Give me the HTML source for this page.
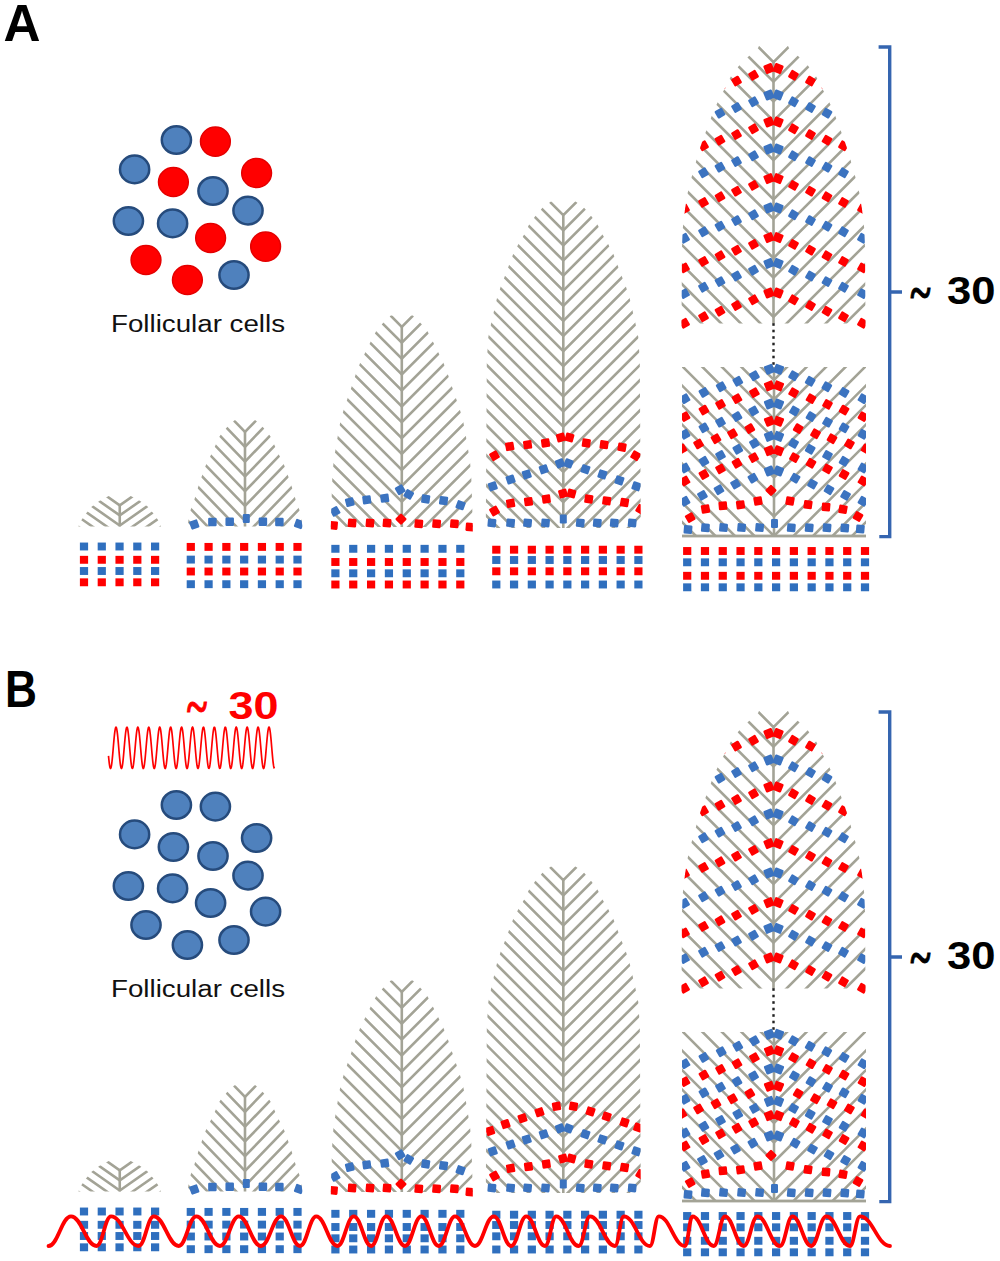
<!DOCTYPE html><html><head><meta charset="utf-8"><style>html,body{margin:0;padding:0;background:#fff;}svg{display:block;}</style></head><body><svg width="1000" height="1261" viewBox="0 0 1000 1261"><defs><clipPath id="c1"><path d="M78.42,526.5 L78.58,526 L78.92,525 L79.25,524 L79.58,523 L80.09,522 L80.78,521 L81.47,520 L82.16,519 L82.84,518 L83.53,517 L84.22,516 L84.91,515 L85.65,514 L86.45,513 L87.25,512 L88.05,511 L88.85,510 L89.65,509 L90.45,508 L91.25,507 L92.58,506 L93.92,505 L95.25,504 L96.58,503 L97.92,502 L99.25,501 L101.15,500 L103.05,499 L104.95,498 L106.85,497 L108.75,496 L130.75,496 L132.65,497 L134.55,498 L136.45,499 L138.35,500 L140.25,501 L141.58,502 L142.92,503 L144.25,504 L145.58,505 L146.92,506 L148.25,507 L149.05,508 L149.85,509 L150.65,510 L151.45,511 L152.25,512 L153.05,513 L153.85,514 L154.59,515 L155.28,516 L155.97,517 L156.66,518 L157.34,519 L158.03,520 L158.72,521 L159.41,522 L159.92,523 L160.25,524 L160.58,525 L160.92,526 L161.08,526.5 Z"/></clipPath><clipPath id="c2"><path d="M187.54,526.5 L187.57,526.3 L187.72,525.3 L187.86,524.3 L188,523.3 L188.15,522.3 L188.29,521.3 L188.44,520.3 L188.58,519.3 L188.72,518.3 L188.87,517.3 L189.01,516.3 L189.15,515.3 L189.3,514.3 L189.44,513.3 L189.72,512.3 L190.1,511.3 L190.47,510.3 L190.85,509.3 L191.22,508.3 L191.6,507.3 L191.97,506.3 L192.35,505.3 L192.72,504.3 L193.1,503.3 L193.47,502.3 L193.85,501.3 L194.18,500.3 L194.47,499.3 L194.77,498.3 L195.07,497.3 L195.37,496.3 L195.66,495.3 L195.96,494.3 L196.26,493.3 L196.55,492.3 L196.85,491.3 L197.15,490.3 L197.44,489.3 L197.74,488.3 L198.07,487.3 L198.41,486.3 L198.74,485.3 L199.08,484.3 L199.41,483.3 L199.75,482.3 L200.09,481.3 L200.42,480.3 L200.76,479.3 L201.1,478.3 L201.43,477.3 L201.78,476.3 L202.14,475.3 L202.5,474.3 L202.85,473.3 L203.21,472.3 L203.57,471.3 L203.93,470.3 L204.29,469.3 L204.65,468.3 L205.01,467.3 L205.36,466.3 L205.85,465.3 L206.34,464.3 L206.84,463.3 L207.33,462.3 L207.83,461.3 L208.32,460.3 L208.82,459.3 L209.31,458.3 L209.81,457.3 L210.3,456.3 L210.79,455.3 L211.26,454.3 L211.73,453.3 L212.2,452.3 L212.67,451.3 L213.13,450.3 L213.6,449.3 L214.07,448.3 L214.54,447.3 L215.01,446.3 L215.48,445.3 L215.93,444.3 L216.39,443.3 L216.85,442.3 L217.31,441.3 L217.77,440.3 L218.23,439.3 L218.69,438.3 L219.15,437.3 L219.61,436.3 L220.36,435.3 L221.17,434.3 L221.99,433.3 L222.81,432.3 L223.63,431.3 L224.45,430.3 L225.27,429.3 L226.09,428.3 L227.03,427.3 L228.1,426.3 L229.17,425.3 L230.23,424.3 L231.3,423.3 L232.37,422.3 L233.43,421.3 L234.5,420.3 L255.5,420.3 L256.57,421.3 L257.63,422.3 L258.7,423.3 L259.77,424.3 L260.83,425.3 L261.9,426.3 L262.97,427.3 L263.91,428.3 L264.73,429.3 L265.55,430.3 L266.37,431.3 L267.19,432.3 L268.01,433.3 L268.83,434.3 L269.64,435.3 L270.39,436.3 L270.85,437.3 L271.31,438.3 L271.77,439.3 L272.23,440.3 L272.69,441.3 L273.15,442.3 L273.61,443.3 L274.07,444.3 L274.52,445.3 L274.99,446.3 L275.46,447.3 L275.93,448.3 L276.4,449.3 L276.87,450.3 L277.33,451.3 L277.8,452.3 L278.27,453.3 L278.74,454.3 L279.21,455.3 L279.7,456.3 L280.19,457.3 L280.69,458.3 L281.18,459.3 L281.68,460.3 L282.17,461.3 L282.67,462.3 L283.16,463.3 L283.66,464.3 L284.15,465.3 L284.64,466.3 L284.99,467.3 L285.35,468.3 L285.71,469.3 L286.07,470.3 L286.43,471.3 L286.79,472.3 L287.15,473.3 L287.5,474.3 L287.86,475.3 L288.22,476.3 L288.57,477.3 L288.9,478.3 L289.24,479.3 L289.58,480.3 L289.91,481.3 L290.25,482.3 L290.59,483.3 L290.92,484.3 L291.26,485.3 L291.59,486.3 L291.93,487.3 L292.26,488.3 L292.56,489.3 L292.85,490.3 L293.15,491.3 L293.45,492.3 L293.74,493.3 L294.04,494.3 L294.34,495.3 L294.63,496.3 L294.93,497.3 L295.23,498.3 L295.52,499.3 L295.82,500.3 L296.15,501.3 L296.52,502.3 L296.9,503.3 L297.27,504.3 L297.65,505.3 L298.02,506.3 L298.4,507.3 L298.77,508.3 L299.15,509.3 L299.52,510.3 L299.9,511.3 L300.27,512.3 L300.56,513.3 L300.7,514.3 L300.85,515.3 L300.99,516.3 L301.13,517.3 L301.28,518.3 L301.42,519.3 L301.56,520.3 L301.71,521.3 L301.85,522.3 L302,523.3 L302.14,524.3 L302.28,525.3 L302.43,526.3 L302.46,526.5 Z"/></clipPath><clipPath id="c3"><path d="M187.54,534.5 L187.54,526.5 L187.57,526.3 L187.72,525.3 L187.86,524.3 L188,523.3 L188.15,522.3 L188.29,521.3 L188.44,520.3 L188.58,519.3 L188.72,518.3 L188.87,517.3 L189.01,516.3 L189.15,515.3 L189.3,514.3 L189.44,513.3 L189.72,512.3 L190.1,511.3 L190.47,510.3 L190.85,509.3 L191.22,508.3 L191.6,507.3 L191.97,506.3 L192.35,505.3 L192.72,504.3 L193.1,503.3 L193.47,502.3 L193.85,501.3 L194.18,500.3 L194.47,499.3 L194.77,498.3 L195.07,497.3 L195.37,496.3 L195.66,495.3 L195.96,494.3 L196.26,493.3 L196.55,492.3 L196.85,491.3 L197.15,490.3 L197.44,489.3 L197.74,488.3 L198.07,487.3 L198.41,486.3 L198.74,485.3 L199.08,484.3 L199.41,483.3 L199.75,482.3 L200.09,481.3 L200.42,480.3 L200.76,479.3 L201.1,478.3 L201.43,477.3 L201.78,476.3 L202.14,475.3 L202.5,474.3 L202.85,473.3 L203.21,472.3 L203.57,471.3 L203.93,470.3 L204.29,469.3 L204.65,468.3 L205.01,467.3 L205.36,466.3 L205.85,465.3 L206.34,464.3 L206.84,463.3 L207.33,462.3 L207.83,461.3 L208.32,460.3 L208.82,459.3 L209.31,458.3 L209.81,457.3 L210.3,456.3 L210.79,455.3 L211.26,454.3 L211.73,453.3 L212.2,452.3 L212.67,451.3 L213.13,450.3 L213.6,449.3 L214.07,448.3 L214.54,447.3 L215.01,446.3 L215.48,445.3 L215.93,444.3 L216.39,443.3 L216.85,442.3 L217.31,441.3 L217.77,440.3 L218.23,439.3 L218.69,438.3 L219.15,437.3 L219.61,436.3 L220.36,435.3 L221.17,434.3 L221.99,433.3 L222.81,432.3 L223.63,431.3 L224.45,430.3 L225.27,429.3 L226.09,428.3 L227.03,427.3 L228.1,426.3 L229.17,425.3 L230.23,424.3 L231.3,423.3 L232.37,422.3 L233.43,421.3 L234.5,420.3 L255.5,420.3 L256.57,421.3 L257.63,422.3 L258.7,423.3 L259.77,424.3 L260.83,425.3 L261.9,426.3 L262.97,427.3 L263.91,428.3 L264.73,429.3 L265.55,430.3 L266.37,431.3 L267.19,432.3 L268.01,433.3 L268.83,434.3 L269.64,435.3 L270.39,436.3 L270.85,437.3 L271.31,438.3 L271.77,439.3 L272.23,440.3 L272.69,441.3 L273.15,442.3 L273.61,443.3 L274.07,444.3 L274.52,445.3 L274.99,446.3 L275.46,447.3 L275.93,448.3 L276.4,449.3 L276.87,450.3 L277.33,451.3 L277.8,452.3 L278.27,453.3 L278.74,454.3 L279.21,455.3 L279.7,456.3 L280.19,457.3 L280.69,458.3 L281.18,459.3 L281.68,460.3 L282.17,461.3 L282.67,462.3 L283.16,463.3 L283.66,464.3 L284.15,465.3 L284.64,466.3 L284.99,467.3 L285.35,468.3 L285.71,469.3 L286.07,470.3 L286.43,471.3 L286.79,472.3 L287.15,473.3 L287.5,474.3 L287.86,475.3 L288.22,476.3 L288.57,477.3 L288.9,478.3 L289.24,479.3 L289.58,480.3 L289.91,481.3 L290.25,482.3 L290.59,483.3 L290.92,484.3 L291.26,485.3 L291.59,486.3 L291.93,487.3 L292.26,488.3 L292.56,489.3 L292.85,490.3 L293.15,491.3 L293.45,492.3 L293.74,493.3 L294.04,494.3 L294.34,495.3 L294.63,496.3 L294.93,497.3 L295.23,498.3 L295.52,499.3 L295.82,500.3 L296.15,501.3 L296.52,502.3 L296.9,503.3 L297.27,504.3 L297.65,505.3 L298.02,506.3 L298.4,507.3 L298.77,508.3 L299.15,509.3 L299.52,510.3 L299.9,511.3 L300.27,512.3 L300.56,513.3 L300.7,514.3 L300.85,515.3 L300.99,516.3 L301.13,517.3 L301.28,518.3 L301.42,519.3 L301.56,520.3 L301.71,521.3 L301.85,522.3 L302,523.3 L302.14,524.3 L302.28,525.3 L302.43,526.3 L302.46,526.5 L302.46,534.5 Z"/></clipPath><clipPath id="c4"><path d="M330.81,527 L330.83,526.5 L330.86,525.5 L330.89,524.5 L330.92,523.5 L330.94,522.5 L330.97,521.5 L331,520.5 L331.03,519.5 L331.06,518.5 L331.09,517.5 L331.12,516.5 L331.15,515.5 L331.18,514.5 L331.2,513.5 L331.23,512.5 L331.26,511.5 L331.29,510.5 L331.32,509.5 L331.35,508.5 L331.38,507.5 L331.41,506.5 L331.44,505.5 L331.46,504.5 L331.49,503.5 L331.52,502.5 L331.55,501.5 L331.58,500.5 L331.61,499.5 L331.64,498.5 L331.67,497.5 L331.7,496.5 L331.72,495.5 L331.75,494.5 L331.78,493.5 L331.81,492.5 L331.85,491.5 L331.88,490.5 L331.92,489.5 L331.95,488.5 L331.99,487.5 L332.02,486.5 L332.06,485.5 L332.09,484.5 L332.12,483.5 L332.16,482.5 L332.19,481.5 L332.23,480.5 L332.26,479.5 L332.3,478.5 L332.33,477.5 L332.37,476.5 L332.4,475.5 L332.49,474.5 L332.57,473.5 L332.66,472.5 L332.74,471.5 L332.83,470.5 L332.91,469.5 L333,468.5 L333.08,467.5 L333.17,466.5 L333.25,465.5 L333.34,464.5 L333.42,463.5 L333.51,462.5 L333.59,461.5 L333.74,460.5 L333.91,459.5 L334.07,458.5 L334.23,457.5 L334.39,456.5 L334.55,455.5 L334.71,454.5 L334.87,453.5 L335.03,452.5 L335.19,451.5 L335.35,450.5 L335.51,449.5 L335.67,448.5 L335.84,447.5 L336,446.5 L336.17,445.5 L336.34,444.5 L336.5,443.5 L336.67,442.5 L336.84,441.5 L337.01,440.5 L337.18,439.5 L337.34,438.5 L337.51,437.5 L337.68,436.5 L337.85,435.5 L338.01,434.5 L338.18,433.5 L338.35,432.5 L338.54,431.5 L338.72,430.5 L338.9,429.5 L339.09,428.5 L339.27,427.5 L339.45,426.5 L339.64,425.5 L339.82,424.5 L340,423.5 L340.19,422.5 L340.37,421.5 L340.55,420.5 L340.76,419.5 L341.06,418.5 L341.37,417.5 L341.67,416.5 L341.97,415.5 L342.27,414.5 L342.58,413.5 L342.88,412.5 L343.18,411.5 L343.48,410.5 L343.79,409.5 L344.09,408.5 L344.4,407.5 L344.75,406.5 L345.1,405.5 L345.45,404.5 L345.79,403.5 L346.14,402.5 L346.49,401.5 L346.84,400.5 L347.18,399.5 L347.53,398.5 L347.88,397.5 L348.23,396.5 L348.57,395.5 L348.92,394.5 L349.26,393.5 L349.61,392.5 L349.95,391.5 L350.29,390.5 L350.64,389.5 L350.98,388.5 L351.33,387.5 L351.67,386.5 L352.02,385.5 L352.36,384.5 L352.7,383.5 L353.02,382.5 L353.35,381.5 L353.68,380.5 L354.01,379.5 L354.33,378.5 L354.66,377.5 L354.99,376.5 L355.32,375.5 L355.64,374.5 L355.97,373.5 L356.3,372.5 L356.7,371.5 L357.1,370.5 L357.5,369.5 L357.9,368.5 L358.3,367.5 L358.7,366.5 L359.1,365.5 L359.5,364.5 L359.9,363.5 L360.3,362.5 L360.75,361.5 L361.25,360.5 L361.75,359.5 L362.25,358.5 L362.75,357.5 L363.25,356.5 L363.75,355.5 L364.25,354.5 L364.75,353.5 L365.25,352.5 L365.75,351.5 L366.25,350.5 L366.75,349.5 L367.25,348.5 L367.75,347.5 L368.25,346.5 L368.75,345.5 L369.25,344.5 L369.75,343.5 L370.25,342.5 L370.75,341.5 L371.26,340.5 L371.79,339.5 L372.32,338.5 L372.84,337.5 L373.37,336.5 L373.89,335.5 L374.42,334.5 L374.95,333.5 L375.47,332.5 L376,331.5 L376.82,330.5 L377.65,329.5 L378.47,328.5 L379.29,327.5 L380.12,326.5 L380.94,325.5 L381.76,324.5 L382.59,323.5 L383.52,322.5 L384.56,321.5 L385.6,320.5 L386.64,319.5 L387.68,318.5 L388.72,317.5 L389.76,316.5 L390.8,315.5 L412.8,315.5 L413.84,316.5 L414.88,317.5 L415.92,318.5 L416.96,319.5 L418,320.5 L419.04,321.5 L420.08,322.5 L421.01,323.5 L421.84,324.5 L422.66,325.5 L423.48,326.5 L424.31,327.5 L425.13,328.5 L425.95,329.5 L426.78,330.5 L427.6,331.5 L428.13,332.5 L428.65,333.5 L429.18,334.5 L429.71,335.5 L430.23,336.5 L430.76,337.5 L431.28,338.5 L431.81,339.5 L432.34,340.5 L432.85,341.5 L433.35,342.5 L433.85,343.5 L434.35,344.5 L434.85,345.5 L435.35,346.5 L435.85,347.5 L436.35,348.5 L436.85,349.5 L437.35,350.5 L437.85,351.5 L438.35,352.5 L438.85,353.5 L439.35,354.5 L439.85,355.5 L440.35,356.5 L440.85,357.5 L441.35,358.5 L441.85,359.5 L442.35,360.5 L442.85,361.5 L443.3,362.5 L443.7,363.5 L444.1,364.5 L444.5,365.5 L444.9,366.5 L445.3,367.5 L445.7,368.5 L446.1,369.5 L446.5,370.5 L446.9,371.5 L447.3,372.5 L447.63,373.5 L447.96,374.5 L448.28,375.5 L448.61,376.5 L448.94,377.5 L449.27,378.5 L449.59,379.5 L449.92,380.5 L450.25,381.5 L450.58,382.5 L450.9,383.5 L451.24,384.5 L451.58,385.5 L451.93,386.5 L452.27,387.5 L452.62,388.5 L452.96,389.5 L453.31,390.5 L453.65,391.5 L453.99,392.5 L454.34,393.5 L454.68,394.5 L455.03,395.5 L455.37,396.5 L455.72,397.5 L456.07,398.5 L456.42,399.5 L456.76,400.5 L457.11,401.5 L457.46,402.5 L457.81,403.5 L458.15,404.5 L458.5,405.5 L458.85,406.5 L459.2,407.5 L459.51,408.5 L459.81,409.5 L460.12,410.5 L460.42,411.5 L460.72,412.5 L461.02,413.5 L461.33,414.5 L461.63,415.5 L461.93,416.5 L462.23,417.5 L462.54,418.5 L462.84,419.5 L463.05,420.5 L463.23,421.5 L463.41,422.5 L463.6,423.5 L463.78,424.5 L463.96,425.5 L464.15,426.5 L464.33,427.5 L464.51,428.5 L464.7,429.5 L464.88,430.5 L465.06,431.5 L465.25,432.5 L465.42,433.5 L465.59,434.5 L465.75,435.5 L465.92,436.5 L466.09,437.5 L466.26,438.5 L466.42,439.5 L466.59,440.5 L466.76,441.5 L466.93,442.5 L467.1,443.5 L467.26,444.5 L467.43,445.5 L467.6,446.5 L467.76,447.5 L467.93,448.5 L468.09,449.5 L468.25,450.5 L468.41,451.5 L468.57,452.5 L468.73,453.5 L468.89,454.5 L469.05,455.5 L469.21,456.5 L469.37,457.5 L469.53,458.5 L469.69,459.5 L469.86,460.5 L470.01,461.5 L470.09,462.5 L470.18,463.5 L470.26,464.5 L470.35,465.5 L470.43,466.5 L470.52,467.5 L470.6,468.5 L470.69,469.5 L470.77,470.5 L470.86,471.5 L470.94,472.5 L471.03,473.5 L471.11,474.5 L471.2,475.5 L471.23,476.5 L471.27,477.5 L471.3,478.5 L471.34,479.5 L471.37,480.5 L471.41,481.5 L471.44,482.5 L471.48,483.5 L471.51,484.5 L471.54,485.5 L471.58,486.5 L471.61,487.5 L471.65,488.5 L471.68,489.5 L471.72,490.5 L471.75,491.5 L471.79,492.5 L471.82,493.5 L471.85,494.5 L471.88,495.5 L471.9,496.5 L471.93,497.5 L471.96,498.5 L471.99,499.5 L472.02,500.5 L472.05,501.5 L472.08,502.5 L472.11,503.5 L472.14,504.5 L472.16,505.5 L472.19,506.5 L472.22,507.5 L472.25,508.5 L472.28,509.5 L472.31,510.5 L472.34,511.5 L472.37,512.5 L472.4,513.5 L472.42,514.5 L472.45,515.5 L472.48,516.5 L472.51,517.5 L472.54,518.5 L472.57,519.5 L472.6,520.5 L472.63,521.5 L472.66,522.5 L472.68,523.5 L472.71,524.5 L472.74,525.5 L472.77,526.5 L472.79,527 Z"/></clipPath><clipPath id="c5"><path d="M330.81,535 L330.81,527 L330.83,526.5 L330.86,525.5 L330.89,524.5 L330.92,523.5 L330.94,522.5 L330.97,521.5 L331,520.5 L331.03,519.5 L331.06,518.5 L331.09,517.5 L331.12,516.5 L331.15,515.5 L331.18,514.5 L331.2,513.5 L331.23,512.5 L331.26,511.5 L331.29,510.5 L331.32,509.5 L331.35,508.5 L331.38,507.5 L331.41,506.5 L331.44,505.5 L331.46,504.5 L331.49,503.5 L331.52,502.5 L331.55,501.5 L331.58,500.5 L331.61,499.5 L331.64,498.5 L331.67,497.5 L331.7,496.5 L331.72,495.5 L331.75,494.5 L331.78,493.5 L331.81,492.5 L331.85,491.5 L331.88,490.5 L331.92,489.5 L331.95,488.5 L331.99,487.5 L332.02,486.5 L332.06,485.5 L332.09,484.5 L332.12,483.5 L332.16,482.5 L332.19,481.5 L332.23,480.5 L332.26,479.5 L332.3,478.5 L332.33,477.5 L332.37,476.5 L332.4,475.5 L332.49,474.5 L332.57,473.5 L332.66,472.5 L332.74,471.5 L332.83,470.5 L332.91,469.5 L333,468.5 L333.08,467.5 L333.17,466.5 L333.25,465.5 L333.34,464.5 L333.42,463.5 L333.51,462.5 L333.59,461.5 L333.74,460.5 L333.91,459.5 L334.07,458.5 L334.23,457.5 L334.39,456.5 L334.55,455.5 L334.71,454.5 L334.87,453.5 L335.03,452.5 L335.19,451.5 L335.35,450.5 L335.51,449.5 L335.67,448.5 L335.84,447.5 L336,446.5 L336.17,445.5 L336.34,444.5 L336.5,443.5 L336.67,442.5 L336.84,441.5 L337.01,440.5 L337.18,439.5 L337.34,438.5 L337.51,437.5 L337.68,436.5 L337.85,435.5 L338.01,434.5 L338.18,433.5 L338.35,432.5 L338.54,431.5 L338.72,430.5 L338.9,429.5 L339.09,428.5 L339.27,427.5 L339.45,426.5 L339.64,425.5 L339.82,424.5 L340,423.5 L340.19,422.5 L340.37,421.5 L340.55,420.5 L340.76,419.5 L341.06,418.5 L341.37,417.5 L341.67,416.5 L341.97,415.5 L342.27,414.5 L342.58,413.5 L342.88,412.5 L343.18,411.5 L343.48,410.5 L343.79,409.5 L344.09,408.5 L344.4,407.5 L344.75,406.5 L345.1,405.5 L345.45,404.5 L345.79,403.5 L346.14,402.5 L346.49,401.5 L346.84,400.5 L347.18,399.5 L347.53,398.5 L347.88,397.5 L348.23,396.5 L348.57,395.5 L348.92,394.5 L349.26,393.5 L349.61,392.5 L349.95,391.5 L350.29,390.5 L350.64,389.5 L350.98,388.5 L351.33,387.5 L351.67,386.5 L352.02,385.5 L352.36,384.5 L352.7,383.5 L353.02,382.5 L353.35,381.5 L353.68,380.5 L354.01,379.5 L354.33,378.5 L354.66,377.5 L354.99,376.5 L355.32,375.5 L355.64,374.5 L355.97,373.5 L356.3,372.5 L356.7,371.5 L357.1,370.5 L357.5,369.5 L357.9,368.5 L358.3,367.5 L358.7,366.5 L359.1,365.5 L359.5,364.5 L359.9,363.5 L360.3,362.5 L360.75,361.5 L361.25,360.5 L361.75,359.5 L362.25,358.5 L362.75,357.5 L363.25,356.5 L363.75,355.5 L364.25,354.5 L364.75,353.5 L365.25,352.5 L365.75,351.5 L366.25,350.5 L366.75,349.5 L367.25,348.5 L367.75,347.5 L368.25,346.5 L368.75,345.5 L369.25,344.5 L369.75,343.5 L370.25,342.5 L370.75,341.5 L371.26,340.5 L371.79,339.5 L372.32,338.5 L372.84,337.5 L373.37,336.5 L373.89,335.5 L374.42,334.5 L374.95,333.5 L375.47,332.5 L376,331.5 L376.82,330.5 L377.65,329.5 L378.47,328.5 L379.29,327.5 L380.12,326.5 L380.94,325.5 L381.76,324.5 L382.59,323.5 L383.52,322.5 L384.56,321.5 L385.6,320.5 L386.64,319.5 L387.68,318.5 L388.72,317.5 L389.76,316.5 L390.8,315.5 L412.8,315.5 L413.84,316.5 L414.88,317.5 L415.92,318.5 L416.96,319.5 L418,320.5 L419.04,321.5 L420.08,322.5 L421.01,323.5 L421.84,324.5 L422.66,325.5 L423.48,326.5 L424.31,327.5 L425.13,328.5 L425.95,329.5 L426.78,330.5 L427.6,331.5 L428.13,332.5 L428.65,333.5 L429.18,334.5 L429.71,335.5 L430.23,336.5 L430.76,337.5 L431.28,338.5 L431.81,339.5 L432.34,340.5 L432.85,341.5 L433.35,342.5 L433.85,343.5 L434.35,344.5 L434.85,345.5 L435.35,346.5 L435.85,347.5 L436.35,348.5 L436.85,349.5 L437.35,350.5 L437.85,351.5 L438.35,352.5 L438.85,353.5 L439.35,354.5 L439.85,355.5 L440.35,356.5 L440.85,357.5 L441.35,358.5 L441.85,359.5 L442.35,360.5 L442.85,361.5 L443.3,362.5 L443.7,363.5 L444.1,364.5 L444.5,365.5 L444.9,366.5 L445.3,367.5 L445.7,368.5 L446.1,369.5 L446.5,370.5 L446.9,371.5 L447.3,372.5 L447.63,373.5 L447.96,374.5 L448.28,375.5 L448.61,376.5 L448.94,377.5 L449.27,378.5 L449.59,379.5 L449.92,380.5 L450.25,381.5 L450.58,382.5 L450.9,383.5 L451.24,384.5 L451.58,385.5 L451.93,386.5 L452.27,387.5 L452.62,388.5 L452.96,389.5 L453.31,390.5 L453.65,391.5 L453.99,392.5 L454.34,393.5 L454.68,394.5 L455.03,395.5 L455.37,396.5 L455.72,397.5 L456.07,398.5 L456.42,399.5 L456.76,400.5 L457.11,401.5 L457.46,402.5 L457.81,403.5 L458.15,404.5 L458.5,405.5 L458.85,406.5 L459.2,407.5 L459.51,408.5 L459.81,409.5 L460.12,410.5 L460.42,411.5 L460.72,412.5 L461.02,413.5 L461.33,414.5 L461.63,415.5 L461.93,416.5 L462.23,417.5 L462.54,418.5 L462.84,419.5 L463.05,420.5 L463.23,421.5 L463.41,422.5 L463.6,423.5 L463.78,424.5 L463.96,425.5 L464.15,426.5 L464.33,427.5 L464.51,428.5 L464.7,429.5 L464.88,430.5 L465.06,431.5 L465.25,432.5 L465.42,433.5 L465.59,434.5 L465.75,435.5 L465.92,436.5 L466.09,437.5 L466.26,438.5 L466.42,439.5 L466.59,440.5 L466.76,441.5 L466.93,442.5 L467.1,443.5 L467.26,444.5 L467.43,445.5 L467.6,446.5 L467.76,447.5 L467.93,448.5 L468.09,449.5 L468.25,450.5 L468.41,451.5 L468.57,452.5 L468.73,453.5 L468.89,454.5 L469.05,455.5 L469.21,456.5 L469.37,457.5 L469.53,458.5 L469.69,459.5 L469.86,460.5 L470.01,461.5 L470.09,462.5 L470.18,463.5 L470.26,464.5 L470.35,465.5 L470.43,466.5 L470.52,467.5 L470.6,468.5 L470.69,469.5 L470.77,470.5 L470.86,471.5 L470.94,472.5 L471.03,473.5 L471.11,474.5 L471.2,475.5 L471.23,476.5 L471.27,477.5 L471.3,478.5 L471.34,479.5 L471.37,480.5 L471.41,481.5 L471.44,482.5 L471.48,483.5 L471.51,484.5 L471.54,485.5 L471.58,486.5 L471.61,487.5 L471.65,488.5 L471.68,489.5 L471.72,490.5 L471.75,491.5 L471.79,492.5 L471.82,493.5 L471.85,494.5 L471.88,495.5 L471.9,496.5 L471.93,497.5 L471.96,498.5 L471.99,499.5 L472.02,500.5 L472.05,501.5 L472.08,502.5 L472.11,503.5 L472.14,504.5 L472.16,505.5 L472.19,506.5 L472.22,507.5 L472.25,508.5 L472.28,509.5 L472.31,510.5 L472.34,511.5 L472.37,512.5 L472.4,513.5 L472.42,514.5 L472.45,515.5 L472.48,516.5 L472.51,517.5 L472.54,518.5 L472.57,519.5 L472.6,520.5 L472.63,521.5 L472.66,522.5 L472.68,523.5 L472.71,524.5 L472.74,525.5 L472.77,526.5 L472.79,527 L472.79,535 Z"/></clipPath><clipPath id="c6"><path d="M485.8,528 L485.81,527.5 L485.81,526.5 L485.82,525.5 L485.82,524.5 L485.83,523.5 L485.84,522.5 L485.84,521.5 L485.85,520.5 L485.85,519.5 L485.86,518.5 L485.87,517.5 L485.87,516.5 L485.88,515.5 L485.88,514.5 L485.89,513.5 L485.9,512.5 L485.9,511.5 L485.91,510.5 L485.91,509.5 L485.92,508.5 L485.93,507.5 L485.93,506.5 L485.94,505.5 L485.94,504.5 L485.95,503.5 L485.96,502.5 L485.96,501.5 L485.97,500.5 L485.97,499.5 L485.98,498.5 L485.99,497.5 L485.99,496.5 L486,495.5 L486,494.5 L486.01,493.5 L486.02,492.5 L486.02,491.5 L486.03,490.5 L486.03,489.5 L486.04,488.5 L486.05,487.5 L486.05,486.5 L486.06,485.5 L486.06,484.5 L486.07,483.5 L486.08,482.5 L486.08,481.5 L486.09,480.5 L486.09,479.5 L486.1,478.5 L486.11,477.5 L486.11,476.5 L486.12,475.5 L486.12,474.5 L486.13,473.5 L486.14,472.5 L486.14,471.5 L486.15,470.5 L486.15,469.5 L486.16,468.5 L486.17,467.5 L486.17,466.5 L486.18,465.5 L486.18,464.5 L486.19,463.5 L486.2,462.5 L486.2,461.5 L486.21,460.5 L486.21,459.5 L486.22,458.5 L486.23,457.5 L486.23,456.5 L486.24,455.5 L486.24,454.5 L486.25,453.5 L486.26,452.5 L486.26,451.5 L486.27,450.5 L486.27,449.5 L486.28,448.5 L486.29,447.5 L486.29,446.5 L486.3,445.5 L486.3,444.5 L486.31,443.5 L486.31,442.5 L486.32,441.5 L486.33,440.5 L486.33,439.5 L486.34,438.5 L486.34,437.5 L486.35,436.5 L486.36,435.5 L486.36,434.5 L486.37,433.5 L486.37,432.5 L486.38,431.5 L486.39,430.5 L486.39,429.5 L486.4,428.5 L486.4,427.5 L486.41,426.5 L486.42,425.5 L486.42,424.5 L486.43,423.5 L486.43,422.5 L486.44,421.5 L486.45,420.5 L486.45,419.5 L486.46,418.5 L486.46,417.5 L486.47,416.5 L486.48,415.5 L486.48,414.5 L486.49,413.5 L486.49,412.5 L486.5,411.5 L486.51,410.5 L486.51,409.5 L486.52,408.5 L486.52,407.5 L486.53,406.5 L486.54,405.5 L486.54,404.5 L486.55,403.5 L486.55,402.5 L486.56,401.5 L486.57,400.5 L486.57,399.5 L486.58,398.5 L486.58,397.5 L486.59,396.5 L486.6,395.5 L486.6,394.5 L486.61,393.5 L486.61,392.5 L486.62,391.5 L486.63,390.5 L486.63,389.5 L486.64,388.5 L486.64,387.5 L486.65,386.5 L486.66,385.5 L486.66,384.5 L486.67,383.5 L486.67,382.5 L486.68,381.5 L486.69,380.5 L486.69,379.5 L486.7,378.5 L486.7,377.5 L486.71,376.5 L486.72,375.5 L486.72,374.5 L486.73,373.5 L486.73,372.5 L486.74,371.5 L486.75,370.5 L486.75,369.5 L486.76,368.5 L486.76,367.5 L486.77,366.5 L486.78,365.5 L486.78,364.5 L486.79,363.5 L486.79,362.5 L486.8,361.5 L486.86,360.5 L486.92,359.5 L486.98,358.5 L487.05,357.5 L487.11,356.5 L487.17,355.5 L487.23,354.5 L487.29,353.5 L487.35,352.5 L487.41,351.5 L487.48,350.5 L487.54,349.5 L487.6,348.5 L487.66,347.5 L487.72,346.5 L487.78,345.5 L487.85,344.5 L487.91,343.5 L487.97,342.5 L488.03,341.5 L488.09,340.5 L488.15,339.5 L488.21,338.5 L488.28,337.5 L488.42,336.5 L488.63,335.5 L488.84,334.5 L489.04,333.5 L489.25,332.5 L489.45,331.5 L489.66,330.5 L489.87,329.5 L490.07,328.5 L490.28,327.5 L490.48,326.5 L490.69,325.5 L490.9,324.5 L491.11,323.5 L491.34,322.5 L491.57,321.5 L491.8,320.5 L492.03,319.5 L492.26,318.5 L492.49,317.5 L492.72,316.5 L492.95,315.5 L493.18,314.5 L493.4,313.5 L493.63,312.5 L493.86,311.5 L494.09,310.5 L494.33,309.5 L494.56,308.5 L494.8,307.5 L495.03,306.5 L495.26,305.5 L495.5,304.5 L495.73,303.5 L495.96,302.5 L496.2,301.5 L496.43,300.5 L496.67,299.5 L496.9,298.5 L497.22,297.5 L497.54,296.5 L497.86,295.5 L498.17,294.5 L498.49,293.5 L498.81,292.5 L499.13,291.5 L499.45,290.5 L499.77,289.5 L500.09,288.5 L500.4,287.5 L500.77,286.5 L501.17,285.5 L501.56,284.5 L501.95,283.5 L502.34,282.5 L502.74,281.5 L503.13,280.5 L503.52,279.5 L503.91,278.5 L504.31,277.5 L504.7,276.5 L505.08,275.5 L505.46,274.5 L505.84,273.5 L506.22,272.5 L506.6,271.5 L506.98,270.5 L507.36,269.5 L507.74,268.5 L508.12,267.5 L508.5,266.5 L508.87,265.5 L509.25,264.5 L509.62,263.5 L510,262.5 L510.37,261.5 L510.75,260.5 L511.12,259.5 L511.5,258.5 L511.88,257.5 L512.25,256.5 L512.62,255.5 L513,254.5 L513.52,253.5 L514.04,252.5 L514.56,251.5 L515.08,250.5 L515.6,249.5 L516.12,248.5 L516.64,247.5 L517.16,246.5 L517.68,245.5 L518.2,244.5 L518.78,243.5 L519.37,242.5 L519.96,241.5 L520.56,240.5 L521.15,239.5 L521.75,238.5 L522.34,237.5 L522.93,236.5 L523.53,235.5 L524.12,234.5 L524.65,233.5 L525.14,232.5 L525.64,231.5 L526.13,230.5 L526.63,229.5 L527.12,228.5 L527.61,227.5 L528.11,226.5 L528.6,225.5 L529.15,224.5 L529.88,223.5 L530.61,222.5 L531.34,221.5 L532.07,220.5 L532.8,219.5 L533.54,218.5 L534.27,217.5 L535,216.5 L535.86,215.5 L536.71,214.5 L537.57,213.5 L538.42,212.5 L539.28,211.5 L540.13,210.5 L540.99,209.5 L541.84,208.5 L542.7,207.5 L544.08,206.5 L545.47,205.5 L546.85,204.5 L548.23,203.5 L549.62,202.5 L551,201.5 L575.6,201.5 L576.98,202.5 L578.37,203.5 L579.75,204.5 L581.13,205.5 L582.52,206.5 L583.9,207.5 L584.76,208.5 L585.61,209.5 L586.47,210.5 L587.32,211.5 L588.18,212.5 L589.03,213.5 L589.89,214.5 L590.74,215.5 L591.6,216.5 L592.33,217.5 L593.06,218.5 L593.8,219.5 L594.53,220.5 L595.26,221.5 L595.99,222.5 L596.72,223.5 L597.45,224.5 L598,225.5 L598.49,226.5 L598.99,227.5 L599.48,228.5 L599.97,229.5 L600.47,230.5 L600.96,231.5 L601.46,232.5 L601.95,233.5 L602.48,234.5 L603.07,235.5 L603.67,236.5 L604.26,237.5 L604.85,238.5 L605.45,239.5 L606.04,240.5 L606.64,241.5 L607.23,242.5 L607.82,243.5 L608.4,244.5 L608.92,245.5 L609.44,246.5 L609.96,247.5 L610.48,248.5 L611,249.5 L611.52,250.5 L612.04,251.5 L612.56,252.5 L613.08,253.5 L613.6,254.5 L613.97,255.5 L614.35,256.5 L614.72,257.5 L615.1,258.5 L615.47,259.5 L615.85,260.5 L616.22,261.5 L616.6,262.5 L616.97,263.5 L617.35,264.5 L617.72,265.5 L618.1,266.5 L618.48,267.5 L618.86,268.5 L619.24,269.5 L619.62,270.5 L620,271.5 L620.38,272.5 L620.76,273.5 L621.14,274.5 L621.52,275.5 L621.9,276.5 L622.29,277.5 L622.69,278.5 L623.08,279.5 L623.47,280.5 L623.86,281.5 L624.26,282.5 L624.65,283.5 L625.04,284.5 L625.43,285.5 L625.83,286.5 L626.2,287.5 L626.51,288.5 L626.83,289.5 L627.15,290.5 L627.47,291.5 L627.79,292.5 L628.11,293.5 L628.43,294.5 L628.74,295.5 L629.06,296.5 L629.38,297.5 L629.7,298.5 L629.93,299.5 L630.17,300.5 L630.4,301.5 L630.64,302.5 L630.87,303.5 L631.1,304.5 L631.34,305.5 L631.57,306.5 L631.8,307.5 L632.04,308.5 L632.27,309.5 L632.51,310.5 L632.74,311.5 L632.97,312.5 L633.2,313.5 L633.42,314.5 L633.65,315.5 L633.88,316.5 L634.11,317.5 L634.34,318.5 L634.57,319.5 L634.8,320.5 L635.03,321.5 L635.26,322.5 L635.49,323.5 L635.7,324.5 L635.91,325.5 L636.12,326.5 L636.32,327.5 L636.53,328.5 L636.73,329.5 L636.94,330.5 L637.15,331.5 L637.35,332.5 L637.56,333.5 L637.76,334.5 L637.97,335.5 L638.18,336.5 L638.32,337.5 L638.39,338.5 L638.45,339.5 L638.51,340.5 L638.57,341.5 L638.63,342.5 L638.69,343.5 L638.75,344.5 L638.82,345.5 L638.88,346.5 L638.94,347.5 L639,348.5 L639.06,349.5 L639.12,350.5 L639.19,351.5 L639.25,352.5 L639.31,353.5 L639.37,354.5 L639.43,355.5 L639.49,356.5 L639.55,357.5 L639.62,358.5 L639.68,359.5 L639.74,360.5 L639.8,361.5 L639.81,362.5 L639.81,363.5 L639.82,364.5 L639.82,365.5 L639.83,366.5 L639.84,367.5 L639.84,368.5 L639.85,369.5 L639.85,370.5 L639.86,371.5 L639.87,372.5 L639.87,373.5 L639.88,374.5 L639.88,375.5 L639.89,376.5 L639.9,377.5 L639.9,378.5 L639.91,379.5 L639.91,380.5 L639.92,381.5 L639.93,382.5 L639.93,383.5 L639.94,384.5 L639.94,385.5 L639.95,386.5 L639.96,387.5 L639.96,388.5 L639.97,389.5 L639.97,390.5 L639.98,391.5 L639.99,392.5 L639.99,393.5 L640,394.5 L640,395.5 L640.01,396.5 L640.02,397.5 L640.02,398.5 L640.03,399.5 L640.03,400.5 L640.04,401.5 L640.05,402.5 L640.05,403.5 L640.06,404.5 L640.06,405.5 L640.07,406.5 L640.08,407.5 L640.08,408.5 L640.09,409.5 L640.09,410.5 L640.1,411.5 L640.11,412.5 L640.11,413.5 L640.12,414.5 L640.12,415.5 L640.13,416.5 L640.14,417.5 L640.14,418.5 L640.15,419.5 L640.15,420.5 L640.16,421.5 L640.17,422.5 L640.17,423.5 L640.18,424.5 L640.18,425.5 L640.19,426.5 L640.2,427.5 L640.2,428.5 L640.21,429.5 L640.21,430.5 L640.22,431.5 L640.23,432.5 L640.23,433.5 L640.24,434.5 L640.24,435.5 L640.25,436.5 L640.26,437.5 L640.26,438.5 L640.27,439.5 L640.27,440.5 L640.28,441.5 L640.29,442.5 L640.29,443.5 L640.3,444.5 L640.3,445.5 L640.31,446.5 L640.31,447.5 L640.32,448.5 L640.33,449.5 L640.33,450.5 L640.34,451.5 L640.34,452.5 L640.35,453.5 L640.36,454.5 L640.36,455.5 L640.37,456.5 L640.37,457.5 L640.38,458.5 L640.39,459.5 L640.39,460.5 L640.4,461.5 L640.4,462.5 L640.41,463.5 L640.42,464.5 L640.42,465.5 L640.43,466.5 L640.43,467.5 L640.44,468.5 L640.45,469.5 L640.45,470.5 L640.46,471.5 L640.46,472.5 L640.47,473.5 L640.48,474.5 L640.48,475.5 L640.49,476.5 L640.49,477.5 L640.5,478.5 L640.51,479.5 L640.51,480.5 L640.52,481.5 L640.52,482.5 L640.53,483.5 L640.54,484.5 L640.54,485.5 L640.55,486.5 L640.55,487.5 L640.56,488.5 L640.57,489.5 L640.57,490.5 L640.58,491.5 L640.58,492.5 L640.59,493.5 L640.6,494.5 L640.6,495.5 L640.61,496.5 L640.61,497.5 L640.62,498.5 L640.63,499.5 L640.63,500.5 L640.64,501.5 L640.64,502.5 L640.65,503.5 L640.66,504.5 L640.66,505.5 L640.67,506.5 L640.67,507.5 L640.68,508.5 L640.69,509.5 L640.69,510.5 L640.7,511.5 L640.7,512.5 L640.71,513.5 L640.72,514.5 L640.72,515.5 L640.73,516.5 L640.73,517.5 L640.74,518.5 L640.75,519.5 L640.75,520.5 L640.76,521.5 L640.76,522.5 L640.77,523.5 L640.78,524.5 L640.78,525.5 L640.79,526.5 L640.79,527.5 L640.8,528 Z"/></clipPath><clipPath id="c7"><path d="M485.8,536 L485.8,528 L485.81,527.5 L485.81,526.5 L485.82,525.5 L485.82,524.5 L485.83,523.5 L485.84,522.5 L485.84,521.5 L485.85,520.5 L485.85,519.5 L485.86,518.5 L485.87,517.5 L485.87,516.5 L485.88,515.5 L485.88,514.5 L485.89,513.5 L485.9,512.5 L485.9,511.5 L485.91,510.5 L485.91,509.5 L485.92,508.5 L485.93,507.5 L485.93,506.5 L485.94,505.5 L485.94,504.5 L485.95,503.5 L485.96,502.5 L485.96,501.5 L485.97,500.5 L485.97,499.5 L485.98,498.5 L485.99,497.5 L485.99,496.5 L486,495.5 L486,494.5 L486.01,493.5 L486.02,492.5 L486.02,491.5 L486.03,490.5 L486.03,489.5 L486.04,488.5 L486.05,487.5 L486.05,486.5 L486.06,485.5 L486.06,484.5 L486.07,483.5 L486.08,482.5 L486.08,481.5 L486.09,480.5 L486.09,479.5 L486.1,478.5 L486.11,477.5 L486.11,476.5 L486.12,475.5 L486.12,474.5 L486.13,473.5 L486.14,472.5 L486.14,471.5 L486.15,470.5 L486.15,469.5 L486.16,468.5 L486.17,467.5 L486.17,466.5 L486.18,465.5 L486.18,464.5 L486.19,463.5 L486.2,462.5 L486.2,461.5 L486.21,460.5 L486.21,459.5 L486.22,458.5 L486.23,457.5 L486.23,456.5 L486.24,455.5 L486.24,454.5 L486.25,453.5 L486.26,452.5 L486.26,451.5 L486.27,450.5 L486.27,449.5 L486.28,448.5 L486.29,447.5 L486.29,446.5 L486.3,445.5 L486.3,444.5 L486.31,443.5 L486.31,442.5 L486.32,441.5 L486.33,440.5 L486.33,439.5 L486.34,438.5 L486.34,437.5 L486.35,436.5 L486.36,435.5 L486.36,434.5 L486.37,433.5 L486.37,432.5 L486.38,431.5 L486.39,430.5 L486.39,429.5 L486.4,428.5 L486.4,427.5 L486.41,426.5 L486.42,425.5 L486.42,424.5 L486.43,423.5 L486.43,422.5 L486.44,421.5 L486.45,420.5 L486.45,419.5 L486.46,418.5 L486.46,417.5 L486.47,416.5 L486.48,415.5 L486.48,414.5 L486.49,413.5 L486.49,412.5 L486.5,411.5 L486.51,410.5 L486.51,409.5 L486.52,408.5 L486.52,407.5 L486.53,406.5 L486.54,405.5 L486.54,404.5 L486.55,403.5 L486.55,402.5 L486.56,401.5 L486.57,400.5 L486.57,399.5 L486.58,398.5 L486.58,397.5 L486.59,396.5 L486.6,395.5 L486.6,394.5 L486.61,393.5 L486.61,392.5 L486.62,391.5 L486.63,390.5 L486.63,389.5 L486.64,388.5 L486.64,387.5 L486.65,386.5 L486.66,385.5 L486.66,384.5 L486.67,383.5 L486.67,382.5 L486.68,381.5 L486.69,380.5 L486.69,379.5 L486.7,378.5 L486.7,377.5 L486.71,376.5 L486.72,375.5 L486.72,374.5 L486.73,373.5 L486.73,372.5 L486.74,371.5 L486.75,370.5 L486.75,369.5 L486.76,368.5 L486.76,367.5 L486.77,366.5 L486.78,365.5 L486.78,364.5 L486.79,363.5 L486.79,362.5 L486.8,361.5 L486.86,360.5 L486.92,359.5 L486.98,358.5 L487.05,357.5 L487.11,356.5 L487.17,355.5 L487.23,354.5 L487.29,353.5 L487.35,352.5 L487.41,351.5 L487.48,350.5 L487.54,349.5 L487.6,348.5 L487.66,347.5 L487.72,346.5 L487.78,345.5 L487.85,344.5 L487.91,343.5 L487.97,342.5 L488.03,341.5 L488.09,340.5 L488.15,339.5 L488.21,338.5 L488.28,337.5 L488.42,336.5 L488.63,335.5 L488.84,334.5 L489.04,333.5 L489.25,332.5 L489.45,331.5 L489.66,330.5 L489.87,329.5 L490.07,328.5 L490.28,327.5 L490.48,326.5 L490.69,325.5 L490.9,324.5 L491.11,323.5 L491.34,322.5 L491.57,321.5 L491.8,320.5 L492.03,319.5 L492.26,318.5 L492.49,317.5 L492.72,316.5 L492.95,315.5 L493.18,314.5 L493.4,313.5 L493.63,312.5 L493.86,311.5 L494.09,310.5 L494.33,309.5 L494.56,308.5 L494.8,307.5 L495.03,306.5 L495.26,305.5 L495.5,304.5 L495.73,303.5 L495.96,302.5 L496.2,301.5 L496.43,300.5 L496.67,299.5 L496.9,298.5 L497.22,297.5 L497.54,296.5 L497.86,295.5 L498.17,294.5 L498.49,293.5 L498.81,292.5 L499.13,291.5 L499.45,290.5 L499.77,289.5 L500.09,288.5 L500.4,287.5 L500.77,286.5 L501.17,285.5 L501.56,284.5 L501.95,283.5 L502.34,282.5 L502.74,281.5 L503.13,280.5 L503.52,279.5 L503.91,278.5 L504.31,277.5 L504.7,276.5 L505.08,275.5 L505.46,274.5 L505.84,273.5 L506.22,272.5 L506.6,271.5 L506.98,270.5 L507.36,269.5 L507.74,268.5 L508.12,267.5 L508.5,266.5 L508.87,265.5 L509.25,264.5 L509.62,263.5 L510,262.5 L510.37,261.5 L510.75,260.5 L511.12,259.5 L511.5,258.5 L511.88,257.5 L512.25,256.5 L512.62,255.5 L513,254.5 L513.52,253.5 L514.04,252.5 L514.56,251.5 L515.08,250.5 L515.6,249.5 L516.12,248.5 L516.64,247.5 L517.16,246.5 L517.68,245.5 L518.2,244.5 L518.78,243.5 L519.37,242.5 L519.96,241.5 L520.56,240.5 L521.15,239.5 L521.75,238.5 L522.34,237.5 L522.93,236.5 L523.53,235.5 L524.12,234.5 L524.65,233.5 L525.14,232.5 L525.64,231.5 L526.13,230.5 L526.63,229.5 L527.12,228.5 L527.61,227.5 L528.11,226.5 L528.6,225.5 L529.15,224.5 L529.88,223.5 L530.61,222.5 L531.34,221.5 L532.07,220.5 L532.8,219.5 L533.54,218.5 L534.27,217.5 L535,216.5 L535.86,215.5 L536.71,214.5 L537.57,213.5 L538.42,212.5 L539.28,211.5 L540.13,210.5 L540.99,209.5 L541.84,208.5 L542.7,207.5 L544.08,206.5 L545.47,205.5 L546.85,204.5 L548.23,203.5 L549.62,202.5 L551,201.5 L575.6,201.5 L576.98,202.5 L578.37,203.5 L579.75,204.5 L581.13,205.5 L582.52,206.5 L583.9,207.5 L584.76,208.5 L585.61,209.5 L586.47,210.5 L587.32,211.5 L588.18,212.5 L589.03,213.5 L589.89,214.5 L590.74,215.5 L591.6,216.5 L592.33,217.5 L593.06,218.5 L593.8,219.5 L594.53,220.5 L595.26,221.5 L595.99,222.5 L596.72,223.5 L597.45,224.5 L598,225.5 L598.49,226.5 L598.99,227.5 L599.48,228.5 L599.97,229.5 L600.47,230.5 L600.96,231.5 L601.46,232.5 L601.95,233.5 L602.48,234.5 L603.07,235.5 L603.67,236.5 L604.26,237.5 L604.85,238.5 L605.45,239.5 L606.04,240.5 L606.64,241.5 L607.23,242.5 L607.82,243.5 L608.4,244.5 L608.92,245.5 L609.44,246.5 L609.96,247.5 L610.48,248.5 L611,249.5 L611.52,250.5 L612.04,251.5 L612.56,252.5 L613.08,253.5 L613.6,254.5 L613.97,255.5 L614.35,256.5 L614.72,257.5 L615.1,258.5 L615.47,259.5 L615.85,260.5 L616.22,261.5 L616.6,262.5 L616.97,263.5 L617.35,264.5 L617.72,265.5 L618.1,266.5 L618.48,267.5 L618.86,268.5 L619.24,269.5 L619.62,270.5 L620,271.5 L620.38,272.5 L620.76,273.5 L621.14,274.5 L621.52,275.5 L621.9,276.5 L622.29,277.5 L622.69,278.5 L623.08,279.5 L623.47,280.5 L623.86,281.5 L624.26,282.5 L624.65,283.5 L625.04,284.5 L625.43,285.5 L625.83,286.5 L626.2,287.5 L626.51,288.5 L626.83,289.5 L627.15,290.5 L627.47,291.5 L627.79,292.5 L628.11,293.5 L628.43,294.5 L628.74,295.5 L629.06,296.5 L629.38,297.5 L629.7,298.5 L629.93,299.5 L630.17,300.5 L630.4,301.5 L630.64,302.5 L630.87,303.5 L631.1,304.5 L631.34,305.5 L631.57,306.5 L631.8,307.5 L632.04,308.5 L632.27,309.5 L632.51,310.5 L632.74,311.5 L632.97,312.5 L633.2,313.5 L633.42,314.5 L633.65,315.5 L633.88,316.5 L634.11,317.5 L634.34,318.5 L634.57,319.5 L634.8,320.5 L635.03,321.5 L635.26,322.5 L635.49,323.5 L635.7,324.5 L635.91,325.5 L636.12,326.5 L636.32,327.5 L636.53,328.5 L636.73,329.5 L636.94,330.5 L637.15,331.5 L637.35,332.5 L637.56,333.5 L637.76,334.5 L637.97,335.5 L638.18,336.5 L638.32,337.5 L638.39,338.5 L638.45,339.5 L638.51,340.5 L638.57,341.5 L638.63,342.5 L638.69,343.5 L638.75,344.5 L638.82,345.5 L638.88,346.5 L638.94,347.5 L639,348.5 L639.06,349.5 L639.12,350.5 L639.19,351.5 L639.25,352.5 L639.31,353.5 L639.37,354.5 L639.43,355.5 L639.49,356.5 L639.55,357.5 L639.62,358.5 L639.68,359.5 L639.74,360.5 L639.8,361.5 L639.81,362.5 L639.81,363.5 L639.82,364.5 L639.82,365.5 L639.83,366.5 L639.84,367.5 L639.84,368.5 L639.85,369.5 L639.85,370.5 L639.86,371.5 L639.87,372.5 L639.87,373.5 L639.88,374.5 L639.88,375.5 L639.89,376.5 L639.9,377.5 L639.9,378.5 L639.91,379.5 L639.91,380.5 L639.92,381.5 L639.93,382.5 L639.93,383.5 L639.94,384.5 L639.94,385.5 L639.95,386.5 L639.96,387.5 L639.96,388.5 L639.97,389.5 L639.97,390.5 L639.98,391.5 L639.99,392.5 L639.99,393.5 L640,394.5 L640,395.5 L640.01,396.5 L640.02,397.5 L640.02,398.5 L640.03,399.5 L640.03,400.5 L640.04,401.5 L640.05,402.5 L640.05,403.5 L640.06,404.5 L640.06,405.5 L640.07,406.5 L640.08,407.5 L640.08,408.5 L640.09,409.5 L640.09,410.5 L640.1,411.5 L640.11,412.5 L640.11,413.5 L640.12,414.5 L640.12,415.5 L640.13,416.5 L640.14,417.5 L640.14,418.5 L640.15,419.5 L640.15,420.5 L640.16,421.5 L640.17,422.5 L640.17,423.5 L640.18,424.5 L640.18,425.5 L640.19,426.5 L640.2,427.5 L640.2,428.5 L640.21,429.5 L640.21,430.5 L640.22,431.5 L640.23,432.5 L640.23,433.5 L640.24,434.5 L640.24,435.5 L640.25,436.5 L640.26,437.5 L640.26,438.5 L640.27,439.5 L640.27,440.5 L640.28,441.5 L640.29,442.5 L640.29,443.5 L640.3,444.5 L640.3,445.5 L640.31,446.5 L640.31,447.5 L640.32,448.5 L640.33,449.5 L640.33,450.5 L640.34,451.5 L640.34,452.5 L640.35,453.5 L640.36,454.5 L640.36,455.5 L640.37,456.5 L640.37,457.5 L640.38,458.5 L640.39,459.5 L640.39,460.5 L640.4,461.5 L640.4,462.5 L640.41,463.5 L640.42,464.5 L640.42,465.5 L640.43,466.5 L640.43,467.5 L640.44,468.5 L640.45,469.5 L640.45,470.5 L640.46,471.5 L640.46,472.5 L640.47,473.5 L640.48,474.5 L640.48,475.5 L640.49,476.5 L640.49,477.5 L640.5,478.5 L640.51,479.5 L640.51,480.5 L640.52,481.5 L640.52,482.5 L640.53,483.5 L640.54,484.5 L640.54,485.5 L640.55,486.5 L640.55,487.5 L640.56,488.5 L640.57,489.5 L640.57,490.5 L640.58,491.5 L640.58,492.5 L640.59,493.5 L640.6,494.5 L640.6,495.5 L640.61,496.5 L640.61,497.5 L640.62,498.5 L640.63,499.5 L640.63,500.5 L640.64,501.5 L640.64,502.5 L640.65,503.5 L640.66,504.5 L640.66,505.5 L640.67,506.5 L640.67,507.5 L640.68,508.5 L640.69,509.5 L640.69,510.5 L640.7,511.5 L640.7,512.5 L640.71,513.5 L640.72,514.5 L640.72,515.5 L640.73,516.5 L640.73,517.5 L640.74,518.5 L640.75,519.5 L640.75,520.5 L640.76,521.5 L640.76,522.5 L640.77,523.5 L640.78,524.5 L640.78,525.5 L640.79,526.5 L640.79,527.5 L640.8,528 L640.8,536 Z"/></clipPath><clipPath id="c8"><path d="M681.52,323.5 L681.52,323 L681.53,322 L681.53,321 L681.54,320 L681.54,319 L681.55,318 L681.56,317 L681.56,316 L681.57,315 L681.58,314 L681.58,313 L681.59,312 L681.59,311 L681.6,310 L681.61,309 L681.61,308 L681.62,307 L681.63,306 L681.63,305 L681.64,304 L681.65,303 L681.65,302 L681.66,301 L681.66,300 L681.67,299 L681.68,298 L681.68,297 L681.69,296 L681.7,295 L681.7,294 L681.71,293 L681.72,292 L681.72,291 L681.73,290 L681.73,289 L681.74,288 L681.75,287 L681.75,286 L681.76,285 L681.77,284 L681.77,283 L681.78,282 L681.78,281 L681.79,280 L681.8,279 L681.8,278 L681.81,277 L681.82,276 L681.82,275 L681.83,274 L681.84,273 L681.84,272 L681.85,271 L681.85,270 L681.86,269 L681.87,268 L681.87,267 L681.88,266 L681.89,265 L681.89,264 L681.9,263 L681.91,262 L681.91,261 L681.92,260 L681.92,259 L681.93,258 L681.94,257 L681.94,256 L681.95,255 L681.96,254 L681.96,253 L681.97,252 L681.97,251 L681.98,250 L681.99,249 L681.99,248 L682,247 L682.04,246 L682.08,245 L682.12,244 L682.16,243 L682.19,242 L682.23,241 L682.27,240 L682.31,239 L682.35,238 L682.39,237 L682.43,236 L682.47,235 L682.51,234 L682.54,233 L682.58,232 L682.62,231 L682.66,230 L682.7,229 L682.82,228 L682.93,227 L683.05,226 L683.16,225 L683.28,224 L683.39,223 L683.51,222 L683.63,221 L683.74,220 L683.86,219 L683.97,218 L684.09,217 L684.21,216 L684.32,215 L684.44,214 L684.55,213 L684.67,212 L684.78,211 L684.9,210 L685.06,209 L685.21,208 L685.37,207 L685.52,206 L685.68,205 L685.84,204 L685.99,203 L686.15,202 L686.31,201 L686.46,200 L686.62,199 L686.77,198 L686.93,197 L687.09,196 L687.24,195 L687.4,194 L687.64,193 L687.89,192 L688.13,191 L688.37,190 L688.61,189 L688.86,188 L689.1,187 L689.34,186 L689.59,185 L689.83,184 L690.07,183 L690.31,182 L690.56,181 L690.8,180 L691.08,179 L691.36,178 L691.64,177 L691.92,176 L692.2,175 L692.48,174 L692.76,173 L693.04,172 L693.32,171 L693.6,170 L693.88,169 L694.16,168 L694.44,167 L694.72,166 L695,165 L695.29,164 L695.58,163 L695.88,162 L696.17,161 L696.46,160 L696.75,159 L697.04,158 L697.33,157 L697.62,156 L697.92,155 L698.21,154 L698.5,153 L698.82,152 L699.14,151 L699.46,150 L699.79,149 L700.11,148 L700.43,147 L700.75,146 L701.07,145 L701.39,144 L701.71,143 L702.04,142 L702.36,141 L702.68,140 L703,139 L703.39,138 L703.79,137 L704.18,136 L704.57,135 L704.96,134 L705.36,133 L705.75,132 L706.14,131 L706.54,130 L706.93,129 L707.32,128 L707.71,127 L708.11,126 L708.5,125 L708.85,124 L709.21,123 L709.56,122 L709.91,121 L710.27,120 L710.62,119 L710.97,118 L711.33,117 L711.68,116 L712.03,115 L712.39,114 L712.74,113 L713.09,112 L713.45,111 L713.8,110 L714.3,109 L714.81,108 L715.31,107 L715.82,106 L716.32,105 L716.83,104 L717.33,103 L717.84,102 L718.34,101 L718.84,100 L719.35,99 L719.86,98 L720.37,97 L720.88,96 L721.4,95 L721.91,94 L722.42,93 L722.94,92 L723.45,91 L723.96,90 L724.47,89 L724.99,88 L725.5,87 L726.01,86 L726.52,85 L727.03,84 L727.54,83 L728.05,82 L728.55,81 L729.06,80 L729.57,79 L730.08,78 L730.59,77 L731.1,76 L731.87,75 L732.63,74 L733.4,73 L734.17,72 L734.93,71 L735.7,70 L736.47,69 L737.23,68 L738,67 L738.77,66 L739.53,65 L740.3,64 L741.39,63 L742.48,62 L743.56,61 L744.65,60 L745.74,59 L746.83,58 L747.91,57 L749,56 L750.12,55 L751.25,54 L752.38,53 L753.5,52 L754.62,51 L755.75,50 L756.88,49 L758,48 L758.5,47 L759,46 L788,46 L788.5,47 L789,48 L790.12,49 L791.25,50 L792.38,51 L793.5,52 L794.62,53 L795.75,54 L796.88,55 L798,56 L799.09,57 L800.17,58 L801.26,59 L802.35,60 L803.44,61 L804.52,62 L805.61,63 L806.7,64 L807.47,65 L808.23,66 L809,67 L809.77,68 L810.53,69 L811.3,70 L812.07,71 L812.83,72 L813.6,73 L814.37,74 L815.13,75 L815.9,76 L816.41,77 L816.92,78 L817.43,79 L817.94,80 L818.45,81 L818.95,82 L819.46,83 L819.97,84 L820.48,85 L820.99,86 L821.5,87 L822.01,88 L822.53,89 L823.04,90 L823.55,91 L824.06,92 L824.58,93 L825.09,94 L825.6,95 L826.12,96 L826.63,97 L827.14,98 L827.65,99 L828.16,100 L828.66,101 L829.16,102 L829.67,103 L830.17,104 L830.68,105 L831.18,106 L831.69,107 L832.19,108 L832.7,109 L833.2,110 L833.55,111 L833.91,112 L834.26,113 L834.61,114 L834.97,115 L835.32,116 L835.67,117 L836.03,118 L836.38,119 L836.73,120 L837.09,121 L837.44,122 L837.79,123 L838.15,124 L838.5,125 L838.89,126 L839.29,127 L839.68,128 L840.07,129 L840.46,130 L840.86,131 L841.25,132 L841.64,133 L842.04,134 L842.43,135 L842.82,136 L843.21,137 L843.61,138 L844,139 L844.32,140 L844.64,141 L844.96,142 L845.29,143 L845.61,144 L845.93,145 L846.25,146 L846.57,147 L846.89,148 L847.21,149 L847.54,150 L847.86,151 L848.18,152 L848.5,153 L848.79,154 L849.08,155 L849.38,156 L849.67,157 L849.96,158 L850.25,159 L850.54,160 L850.83,161 L851.12,162 L851.42,163 L851.71,164 L852,165 L852.28,166 L852.56,167 L852.84,168 L853.12,169 L853.4,170 L853.68,171 L853.96,172 L854.24,173 L854.52,174 L854.8,175 L855.08,176 L855.36,177 L855.64,178 L855.92,179 L856.2,180 L856.44,181 L856.69,182 L856.93,183 L857.17,184 L857.41,185 L857.66,186 L857.9,187 L858.14,188 L858.39,189 L858.63,190 L858.87,191 L859.11,192 L859.36,193 L859.6,194 L859.76,195 L859.91,196 L860.07,197 L860.23,198 L860.38,199 L860.54,200 L860.69,201 L860.85,202 L861.01,203 L861.16,204 L861.32,205 L861.48,206 L861.63,207 L861.79,208 L861.94,209 L862.1,210 L862.22,211 L862.33,212 L862.45,213 L862.56,214 L862.68,215 L862.79,216 L862.91,217 L863.03,218 L863.14,219 L863.26,220 L863.37,221 L863.49,222 L863.61,223 L863.72,224 L863.84,225 L863.95,226 L864.07,227 L864.18,228 L864.3,229 L864.34,230 L864.38,231 L864.42,232 L864.46,233 L864.49,234 L864.53,235 L864.57,236 L864.61,237 L864.65,238 L864.69,239 L864.73,240 L864.77,241 L864.81,242 L864.84,243 L864.88,244 L864.92,245 L864.96,246 L865,247 L865.01,248 L865.01,249 L865.02,250 L865.03,251 L865.03,252 L865.04,253 L865.04,254 L865.05,255 L865.06,256 L865.06,257 L865.07,258 L865.08,259 L865.08,260 L865.09,261 L865.09,262 L865.1,263 L865.11,264 L865.11,265 L865.12,266 L865.13,267 L865.13,268 L865.14,269 L865.15,270 L865.15,271 L865.16,272 L865.16,273 L865.17,274 L865.18,275 L865.18,276 L865.19,277 L865.2,278 L865.2,279 L865.21,280 L865.22,281 L865.22,282 L865.23,283 L865.23,284 L865.24,285 L865.25,286 L865.25,287 L865.26,288 L865.27,289 L865.27,290 L865.28,291 L865.28,292 L865.29,293 L865.3,294 L865.3,295 L865.31,296 L865.32,297 L865.32,298 L865.33,299 L865.34,300 L865.34,301 L865.35,302 L865.35,303 L865.36,304 L865.37,305 L865.37,306 L865.38,307 L865.39,308 L865.39,309 L865.4,310 L865.41,311 L865.41,312 L865.42,313 L865.42,314 L865.43,315 L865.44,316 L865.44,317 L865.45,318 L865.46,319 L865.46,320 L865.47,321 L865.47,322 L865.48,323 L865.48,323.5 Z"/></clipPath><clipPath id="c9"><path d="M681.52,331.5 L681.52,323.5 L681.52,323 L681.53,322 L681.53,321 L681.54,320 L681.54,319 L681.55,318 L681.56,317 L681.56,316 L681.57,315 L681.58,314 L681.58,313 L681.59,312 L681.59,311 L681.6,310 L681.61,309 L681.61,308 L681.62,307 L681.63,306 L681.63,305 L681.64,304 L681.65,303 L681.65,302 L681.66,301 L681.66,300 L681.67,299 L681.68,298 L681.68,297 L681.69,296 L681.7,295 L681.7,294 L681.71,293 L681.72,292 L681.72,291 L681.73,290 L681.73,289 L681.74,288 L681.75,287 L681.75,286 L681.76,285 L681.77,284 L681.77,283 L681.78,282 L681.78,281 L681.79,280 L681.8,279 L681.8,278 L681.81,277 L681.82,276 L681.82,275 L681.83,274 L681.84,273 L681.84,272 L681.85,271 L681.85,270 L681.86,269 L681.87,268 L681.87,267 L681.88,266 L681.89,265 L681.89,264 L681.9,263 L681.91,262 L681.91,261 L681.92,260 L681.92,259 L681.93,258 L681.94,257 L681.94,256 L681.95,255 L681.96,254 L681.96,253 L681.97,252 L681.97,251 L681.98,250 L681.99,249 L681.99,248 L682,247 L682.04,246 L682.08,245 L682.12,244 L682.16,243 L682.19,242 L682.23,241 L682.27,240 L682.31,239 L682.35,238 L682.39,237 L682.43,236 L682.47,235 L682.51,234 L682.54,233 L682.58,232 L682.62,231 L682.66,230 L682.7,229 L682.82,228 L682.93,227 L683.05,226 L683.16,225 L683.28,224 L683.39,223 L683.51,222 L683.63,221 L683.74,220 L683.86,219 L683.97,218 L684.09,217 L684.21,216 L684.32,215 L684.44,214 L684.55,213 L684.67,212 L684.78,211 L684.9,210 L685.06,209 L685.21,208 L685.37,207 L685.52,206 L685.68,205 L685.84,204 L685.99,203 L686.15,202 L686.31,201 L686.46,200 L686.62,199 L686.77,198 L686.93,197 L687.09,196 L687.24,195 L687.4,194 L687.64,193 L687.89,192 L688.13,191 L688.37,190 L688.61,189 L688.86,188 L689.1,187 L689.34,186 L689.59,185 L689.83,184 L690.07,183 L690.31,182 L690.56,181 L690.8,180 L691.08,179 L691.36,178 L691.64,177 L691.92,176 L692.2,175 L692.48,174 L692.76,173 L693.04,172 L693.32,171 L693.6,170 L693.88,169 L694.16,168 L694.44,167 L694.72,166 L695,165 L695.29,164 L695.58,163 L695.88,162 L696.17,161 L696.46,160 L696.75,159 L697.04,158 L697.33,157 L697.62,156 L697.92,155 L698.21,154 L698.5,153 L698.82,152 L699.14,151 L699.46,150 L699.79,149 L700.11,148 L700.43,147 L700.75,146 L701.07,145 L701.39,144 L701.71,143 L702.04,142 L702.36,141 L702.68,140 L703,139 L703.39,138 L703.79,137 L704.18,136 L704.57,135 L704.96,134 L705.36,133 L705.75,132 L706.14,131 L706.54,130 L706.93,129 L707.32,128 L707.71,127 L708.11,126 L708.5,125 L708.85,124 L709.21,123 L709.56,122 L709.91,121 L710.27,120 L710.62,119 L710.97,118 L711.33,117 L711.68,116 L712.03,115 L712.39,114 L712.74,113 L713.09,112 L713.45,111 L713.8,110 L714.3,109 L714.81,108 L715.31,107 L715.82,106 L716.32,105 L716.83,104 L717.33,103 L717.84,102 L718.34,101 L718.84,100 L719.35,99 L719.86,98 L720.37,97 L720.88,96 L721.4,95 L721.91,94 L722.42,93 L722.94,92 L723.45,91 L723.96,90 L724.47,89 L724.99,88 L725.5,87 L726.01,86 L726.52,85 L727.03,84 L727.54,83 L728.05,82 L728.55,81 L729.06,80 L729.57,79 L730.08,78 L730.59,77 L731.1,76 L731.87,75 L732.63,74 L733.4,73 L734.17,72 L734.93,71 L735.7,70 L736.47,69 L737.23,68 L738,67 L738.77,66 L739.53,65 L740.3,64 L741.39,63 L742.48,62 L743.56,61 L744.65,60 L745.74,59 L746.83,58 L747.91,57 L749,56 L750.12,55 L751.25,54 L752.38,53 L753.5,52 L754.62,51 L755.75,50 L756.88,49 L758,48 L758.5,47 L759,46 L788,46 L788.5,47 L789,48 L790.12,49 L791.25,50 L792.38,51 L793.5,52 L794.62,53 L795.75,54 L796.88,55 L798,56 L799.09,57 L800.17,58 L801.26,59 L802.35,60 L803.44,61 L804.52,62 L805.61,63 L806.7,64 L807.47,65 L808.23,66 L809,67 L809.77,68 L810.53,69 L811.3,70 L812.07,71 L812.83,72 L813.6,73 L814.37,74 L815.13,75 L815.9,76 L816.41,77 L816.92,78 L817.43,79 L817.94,80 L818.45,81 L818.95,82 L819.46,83 L819.97,84 L820.48,85 L820.99,86 L821.5,87 L822.01,88 L822.53,89 L823.04,90 L823.55,91 L824.06,92 L824.58,93 L825.09,94 L825.6,95 L826.12,96 L826.63,97 L827.14,98 L827.65,99 L828.16,100 L828.66,101 L829.16,102 L829.67,103 L830.17,104 L830.68,105 L831.18,106 L831.69,107 L832.19,108 L832.7,109 L833.2,110 L833.55,111 L833.91,112 L834.26,113 L834.61,114 L834.97,115 L835.32,116 L835.67,117 L836.03,118 L836.38,119 L836.73,120 L837.09,121 L837.44,122 L837.79,123 L838.15,124 L838.5,125 L838.89,126 L839.29,127 L839.68,128 L840.07,129 L840.46,130 L840.86,131 L841.25,132 L841.64,133 L842.04,134 L842.43,135 L842.82,136 L843.21,137 L843.61,138 L844,139 L844.32,140 L844.64,141 L844.96,142 L845.29,143 L845.61,144 L845.93,145 L846.25,146 L846.57,147 L846.89,148 L847.21,149 L847.54,150 L847.86,151 L848.18,152 L848.5,153 L848.79,154 L849.08,155 L849.38,156 L849.67,157 L849.96,158 L850.25,159 L850.54,160 L850.83,161 L851.12,162 L851.42,163 L851.71,164 L852,165 L852.28,166 L852.56,167 L852.84,168 L853.12,169 L853.4,170 L853.68,171 L853.96,172 L854.24,173 L854.52,174 L854.8,175 L855.08,176 L855.36,177 L855.64,178 L855.92,179 L856.2,180 L856.44,181 L856.69,182 L856.93,183 L857.17,184 L857.41,185 L857.66,186 L857.9,187 L858.14,188 L858.39,189 L858.63,190 L858.87,191 L859.11,192 L859.36,193 L859.6,194 L859.76,195 L859.91,196 L860.07,197 L860.23,198 L860.38,199 L860.54,200 L860.69,201 L860.85,202 L861.01,203 L861.16,204 L861.32,205 L861.48,206 L861.63,207 L861.79,208 L861.94,209 L862.1,210 L862.22,211 L862.33,212 L862.45,213 L862.56,214 L862.68,215 L862.79,216 L862.91,217 L863.03,218 L863.14,219 L863.26,220 L863.37,221 L863.49,222 L863.61,223 L863.72,224 L863.84,225 L863.95,226 L864.07,227 L864.18,228 L864.3,229 L864.34,230 L864.38,231 L864.42,232 L864.46,233 L864.49,234 L864.53,235 L864.57,236 L864.61,237 L864.65,238 L864.69,239 L864.73,240 L864.77,241 L864.81,242 L864.84,243 L864.88,244 L864.92,245 L864.96,246 L865,247 L865.01,248 L865.01,249 L865.02,250 L865.03,251 L865.03,252 L865.04,253 L865.04,254 L865.05,255 L865.06,256 L865.06,257 L865.07,258 L865.08,259 L865.08,260 L865.09,261 L865.09,262 L865.1,263 L865.11,264 L865.11,265 L865.12,266 L865.13,267 L865.13,268 L865.14,269 L865.15,270 L865.15,271 L865.16,272 L865.16,273 L865.17,274 L865.18,275 L865.18,276 L865.19,277 L865.2,278 L865.2,279 L865.21,280 L865.22,281 L865.22,282 L865.23,283 L865.23,284 L865.24,285 L865.25,286 L865.25,287 L865.26,288 L865.27,289 L865.27,290 L865.28,291 L865.28,292 L865.29,293 L865.3,294 L865.3,295 L865.31,296 L865.32,297 L865.32,298 L865.33,299 L865.34,300 L865.34,301 L865.35,302 L865.35,303 L865.36,304 L865.37,305 L865.37,306 L865.38,307 L865.39,308 L865.39,309 L865.4,310 L865.41,311 L865.41,312 L865.42,313 L865.42,314 L865.43,315 L865.44,316 L865.44,317 L865.45,318 L865.46,319 L865.46,320 L865.47,321 L865.47,322 L865.48,323 L865.48,323.5 L865.48,331.5 Z"/></clipPath><clipPath id="c10"><path d="M682,367 L866,367 L866,536 L682,536 Z"/></clipPath><clipPath id="c11"><path d="M682,359 L866,359 L866,540 L682,540 Z"/></clipPath><clipPath id="c12"><path d="M78.42,1191.5 L78.58,1191 L78.92,1190 L79.25,1189 L79.58,1188 L80.09,1187 L80.78,1186 L81.47,1185 L82.16,1184 L82.84,1183 L83.53,1182 L84.22,1181 L84.91,1180 L85.65,1179 L86.45,1178 L87.25,1177 L88.05,1176 L88.85,1175 L89.65,1174 L90.45,1173 L91.25,1172 L92.58,1171 L93.92,1170 L95.25,1169 L96.58,1168 L97.92,1167 L99.25,1166 L101.15,1165 L103.05,1164 L104.95,1163 L106.85,1162 L108.75,1161 L130.75,1161 L132.65,1162 L134.55,1163 L136.45,1164 L138.35,1165 L140.25,1166 L141.58,1167 L142.92,1168 L144.25,1169 L145.58,1170 L146.92,1171 L148.25,1172 L149.05,1173 L149.85,1174 L150.65,1175 L151.45,1176 L152.25,1177 L153.05,1178 L153.85,1179 L154.59,1180 L155.28,1181 L155.97,1182 L156.66,1183 L157.34,1184 L158.03,1185 L158.72,1186 L159.41,1187 L159.92,1188 L160.25,1189 L160.58,1190 L160.92,1191 L161.08,1191.5 Z"/></clipPath><clipPath id="c13"><path d="M187.54,1191.5 L187.57,1191.3 L187.72,1190.3 L187.86,1189.3 L188,1188.3 L188.15,1187.3 L188.29,1186.3 L188.44,1185.3 L188.58,1184.3 L188.72,1183.3 L188.87,1182.3 L189.01,1181.3 L189.15,1180.3 L189.3,1179.3 L189.44,1178.3 L189.72,1177.3 L190.1,1176.3 L190.47,1175.3 L190.85,1174.3 L191.22,1173.3 L191.6,1172.3 L191.97,1171.3 L192.35,1170.3 L192.72,1169.3 L193.1,1168.3 L193.47,1167.3 L193.85,1166.3 L194.18,1165.3 L194.47,1164.3 L194.77,1163.3 L195.07,1162.3 L195.37,1161.3 L195.66,1160.3 L195.96,1159.3 L196.26,1158.3 L196.55,1157.3 L196.85,1156.3 L197.15,1155.3 L197.44,1154.3 L197.74,1153.3 L198.07,1152.3 L198.41,1151.3 L198.74,1150.3 L199.08,1149.3 L199.41,1148.3 L199.75,1147.3 L200.09,1146.3 L200.42,1145.3 L200.76,1144.3 L201.1,1143.3 L201.43,1142.3 L201.78,1141.3 L202.14,1140.3 L202.5,1139.3 L202.85,1138.3 L203.21,1137.3 L203.57,1136.3 L203.93,1135.3 L204.29,1134.3 L204.65,1133.3 L205.01,1132.3 L205.36,1131.3 L205.85,1130.3 L206.34,1129.3 L206.84,1128.3 L207.33,1127.3 L207.83,1126.3 L208.32,1125.3 L208.82,1124.3 L209.31,1123.3 L209.81,1122.3 L210.3,1121.3 L210.79,1120.3 L211.26,1119.3 L211.73,1118.3 L212.2,1117.3 L212.67,1116.3 L213.13,1115.3 L213.6,1114.3 L214.07,1113.3 L214.54,1112.3 L215.01,1111.3 L215.48,1110.3 L215.93,1109.3 L216.39,1108.3 L216.85,1107.3 L217.31,1106.3 L217.77,1105.3 L218.23,1104.3 L218.69,1103.3 L219.15,1102.3 L219.61,1101.3 L220.36,1100.3 L221.17,1099.3 L221.99,1098.3 L222.81,1097.3 L223.63,1096.3 L224.45,1095.3 L225.27,1094.3 L226.09,1093.3 L227.03,1092.3 L228.1,1091.3 L229.17,1090.3 L230.23,1089.3 L231.3,1088.3 L232.37,1087.3 L233.43,1086.3 L234.5,1085.3 L255.5,1085.3 L256.57,1086.3 L257.63,1087.3 L258.7,1088.3 L259.77,1089.3 L260.83,1090.3 L261.9,1091.3 L262.97,1092.3 L263.91,1093.3 L264.73,1094.3 L265.55,1095.3 L266.37,1096.3 L267.19,1097.3 L268.01,1098.3 L268.83,1099.3 L269.64,1100.3 L270.39,1101.3 L270.85,1102.3 L271.31,1103.3 L271.77,1104.3 L272.23,1105.3 L272.69,1106.3 L273.15,1107.3 L273.61,1108.3 L274.07,1109.3 L274.52,1110.3 L274.99,1111.3 L275.46,1112.3 L275.93,1113.3 L276.4,1114.3 L276.87,1115.3 L277.33,1116.3 L277.8,1117.3 L278.27,1118.3 L278.74,1119.3 L279.21,1120.3 L279.7,1121.3 L280.19,1122.3 L280.69,1123.3 L281.18,1124.3 L281.68,1125.3 L282.17,1126.3 L282.67,1127.3 L283.16,1128.3 L283.66,1129.3 L284.15,1130.3 L284.64,1131.3 L284.99,1132.3 L285.35,1133.3 L285.71,1134.3 L286.07,1135.3 L286.43,1136.3 L286.79,1137.3 L287.15,1138.3 L287.5,1139.3 L287.86,1140.3 L288.22,1141.3 L288.57,1142.3 L288.9,1143.3 L289.24,1144.3 L289.58,1145.3 L289.91,1146.3 L290.25,1147.3 L290.59,1148.3 L290.92,1149.3 L291.26,1150.3 L291.59,1151.3 L291.93,1152.3 L292.26,1153.3 L292.56,1154.3 L292.85,1155.3 L293.15,1156.3 L293.45,1157.3 L293.74,1158.3 L294.04,1159.3 L294.34,1160.3 L294.63,1161.3 L294.93,1162.3 L295.23,1163.3 L295.52,1164.3 L295.82,1165.3 L296.15,1166.3 L296.52,1167.3 L296.9,1168.3 L297.27,1169.3 L297.65,1170.3 L298.02,1171.3 L298.4,1172.3 L298.77,1173.3 L299.15,1174.3 L299.52,1175.3 L299.9,1176.3 L300.27,1177.3 L300.56,1178.3 L300.7,1179.3 L300.85,1180.3 L300.99,1181.3 L301.13,1182.3 L301.28,1183.3 L301.42,1184.3 L301.56,1185.3 L301.71,1186.3 L301.85,1187.3 L302,1188.3 L302.14,1189.3 L302.28,1190.3 L302.43,1191.3 L302.46,1191.5 Z"/></clipPath><clipPath id="c14"><path d="M187.54,1199.5 L187.54,1191.5 L187.57,1191.3 L187.72,1190.3 L187.86,1189.3 L188,1188.3 L188.15,1187.3 L188.29,1186.3 L188.44,1185.3 L188.58,1184.3 L188.72,1183.3 L188.87,1182.3 L189.01,1181.3 L189.15,1180.3 L189.3,1179.3 L189.44,1178.3 L189.72,1177.3 L190.1,1176.3 L190.47,1175.3 L190.85,1174.3 L191.22,1173.3 L191.6,1172.3 L191.97,1171.3 L192.35,1170.3 L192.72,1169.3 L193.1,1168.3 L193.47,1167.3 L193.85,1166.3 L194.18,1165.3 L194.47,1164.3 L194.77,1163.3 L195.07,1162.3 L195.37,1161.3 L195.66,1160.3 L195.96,1159.3 L196.26,1158.3 L196.55,1157.3 L196.85,1156.3 L197.15,1155.3 L197.44,1154.3 L197.74,1153.3 L198.07,1152.3 L198.41,1151.3 L198.74,1150.3 L199.08,1149.3 L199.41,1148.3 L199.75,1147.3 L200.09,1146.3 L200.42,1145.3 L200.76,1144.3 L201.1,1143.3 L201.43,1142.3 L201.78,1141.3 L202.14,1140.3 L202.5,1139.3 L202.85,1138.3 L203.21,1137.3 L203.57,1136.3 L203.93,1135.3 L204.29,1134.3 L204.65,1133.3 L205.01,1132.3 L205.36,1131.3 L205.85,1130.3 L206.34,1129.3 L206.84,1128.3 L207.33,1127.3 L207.83,1126.3 L208.32,1125.3 L208.82,1124.3 L209.31,1123.3 L209.81,1122.3 L210.3,1121.3 L210.79,1120.3 L211.26,1119.3 L211.73,1118.3 L212.2,1117.3 L212.67,1116.3 L213.13,1115.3 L213.6,1114.3 L214.07,1113.3 L214.54,1112.3 L215.01,1111.3 L215.48,1110.3 L215.93,1109.3 L216.39,1108.3 L216.85,1107.3 L217.31,1106.3 L217.77,1105.3 L218.23,1104.3 L218.69,1103.3 L219.15,1102.3 L219.61,1101.3 L220.36,1100.3 L221.17,1099.3 L221.99,1098.3 L222.81,1097.3 L223.63,1096.3 L224.45,1095.3 L225.27,1094.3 L226.09,1093.3 L227.03,1092.3 L228.1,1091.3 L229.17,1090.3 L230.23,1089.3 L231.3,1088.3 L232.37,1087.3 L233.43,1086.3 L234.5,1085.3 L255.5,1085.3 L256.57,1086.3 L257.63,1087.3 L258.7,1088.3 L259.77,1089.3 L260.83,1090.3 L261.9,1091.3 L262.97,1092.3 L263.91,1093.3 L264.73,1094.3 L265.55,1095.3 L266.37,1096.3 L267.19,1097.3 L268.01,1098.3 L268.83,1099.3 L269.64,1100.3 L270.39,1101.3 L270.85,1102.3 L271.31,1103.3 L271.77,1104.3 L272.23,1105.3 L272.69,1106.3 L273.15,1107.3 L273.61,1108.3 L274.07,1109.3 L274.52,1110.3 L274.99,1111.3 L275.46,1112.3 L275.93,1113.3 L276.4,1114.3 L276.87,1115.3 L277.33,1116.3 L277.8,1117.3 L278.27,1118.3 L278.74,1119.3 L279.21,1120.3 L279.7,1121.3 L280.19,1122.3 L280.69,1123.3 L281.18,1124.3 L281.68,1125.3 L282.17,1126.3 L282.67,1127.3 L283.16,1128.3 L283.66,1129.3 L284.15,1130.3 L284.64,1131.3 L284.99,1132.3 L285.35,1133.3 L285.71,1134.3 L286.07,1135.3 L286.43,1136.3 L286.79,1137.3 L287.15,1138.3 L287.5,1139.3 L287.86,1140.3 L288.22,1141.3 L288.57,1142.3 L288.9,1143.3 L289.24,1144.3 L289.58,1145.3 L289.91,1146.3 L290.25,1147.3 L290.59,1148.3 L290.92,1149.3 L291.26,1150.3 L291.59,1151.3 L291.93,1152.3 L292.26,1153.3 L292.56,1154.3 L292.85,1155.3 L293.15,1156.3 L293.45,1157.3 L293.74,1158.3 L294.04,1159.3 L294.34,1160.3 L294.63,1161.3 L294.93,1162.3 L295.23,1163.3 L295.52,1164.3 L295.82,1165.3 L296.15,1166.3 L296.52,1167.3 L296.9,1168.3 L297.27,1169.3 L297.65,1170.3 L298.02,1171.3 L298.4,1172.3 L298.77,1173.3 L299.15,1174.3 L299.52,1175.3 L299.9,1176.3 L300.27,1177.3 L300.56,1178.3 L300.7,1179.3 L300.85,1180.3 L300.99,1181.3 L301.13,1182.3 L301.28,1183.3 L301.42,1184.3 L301.56,1185.3 L301.71,1186.3 L301.85,1187.3 L302,1188.3 L302.14,1189.3 L302.28,1190.3 L302.43,1191.3 L302.46,1191.5 L302.46,1199.5 Z"/></clipPath><clipPath id="c15"><path d="M330.81,1192 L330.83,1191.5 L330.86,1190.5 L330.89,1189.5 L330.92,1188.5 L330.94,1187.5 L330.97,1186.5 L331,1185.5 L331.03,1184.5 L331.06,1183.5 L331.09,1182.5 L331.12,1181.5 L331.15,1180.5 L331.18,1179.5 L331.2,1178.5 L331.23,1177.5 L331.26,1176.5 L331.29,1175.5 L331.32,1174.5 L331.35,1173.5 L331.38,1172.5 L331.41,1171.5 L331.44,1170.5 L331.46,1169.5 L331.49,1168.5 L331.52,1167.5 L331.55,1166.5 L331.58,1165.5 L331.61,1164.5 L331.64,1163.5 L331.67,1162.5 L331.7,1161.5 L331.72,1160.5 L331.75,1159.5 L331.78,1158.5 L331.81,1157.5 L331.85,1156.5 L331.88,1155.5 L331.92,1154.5 L331.95,1153.5 L331.99,1152.5 L332.02,1151.5 L332.06,1150.5 L332.09,1149.5 L332.12,1148.5 L332.16,1147.5 L332.19,1146.5 L332.23,1145.5 L332.26,1144.5 L332.3,1143.5 L332.33,1142.5 L332.37,1141.5 L332.4,1140.5 L332.49,1139.5 L332.57,1138.5 L332.66,1137.5 L332.74,1136.5 L332.83,1135.5 L332.91,1134.5 L333,1133.5 L333.08,1132.5 L333.17,1131.5 L333.25,1130.5 L333.34,1129.5 L333.42,1128.5 L333.51,1127.5 L333.59,1126.5 L333.74,1125.5 L333.91,1124.5 L334.07,1123.5 L334.23,1122.5 L334.39,1121.5 L334.55,1120.5 L334.71,1119.5 L334.87,1118.5 L335.03,1117.5 L335.19,1116.5 L335.35,1115.5 L335.51,1114.5 L335.67,1113.5 L335.84,1112.5 L336,1111.5 L336.17,1110.5 L336.34,1109.5 L336.5,1108.5 L336.67,1107.5 L336.84,1106.5 L337.01,1105.5 L337.18,1104.5 L337.34,1103.5 L337.51,1102.5 L337.68,1101.5 L337.85,1100.5 L338.01,1099.5 L338.18,1098.5 L338.35,1097.5 L338.54,1096.5 L338.72,1095.5 L338.9,1094.5 L339.09,1093.5 L339.27,1092.5 L339.45,1091.5 L339.64,1090.5 L339.82,1089.5 L340,1088.5 L340.19,1087.5 L340.37,1086.5 L340.55,1085.5 L340.76,1084.5 L341.06,1083.5 L341.37,1082.5 L341.67,1081.5 L341.97,1080.5 L342.27,1079.5 L342.58,1078.5 L342.88,1077.5 L343.18,1076.5 L343.48,1075.5 L343.79,1074.5 L344.09,1073.5 L344.4,1072.5 L344.75,1071.5 L345.1,1070.5 L345.45,1069.5 L345.79,1068.5 L346.14,1067.5 L346.49,1066.5 L346.84,1065.5 L347.18,1064.5 L347.53,1063.5 L347.88,1062.5 L348.23,1061.5 L348.57,1060.5 L348.92,1059.5 L349.26,1058.5 L349.61,1057.5 L349.95,1056.5 L350.29,1055.5 L350.64,1054.5 L350.98,1053.5 L351.33,1052.5 L351.67,1051.5 L352.02,1050.5 L352.36,1049.5 L352.7,1048.5 L353.02,1047.5 L353.35,1046.5 L353.68,1045.5 L354.01,1044.5 L354.33,1043.5 L354.66,1042.5 L354.99,1041.5 L355.32,1040.5 L355.64,1039.5 L355.97,1038.5 L356.3,1037.5 L356.7,1036.5 L357.1,1035.5 L357.5,1034.5 L357.9,1033.5 L358.3,1032.5 L358.7,1031.5 L359.1,1030.5 L359.5,1029.5 L359.9,1028.5 L360.3,1027.5 L360.75,1026.5 L361.25,1025.5 L361.75,1024.5 L362.25,1023.5 L362.75,1022.5 L363.25,1021.5 L363.75,1020.5 L364.25,1019.5 L364.75,1018.5 L365.25,1017.5 L365.75,1016.5 L366.25,1015.5 L366.75,1014.5 L367.25,1013.5 L367.75,1012.5 L368.25,1011.5 L368.75,1010.5 L369.25,1009.5 L369.75,1008.5 L370.25,1007.5 L370.75,1006.5 L371.26,1005.5 L371.79,1004.5 L372.32,1003.5 L372.84,1002.5 L373.37,1001.5 L373.89,1000.5 L374.42,999.5 L374.95,998.5 L375.47,997.5 L376,996.5 L376.82,995.5 L377.65,994.5 L378.47,993.5 L379.29,992.5 L380.12,991.5 L380.94,990.5 L381.76,989.5 L382.59,988.5 L383.52,987.5 L384.56,986.5 L385.6,985.5 L386.64,984.5 L387.68,983.5 L388.72,982.5 L389.76,981.5 L390.8,980.5 L412.8,980.5 L413.84,981.5 L414.88,982.5 L415.92,983.5 L416.96,984.5 L418,985.5 L419.04,986.5 L420.08,987.5 L421.01,988.5 L421.84,989.5 L422.66,990.5 L423.48,991.5 L424.31,992.5 L425.13,993.5 L425.95,994.5 L426.78,995.5 L427.6,996.5 L428.13,997.5 L428.65,998.5 L429.18,999.5 L429.71,1000.5 L430.23,1001.5 L430.76,1002.5 L431.28,1003.5 L431.81,1004.5 L432.34,1005.5 L432.85,1006.5 L433.35,1007.5 L433.85,1008.5 L434.35,1009.5 L434.85,1010.5 L435.35,1011.5 L435.85,1012.5 L436.35,1013.5 L436.85,1014.5 L437.35,1015.5 L437.85,1016.5 L438.35,1017.5 L438.85,1018.5 L439.35,1019.5 L439.85,1020.5 L440.35,1021.5 L440.85,1022.5 L441.35,1023.5 L441.85,1024.5 L442.35,1025.5 L442.85,1026.5 L443.3,1027.5 L443.7,1028.5 L444.1,1029.5 L444.5,1030.5 L444.9,1031.5 L445.3,1032.5 L445.7,1033.5 L446.1,1034.5 L446.5,1035.5 L446.9,1036.5 L447.3,1037.5 L447.63,1038.5 L447.96,1039.5 L448.28,1040.5 L448.61,1041.5 L448.94,1042.5 L449.27,1043.5 L449.59,1044.5 L449.92,1045.5 L450.25,1046.5 L450.58,1047.5 L450.9,1048.5 L451.24,1049.5 L451.58,1050.5 L451.93,1051.5 L452.27,1052.5 L452.62,1053.5 L452.96,1054.5 L453.31,1055.5 L453.65,1056.5 L453.99,1057.5 L454.34,1058.5 L454.68,1059.5 L455.03,1060.5 L455.37,1061.5 L455.72,1062.5 L456.07,1063.5 L456.42,1064.5 L456.76,1065.5 L457.11,1066.5 L457.46,1067.5 L457.81,1068.5 L458.15,1069.5 L458.5,1070.5 L458.85,1071.5 L459.2,1072.5 L459.51,1073.5 L459.81,1074.5 L460.12,1075.5 L460.42,1076.5 L460.72,1077.5 L461.02,1078.5 L461.33,1079.5 L461.63,1080.5 L461.93,1081.5 L462.23,1082.5 L462.54,1083.5 L462.84,1084.5 L463.05,1085.5 L463.23,1086.5 L463.41,1087.5 L463.6,1088.5 L463.78,1089.5 L463.96,1090.5 L464.15,1091.5 L464.33,1092.5 L464.51,1093.5 L464.7,1094.5 L464.88,1095.5 L465.06,1096.5 L465.25,1097.5 L465.42,1098.5 L465.59,1099.5 L465.75,1100.5 L465.92,1101.5 L466.09,1102.5 L466.26,1103.5 L466.42,1104.5 L466.59,1105.5 L466.76,1106.5 L466.93,1107.5 L467.1,1108.5 L467.26,1109.5 L467.43,1110.5 L467.6,1111.5 L467.76,1112.5 L467.93,1113.5 L468.09,1114.5 L468.25,1115.5 L468.41,1116.5 L468.57,1117.5 L468.73,1118.5 L468.89,1119.5 L469.05,1120.5 L469.21,1121.5 L469.37,1122.5 L469.53,1123.5 L469.69,1124.5 L469.86,1125.5 L470.01,1126.5 L470.09,1127.5 L470.18,1128.5 L470.26,1129.5 L470.35,1130.5 L470.43,1131.5 L470.52,1132.5 L470.6,1133.5 L470.69,1134.5 L470.77,1135.5 L470.86,1136.5 L470.94,1137.5 L471.03,1138.5 L471.11,1139.5 L471.2,1140.5 L471.23,1141.5 L471.27,1142.5 L471.3,1143.5 L471.34,1144.5 L471.37,1145.5 L471.41,1146.5 L471.44,1147.5 L471.48,1148.5 L471.51,1149.5 L471.54,1150.5 L471.58,1151.5 L471.61,1152.5 L471.65,1153.5 L471.68,1154.5 L471.72,1155.5 L471.75,1156.5 L471.79,1157.5 L471.82,1158.5 L471.85,1159.5 L471.88,1160.5 L471.9,1161.5 L471.93,1162.5 L471.96,1163.5 L471.99,1164.5 L472.02,1165.5 L472.05,1166.5 L472.08,1167.5 L472.11,1168.5 L472.14,1169.5 L472.16,1170.5 L472.19,1171.5 L472.22,1172.5 L472.25,1173.5 L472.28,1174.5 L472.31,1175.5 L472.34,1176.5 L472.37,1177.5 L472.4,1178.5 L472.42,1179.5 L472.45,1180.5 L472.48,1181.5 L472.51,1182.5 L472.54,1183.5 L472.57,1184.5 L472.6,1185.5 L472.63,1186.5 L472.66,1187.5 L472.68,1188.5 L472.71,1189.5 L472.74,1190.5 L472.77,1191.5 L472.79,1192 Z"/></clipPath><clipPath id="c16"><path d="M330.81,1200 L330.81,1192 L330.83,1191.5 L330.86,1190.5 L330.89,1189.5 L330.92,1188.5 L330.94,1187.5 L330.97,1186.5 L331,1185.5 L331.03,1184.5 L331.06,1183.5 L331.09,1182.5 L331.12,1181.5 L331.15,1180.5 L331.18,1179.5 L331.2,1178.5 L331.23,1177.5 L331.26,1176.5 L331.29,1175.5 L331.32,1174.5 L331.35,1173.5 L331.38,1172.5 L331.41,1171.5 L331.44,1170.5 L331.46,1169.5 L331.49,1168.5 L331.52,1167.5 L331.55,1166.5 L331.58,1165.5 L331.61,1164.5 L331.64,1163.5 L331.67,1162.5 L331.7,1161.5 L331.72,1160.5 L331.75,1159.5 L331.78,1158.5 L331.81,1157.5 L331.85,1156.5 L331.88,1155.5 L331.92,1154.5 L331.95,1153.5 L331.99,1152.5 L332.02,1151.5 L332.06,1150.5 L332.09,1149.5 L332.12,1148.5 L332.16,1147.5 L332.19,1146.5 L332.23,1145.5 L332.26,1144.5 L332.3,1143.5 L332.33,1142.5 L332.37,1141.5 L332.4,1140.5 L332.49,1139.5 L332.57,1138.5 L332.66,1137.5 L332.74,1136.5 L332.83,1135.5 L332.91,1134.5 L333,1133.5 L333.08,1132.5 L333.17,1131.5 L333.25,1130.5 L333.34,1129.5 L333.42,1128.5 L333.51,1127.5 L333.59,1126.5 L333.74,1125.5 L333.91,1124.5 L334.07,1123.5 L334.23,1122.5 L334.39,1121.5 L334.55,1120.5 L334.71,1119.5 L334.87,1118.5 L335.03,1117.5 L335.19,1116.5 L335.35,1115.5 L335.51,1114.5 L335.67,1113.5 L335.84,1112.5 L336,1111.5 L336.17,1110.5 L336.34,1109.5 L336.5,1108.5 L336.67,1107.5 L336.84,1106.5 L337.01,1105.5 L337.18,1104.5 L337.34,1103.5 L337.51,1102.5 L337.68,1101.5 L337.85,1100.5 L338.01,1099.5 L338.18,1098.5 L338.35,1097.5 L338.54,1096.5 L338.72,1095.5 L338.9,1094.5 L339.09,1093.5 L339.27,1092.5 L339.45,1091.5 L339.64,1090.5 L339.82,1089.5 L340,1088.5 L340.19,1087.5 L340.37,1086.5 L340.55,1085.5 L340.76,1084.5 L341.06,1083.5 L341.37,1082.5 L341.67,1081.5 L341.97,1080.5 L342.27,1079.5 L342.58,1078.5 L342.88,1077.5 L343.18,1076.5 L343.48,1075.5 L343.79,1074.5 L344.09,1073.5 L344.4,1072.5 L344.75,1071.5 L345.1,1070.5 L345.45,1069.5 L345.79,1068.5 L346.14,1067.5 L346.49,1066.5 L346.84,1065.5 L347.18,1064.5 L347.53,1063.5 L347.88,1062.5 L348.23,1061.5 L348.57,1060.5 L348.92,1059.5 L349.26,1058.5 L349.61,1057.5 L349.95,1056.5 L350.29,1055.5 L350.64,1054.5 L350.98,1053.5 L351.33,1052.5 L351.67,1051.5 L352.02,1050.5 L352.36,1049.5 L352.7,1048.5 L353.02,1047.5 L353.35,1046.5 L353.68,1045.5 L354.01,1044.5 L354.33,1043.5 L354.66,1042.5 L354.99,1041.5 L355.32,1040.5 L355.64,1039.5 L355.97,1038.5 L356.3,1037.5 L356.7,1036.5 L357.1,1035.5 L357.5,1034.5 L357.9,1033.5 L358.3,1032.5 L358.7,1031.5 L359.1,1030.5 L359.5,1029.5 L359.9,1028.5 L360.3,1027.5 L360.75,1026.5 L361.25,1025.5 L361.75,1024.5 L362.25,1023.5 L362.75,1022.5 L363.25,1021.5 L363.75,1020.5 L364.25,1019.5 L364.75,1018.5 L365.25,1017.5 L365.75,1016.5 L366.25,1015.5 L366.75,1014.5 L367.25,1013.5 L367.75,1012.5 L368.25,1011.5 L368.75,1010.5 L369.25,1009.5 L369.75,1008.5 L370.25,1007.5 L370.75,1006.5 L371.26,1005.5 L371.79,1004.5 L372.32,1003.5 L372.84,1002.5 L373.37,1001.5 L373.89,1000.5 L374.42,999.5 L374.95,998.5 L375.47,997.5 L376,996.5 L376.82,995.5 L377.65,994.5 L378.47,993.5 L379.29,992.5 L380.12,991.5 L380.94,990.5 L381.76,989.5 L382.59,988.5 L383.52,987.5 L384.56,986.5 L385.6,985.5 L386.64,984.5 L387.68,983.5 L388.72,982.5 L389.76,981.5 L390.8,980.5 L412.8,980.5 L413.84,981.5 L414.88,982.5 L415.92,983.5 L416.96,984.5 L418,985.5 L419.04,986.5 L420.08,987.5 L421.01,988.5 L421.84,989.5 L422.66,990.5 L423.48,991.5 L424.31,992.5 L425.13,993.5 L425.95,994.5 L426.78,995.5 L427.6,996.5 L428.13,997.5 L428.65,998.5 L429.18,999.5 L429.71,1000.5 L430.23,1001.5 L430.76,1002.5 L431.28,1003.5 L431.81,1004.5 L432.34,1005.5 L432.85,1006.5 L433.35,1007.5 L433.85,1008.5 L434.35,1009.5 L434.85,1010.5 L435.35,1011.5 L435.85,1012.5 L436.35,1013.5 L436.85,1014.5 L437.35,1015.5 L437.85,1016.5 L438.35,1017.5 L438.85,1018.5 L439.35,1019.5 L439.85,1020.5 L440.35,1021.5 L440.85,1022.5 L441.35,1023.5 L441.85,1024.5 L442.35,1025.5 L442.85,1026.5 L443.3,1027.5 L443.7,1028.5 L444.1,1029.5 L444.5,1030.5 L444.9,1031.5 L445.3,1032.5 L445.7,1033.5 L446.1,1034.5 L446.5,1035.5 L446.9,1036.5 L447.3,1037.5 L447.63,1038.5 L447.96,1039.5 L448.28,1040.5 L448.61,1041.5 L448.94,1042.5 L449.27,1043.5 L449.59,1044.5 L449.92,1045.5 L450.25,1046.5 L450.58,1047.5 L450.9,1048.5 L451.24,1049.5 L451.58,1050.5 L451.93,1051.5 L452.27,1052.5 L452.62,1053.5 L452.96,1054.5 L453.31,1055.5 L453.65,1056.5 L453.99,1057.5 L454.34,1058.5 L454.68,1059.5 L455.03,1060.5 L455.37,1061.5 L455.72,1062.5 L456.07,1063.5 L456.42,1064.5 L456.76,1065.5 L457.11,1066.5 L457.46,1067.5 L457.81,1068.5 L458.15,1069.5 L458.5,1070.5 L458.85,1071.5 L459.2,1072.5 L459.51,1073.5 L459.81,1074.5 L460.12,1075.5 L460.42,1076.5 L460.72,1077.5 L461.02,1078.5 L461.33,1079.5 L461.63,1080.5 L461.93,1081.5 L462.23,1082.5 L462.54,1083.5 L462.84,1084.5 L463.05,1085.5 L463.23,1086.5 L463.41,1087.5 L463.6,1088.5 L463.78,1089.5 L463.96,1090.5 L464.15,1091.5 L464.33,1092.5 L464.51,1093.5 L464.7,1094.5 L464.88,1095.5 L465.06,1096.5 L465.25,1097.5 L465.42,1098.5 L465.59,1099.5 L465.75,1100.5 L465.92,1101.5 L466.09,1102.5 L466.26,1103.5 L466.42,1104.5 L466.59,1105.5 L466.76,1106.5 L466.93,1107.5 L467.1,1108.5 L467.26,1109.5 L467.43,1110.5 L467.6,1111.5 L467.76,1112.5 L467.93,1113.5 L468.09,1114.5 L468.25,1115.5 L468.41,1116.5 L468.57,1117.5 L468.73,1118.5 L468.89,1119.5 L469.05,1120.5 L469.21,1121.5 L469.37,1122.5 L469.53,1123.5 L469.69,1124.5 L469.86,1125.5 L470.01,1126.5 L470.09,1127.5 L470.18,1128.5 L470.26,1129.5 L470.35,1130.5 L470.43,1131.5 L470.52,1132.5 L470.6,1133.5 L470.69,1134.5 L470.77,1135.5 L470.86,1136.5 L470.94,1137.5 L471.03,1138.5 L471.11,1139.5 L471.2,1140.5 L471.23,1141.5 L471.27,1142.5 L471.3,1143.5 L471.34,1144.5 L471.37,1145.5 L471.41,1146.5 L471.44,1147.5 L471.48,1148.5 L471.51,1149.5 L471.54,1150.5 L471.58,1151.5 L471.61,1152.5 L471.65,1153.5 L471.68,1154.5 L471.72,1155.5 L471.75,1156.5 L471.79,1157.5 L471.82,1158.5 L471.85,1159.5 L471.88,1160.5 L471.9,1161.5 L471.93,1162.5 L471.96,1163.5 L471.99,1164.5 L472.02,1165.5 L472.05,1166.5 L472.08,1167.5 L472.11,1168.5 L472.14,1169.5 L472.16,1170.5 L472.19,1171.5 L472.22,1172.5 L472.25,1173.5 L472.28,1174.5 L472.31,1175.5 L472.34,1176.5 L472.37,1177.5 L472.4,1178.5 L472.42,1179.5 L472.45,1180.5 L472.48,1181.5 L472.51,1182.5 L472.54,1183.5 L472.57,1184.5 L472.6,1185.5 L472.63,1186.5 L472.66,1187.5 L472.68,1188.5 L472.71,1189.5 L472.74,1190.5 L472.77,1191.5 L472.79,1192 L472.79,1200 Z"/></clipPath><clipPath id="c17"><path d="M485.8,1193 L485.81,1192.5 L485.81,1191.5 L485.82,1190.5 L485.82,1189.5 L485.83,1188.5 L485.84,1187.5 L485.84,1186.5 L485.85,1185.5 L485.85,1184.5 L485.86,1183.5 L485.87,1182.5 L485.87,1181.5 L485.88,1180.5 L485.88,1179.5 L485.89,1178.5 L485.9,1177.5 L485.9,1176.5 L485.91,1175.5 L485.91,1174.5 L485.92,1173.5 L485.93,1172.5 L485.93,1171.5 L485.94,1170.5 L485.94,1169.5 L485.95,1168.5 L485.96,1167.5 L485.96,1166.5 L485.97,1165.5 L485.97,1164.5 L485.98,1163.5 L485.99,1162.5 L485.99,1161.5 L486,1160.5 L486,1159.5 L486.01,1158.5 L486.02,1157.5 L486.02,1156.5 L486.03,1155.5 L486.03,1154.5 L486.04,1153.5 L486.05,1152.5 L486.05,1151.5 L486.06,1150.5 L486.06,1149.5 L486.07,1148.5 L486.08,1147.5 L486.08,1146.5 L486.09,1145.5 L486.09,1144.5 L486.1,1143.5 L486.11,1142.5 L486.11,1141.5 L486.12,1140.5 L486.12,1139.5 L486.13,1138.5 L486.14,1137.5 L486.14,1136.5 L486.15,1135.5 L486.15,1134.5 L486.16,1133.5 L486.17,1132.5 L486.17,1131.5 L486.18,1130.5 L486.18,1129.5 L486.19,1128.5 L486.2,1127.5 L486.2,1126.5 L486.21,1125.5 L486.21,1124.5 L486.22,1123.5 L486.23,1122.5 L486.23,1121.5 L486.24,1120.5 L486.24,1119.5 L486.25,1118.5 L486.26,1117.5 L486.26,1116.5 L486.27,1115.5 L486.27,1114.5 L486.28,1113.5 L486.29,1112.5 L486.29,1111.5 L486.3,1110.5 L486.3,1109.5 L486.31,1108.5 L486.31,1107.5 L486.32,1106.5 L486.33,1105.5 L486.33,1104.5 L486.34,1103.5 L486.34,1102.5 L486.35,1101.5 L486.36,1100.5 L486.36,1099.5 L486.37,1098.5 L486.37,1097.5 L486.38,1096.5 L486.39,1095.5 L486.39,1094.5 L486.4,1093.5 L486.4,1092.5 L486.41,1091.5 L486.42,1090.5 L486.42,1089.5 L486.43,1088.5 L486.43,1087.5 L486.44,1086.5 L486.45,1085.5 L486.45,1084.5 L486.46,1083.5 L486.46,1082.5 L486.47,1081.5 L486.48,1080.5 L486.48,1079.5 L486.49,1078.5 L486.49,1077.5 L486.5,1076.5 L486.51,1075.5 L486.51,1074.5 L486.52,1073.5 L486.52,1072.5 L486.53,1071.5 L486.54,1070.5 L486.54,1069.5 L486.55,1068.5 L486.55,1067.5 L486.56,1066.5 L486.57,1065.5 L486.57,1064.5 L486.58,1063.5 L486.58,1062.5 L486.59,1061.5 L486.6,1060.5 L486.6,1059.5 L486.61,1058.5 L486.61,1057.5 L486.62,1056.5 L486.63,1055.5 L486.63,1054.5 L486.64,1053.5 L486.64,1052.5 L486.65,1051.5 L486.66,1050.5 L486.66,1049.5 L486.67,1048.5 L486.67,1047.5 L486.68,1046.5 L486.69,1045.5 L486.69,1044.5 L486.7,1043.5 L486.7,1042.5 L486.71,1041.5 L486.72,1040.5 L486.72,1039.5 L486.73,1038.5 L486.73,1037.5 L486.74,1036.5 L486.75,1035.5 L486.75,1034.5 L486.76,1033.5 L486.76,1032.5 L486.77,1031.5 L486.78,1030.5 L486.78,1029.5 L486.79,1028.5 L486.79,1027.5 L486.8,1026.5 L486.86,1025.5 L486.92,1024.5 L486.98,1023.5 L487.05,1022.5 L487.11,1021.5 L487.17,1020.5 L487.23,1019.5 L487.29,1018.5 L487.35,1017.5 L487.41,1016.5 L487.48,1015.5 L487.54,1014.5 L487.6,1013.5 L487.66,1012.5 L487.72,1011.5 L487.78,1010.5 L487.85,1009.5 L487.91,1008.5 L487.97,1007.5 L488.03,1006.5 L488.09,1005.5 L488.15,1004.5 L488.21,1003.5 L488.28,1002.5 L488.42,1001.5 L488.63,1000.5 L488.84,999.5 L489.04,998.5 L489.25,997.5 L489.45,996.5 L489.66,995.5 L489.87,994.5 L490.07,993.5 L490.28,992.5 L490.48,991.5 L490.69,990.5 L490.9,989.5 L491.11,988.5 L491.34,987.5 L491.57,986.5 L491.8,985.5 L492.03,984.5 L492.26,983.5 L492.49,982.5 L492.72,981.5 L492.95,980.5 L493.18,979.5 L493.4,978.5 L493.63,977.5 L493.86,976.5 L494.09,975.5 L494.33,974.5 L494.56,973.5 L494.8,972.5 L495.03,971.5 L495.26,970.5 L495.5,969.5 L495.73,968.5 L495.96,967.5 L496.2,966.5 L496.43,965.5 L496.67,964.5 L496.9,963.5 L497.22,962.5 L497.54,961.5 L497.86,960.5 L498.17,959.5 L498.49,958.5 L498.81,957.5 L499.13,956.5 L499.45,955.5 L499.77,954.5 L500.09,953.5 L500.4,952.5 L500.77,951.5 L501.17,950.5 L501.56,949.5 L501.95,948.5 L502.34,947.5 L502.74,946.5 L503.13,945.5 L503.52,944.5 L503.91,943.5 L504.31,942.5 L504.7,941.5 L505.08,940.5 L505.46,939.5 L505.84,938.5 L506.22,937.5 L506.6,936.5 L506.98,935.5 L507.36,934.5 L507.74,933.5 L508.12,932.5 L508.5,931.5 L508.87,930.5 L509.25,929.5 L509.62,928.5 L510,927.5 L510.37,926.5 L510.75,925.5 L511.12,924.5 L511.5,923.5 L511.88,922.5 L512.25,921.5 L512.62,920.5 L513,919.5 L513.52,918.5 L514.04,917.5 L514.56,916.5 L515.08,915.5 L515.6,914.5 L516.12,913.5 L516.64,912.5 L517.16,911.5 L517.68,910.5 L518.2,909.5 L518.78,908.5 L519.37,907.5 L519.96,906.5 L520.56,905.5 L521.15,904.5 L521.75,903.5 L522.34,902.5 L522.93,901.5 L523.53,900.5 L524.12,899.5 L524.65,898.5 L525.14,897.5 L525.64,896.5 L526.13,895.5 L526.63,894.5 L527.12,893.5 L527.61,892.5 L528.11,891.5 L528.6,890.5 L529.15,889.5 L529.88,888.5 L530.61,887.5 L531.34,886.5 L532.07,885.5 L532.8,884.5 L533.54,883.5 L534.27,882.5 L535,881.5 L535.86,880.5 L536.71,879.5 L537.57,878.5 L538.42,877.5 L539.28,876.5 L540.13,875.5 L540.99,874.5 L541.84,873.5 L542.7,872.5 L544.08,871.5 L545.47,870.5 L546.85,869.5 L548.23,868.5 L549.62,867.5 L551,866.5 L575.6,866.5 L576.98,867.5 L578.37,868.5 L579.75,869.5 L581.13,870.5 L582.52,871.5 L583.9,872.5 L584.76,873.5 L585.61,874.5 L586.47,875.5 L587.32,876.5 L588.18,877.5 L589.03,878.5 L589.89,879.5 L590.74,880.5 L591.6,881.5 L592.33,882.5 L593.06,883.5 L593.8,884.5 L594.53,885.5 L595.26,886.5 L595.99,887.5 L596.72,888.5 L597.45,889.5 L598,890.5 L598.49,891.5 L598.99,892.5 L599.48,893.5 L599.97,894.5 L600.47,895.5 L600.96,896.5 L601.46,897.5 L601.95,898.5 L602.48,899.5 L603.07,900.5 L603.67,901.5 L604.26,902.5 L604.85,903.5 L605.45,904.5 L606.04,905.5 L606.64,906.5 L607.23,907.5 L607.82,908.5 L608.4,909.5 L608.92,910.5 L609.44,911.5 L609.96,912.5 L610.48,913.5 L611,914.5 L611.52,915.5 L612.04,916.5 L612.56,917.5 L613.08,918.5 L613.6,919.5 L613.97,920.5 L614.35,921.5 L614.72,922.5 L615.1,923.5 L615.47,924.5 L615.85,925.5 L616.22,926.5 L616.6,927.5 L616.97,928.5 L617.35,929.5 L617.72,930.5 L618.1,931.5 L618.48,932.5 L618.86,933.5 L619.24,934.5 L619.62,935.5 L620,936.5 L620.38,937.5 L620.76,938.5 L621.14,939.5 L621.52,940.5 L621.9,941.5 L622.29,942.5 L622.69,943.5 L623.08,944.5 L623.47,945.5 L623.86,946.5 L624.26,947.5 L624.65,948.5 L625.04,949.5 L625.43,950.5 L625.83,951.5 L626.2,952.5 L626.51,953.5 L626.83,954.5 L627.15,955.5 L627.47,956.5 L627.79,957.5 L628.11,958.5 L628.43,959.5 L628.74,960.5 L629.06,961.5 L629.38,962.5 L629.7,963.5 L629.93,964.5 L630.17,965.5 L630.4,966.5 L630.64,967.5 L630.87,968.5 L631.1,969.5 L631.34,970.5 L631.57,971.5 L631.8,972.5 L632.04,973.5 L632.27,974.5 L632.51,975.5 L632.74,976.5 L632.97,977.5 L633.2,978.5 L633.42,979.5 L633.65,980.5 L633.88,981.5 L634.11,982.5 L634.34,983.5 L634.57,984.5 L634.8,985.5 L635.03,986.5 L635.26,987.5 L635.49,988.5 L635.7,989.5 L635.91,990.5 L636.12,991.5 L636.32,992.5 L636.53,993.5 L636.73,994.5 L636.94,995.5 L637.15,996.5 L637.35,997.5 L637.56,998.5 L637.76,999.5 L637.97,1000.5 L638.18,1001.5 L638.32,1002.5 L638.39,1003.5 L638.45,1004.5 L638.51,1005.5 L638.57,1006.5 L638.63,1007.5 L638.69,1008.5 L638.75,1009.5 L638.82,1010.5 L638.88,1011.5 L638.94,1012.5 L639,1013.5 L639.06,1014.5 L639.12,1015.5 L639.19,1016.5 L639.25,1017.5 L639.31,1018.5 L639.37,1019.5 L639.43,1020.5 L639.49,1021.5 L639.55,1022.5 L639.62,1023.5 L639.68,1024.5 L639.74,1025.5 L639.8,1026.5 L639.81,1027.5 L639.81,1028.5 L639.82,1029.5 L639.82,1030.5 L639.83,1031.5 L639.84,1032.5 L639.84,1033.5 L639.85,1034.5 L639.85,1035.5 L639.86,1036.5 L639.87,1037.5 L639.87,1038.5 L639.88,1039.5 L639.88,1040.5 L639.89,1041.5 L639.9,1042.5 L639.9,1043.5 L639.91,1044.5 L639.91,1045.5 L639.92,1046.5 L639.93,1047.5 L639.93,1048.5 L639.94,1049.5 L639.94,1050.5 L639.95,1051.5 L639.96,1052.5 L639.96,1053.5 L639.97,1054.5 L639.97,1055.5 L639.98,1056.5 L639.99,1057.5 L639.99,1058.5 L640,1059.5 L640,1060.5 L640.01,1061.5 L640.02,1062.5 L640.02,1063.5 L640.03,1064.5 L640.03,1065.5 L640.04,1066.5 L640.05,1067.5 L640.05,1068.5 L640.06,1069.5 L640.06,1070.5 L640.07,1071.5 L640.08,1072.5 L640.08,1073.5 L640.09,1074.5 L640.09,1075.5 L640.1,1076.5 L640.11,1077.5 L640.11,1078.5 L640.12,1079.5 L640.12,1080.5 L640.13,1081.5 L640.14,1082.5 L640.14,1083.5 L640.15,1084.5 L640.15,1085.5 L640.16,1086.5 L640.17,1087.5 L640.17,1088.5 L640.18,1089.5 L640.18,1090.5 L640.19,1091.5 L640.2,1092.5 L640.2,1093.5 L640.21,1094.5 L640.21,1095.5 L640.22,1096.5 L640.23,1097.5 L640.23,1098.5 L640.24,1099.5 L640.24,1100.5 L640.25,1101.5 L640.26,1102.5 L640.26,1103.5 L640.27,1104.5 L640.27,1105.5 L640.28,1106.5 L640.29,1107.5 L640.29,1108.5 L640.3,1109.5 L640.3,1110.5 L640.31,1111.5 L640.31,1112.5 L640.32,1113.5 L640.33,1114.5 L640.33,1115.5 L640.34,1116.5 L640.34,1117.5 L640.35,1118.5 L640.36,1119.5 L640.36,1120.5 L640.37,1121.5 L640.37,1122.5 L640.38,1123.5 L640.39,1124.5 L640.39,1125.5 L640.4,1126.5 L640.4,1127.5 L640.41,1128.5 L640.42,1129.5 L640.42,1130.5 L640.43,1131.5 L640.43,1132.5 L640.44,1133.5 L640.45,1134.5 L640.45,1135.5 L640.46,1136.5 L640.46,1137.5 L640.47,1138.5 L640.48,1139.5 L640.48,1140.5 L640.49,1141.5 L640.49,1142.5 L640.5,1143.5 L640.51,1144.5 L640.51,1145.5 L640.52,1146.5 L640.52,1147.5 L640.53,1148.5 L640.54,1149.5 L640.54,1150.5 L640.55,1151.5 L640.55,1152.5 L640.56,1153.5 L640.57,1154.5 L640.57,1155.5 L640.58,1156.5 L640.58,1157.5 L640.59,1158.5 L640.6,1159.5 L640.6,1160.5 L640.61,1161.5 L640.61,1162.5 L640.62,1163.5 L640.63,1164.5 L640.63,1165.5 L640.64,1166.5 L640.64,1167.5 L640.65,1168.5 L640.66,1169.5 L640.66,1170.5 L640.67,1171.5 L640.67,1172.5 L640.68,1173.5 L640.69,1174.5 L640.69,1175.5 L640.7,1176.5 L640.7,1177.5 L640.71,1178.5 L640.72,1179.5 L640.72,1180.5 L640.73,1181.5 L640.73,1182.5 L640.74,1183.5 L640.75,1184.5 L640.75,1185.5 L640.76,1186.5 L640.76,1187.5 L640.77,1188.5 L640.78,1189.5 L640.78,1190.5 L640.79,1191.5 L640.79,1192.5 L640.8,1193 Z"/></clipPath><clipPath id="c18"><path d="M485.8,1201 L485.8,1193 L485.81,1192.5 L485.81,1191.5 L485.82,1190.5 L485.82,1189.5 L485.83,1188.5 L485.84,1187.5 L485.84,1186.5 L485.85,1185.5 L485.85,1184.5 L485.86,1183.5 L485.87,1182.5 L485.87,1181.5 L485.88,1180.5 L485.88,1179.5 L485.89,1178.5 L485.9,1177.5 L485.9,1176.5 L485.91,1175.5 L485.91,1174.5 L485.92,1173.5 L485.93,1172.5 L485.93,1171.5 L485.94,1170.5 L485.94,1169.5 L485.95,1168.5 L485.96,1167.5 L485.96,1166.5 L485.97,1165.5 L485.97,1164.5 L485.98,1163.5 L485.99,1162.5 L485.99,1161.5 L486,1160.5 L486,1159.5 L486.01,1158.5 L486.02,1157.5 L486.02,1156.5 L486.03,1155.5 L486.03,1154.5 L486.04,1153.5 L486.05,1152.5 L486.05,1151.5 L486.06,1150.5 L486.06,1149.5 L486.07,1148.5 L486.08,1147.5 L486.08,1146.5 L486.09,1145.5 L486.09,1144.5 L486.1,1143.5 L486.11,1142.5 L486.11,1141.5 L486.12,1140.5 L486.12,1139.5 L486.13,1138.5 L486.14,1137.5 L486.14,1136.5 L486.15,1135.5 L486.15,1134.5 L486.16,1133.5 L486.17,1132.5 L486.17,1131.5 L486.18,1130.5 L486.18,1129.5 L486.19,1128.5 L486.2,1127.5 L486.2,1126.5 L486.21,1125.5 L486.21,1124.5 L486.22,1123.5 L486.23,1122.5 L486.23,1121.5 L486.24,1120.5 L486.24,1119.5 L486.25,1118.5 L486.26,1117.5 L486.26,1116.5 L486.27,1115.5 L486.27,1114.5 L486.28,1113.5 L486.29,1112.5 L486.29,1111.5 L486.3,1110.5 L486.3,1109.5 L486.31,1108.5 L486.31,1107.5 L486.32,1106.5 L486.33,1105.5 L486.33,1104.5 L486.34,1103.5 L486.34,1102.5 L486.35,1101.5 L486.36,1100.5 L486.36,1099.5 L486.37,1098.5 L486.37,1097.5 L486.38,1096.5 L486.39,1095.5 L486.39,1094.5 L486.4,1093.5 L486.4,1092.5 L486.41,1091.5 L486.42,1090.5 L486.42,1089.5 L486.43,1088.5 L486.43,1087.5 L486.44,1086.5 L486.45,1085.5 L486.45,1084.5 L486.46,1083.5 L486.46,1082.5 L486.47,1081.5 L486.48,1080.5 L486.48,1079.5 L486.49,1078.5 L486.49,1077.5 L486.5,1076.5 L486.51,1075.5 L486.51,1074.5 L486.52,1073.5 L486.52,1072.5 L486.53,1071.5 L486.54,1070.5 L486.54,1069.5 L486.55,1068.5 L486.55,1067.5 L486.56,1066.5 L486.57,1065.5 L486.57,1064.5 L486.58,1063.5 L486.58,1062.5 L486.59,1061.5 L486.6,1060.5 L486.6,1059.5 L486.61,1058.5 L486.61,1057.5 L486.62,1056.5 L486.63,1055.5 L486.63,1054.5 L486.64,1053.5 L486.64,1052.5 L486.65,1051.5 L486.66,1050.5 L486.66,1049.5 L486.67,1048.5 L486.67,1047.5 L486.68,1046.5 L486.69,1045.5 L486.69,1044.5 L486.7,1043.5 L486.7,1042.5 L486.71,1041.5 L486.72,1040.5 L486.72,1039.5 L486.73,1038.5 L486.73,1037.5 L486.74,1036.5 L486.75,1035.5 L486.75,1034.5 L486.76,1033.5 L486.76,1032.5 L486.77,1031.5 L486.78,1030.5 L486.78,1029.5 L486.79,1028.5 L486.79,1027.5 L486.8,1026.5 L486.86,1025.5 L486.92,1024.5 L486.98,1023.5 L487.05,1022.5 L487.11,1021.5 L487.17,1020.5 L487.23,1019.5 L487.29,1018.5 L487.35,1017.5 L487.41,1016.5 L487.48,1015.5 L487.54,1014.5 L487.6,1013.5 L487.66,1012.5 L487.72,1011.5 L487.78,1010.5 L487.85,1009.5 L487.91,1008.5 L487.97,1007.5 L488.03,1006.5 L488.09,1005.5 L488.15,1004.5 L488.21,1003.5 L488.28,1002.5 L488.42,1001.5 L488.63,1000.5 L488.84,999.5 L489.04,998.5 L489.25,997.5 L489.45,996.5 L489.66,995.5 L489.87,994.5 L490.07,993.5 L490.28,992.5 L490.48,991.5 L490.69,990.5 L490.9,989.5 L491.11,988.5 L491.34,987.5 L491.57,986.5 L491.8,985.5 L492.03,984.5 L492.26,983.5 L492.49,982.5 L492.72,981.5 L492.95,980.5 L493.18,979.5 L493.4,978.5 L493.63,977.5 L493.86,976.5 L494.09,975.5 L494.33,974.5 L494.56,973.5 L494.8,972.5 L495.03,971.5 L495.26,970.5 L495.5,969.5 L495.73,968.5 L495.96,967.5 L496.2,966.5 L496.43,965.5 L496.67,964.5 L496.9,963.5 L497.22,962.5 L497.54,961.5 L497.86,960.5 L498.17,959.5 L498.49,958.5 L498.81,957.5 L499.13,956.5 L499.45,955.5 L499.77,954.5 L500.09,953.5 L500.4,952.5 L500.77,951.5 L501.17,950.5 L501.56,949.5 L501.95,948.5 L502.34,947.5 L502.74,946.5 L503.13,945.5 L503.52,944.5 L503.91,943.5 L504.31,942.5 L504.7,941.5 L505.08,940.5 L505.46,939.5 L505.84,938.5 L506.22,937.5 L506.6,936.5 L506.98,935.5 L507.36,934.5 L507.74,933.5 L508.12,932.5 L508.5,931.5 L508.87,930.5 L509.25,929.5 L509.62,928.5 L510,927.5 L510.37,926.5 L510.75,925.5 L511.12,924.5 L511.5,923.5 L511.88,922.5 L512.25,921.5 L512.62,920.5 L513,919.5 L513.52,918.5 L514.04,917.5 L514.56,916.5 L515.08,915.5 L515.6,914.5 L516.12,913.5 L516.64,912.5 L517.16,911.5 L517.68,910.5 L518.2,909.5 L518.78,908.5 L519.37,907.5 L519.96,906.5 L520.56,905.5 L521.15,904.5 L521.75,903.5 L522.34,902.5 L522.93,901.5 L523.53,900.5 L524.12,899.5 L524.65,898.5 L525.14,897.5 L525.64,896.5 L526.13,895.5 L526.63,894.5 L527.12,893.5 L527.61,892.5 L528.11,891.5 L528.6,890.5 L529.15,889.5 L529.88,888.5 L530.61,887.5 L531.34,886.5 L532.07,885.5 L532.8,884.5 L533.54,883.5 L534.27,882.5 L535,881.5 L535.86,880.5 L536.71,879.5 L537.57,878.5 L538.42,877.5 L539.28,876.5 L540.13,875.5 L540.99,874.5 L541.84,873.5 L542.7,872.5 L544.08,871.5 L545.47,870.5 L546.85,869.5 L548.23,868.5 L549.62,867.5 L551,866.5 L575.6,866.5 L576.98,867.5 L578.37,868.5 L579.75,869.5 L581.13,870.5 L582.52,871.5 L583.9,872.5 L584.76,873.5 L585.61,874.5 L586.47,875.5 L587.32,876.5 L588.18,877.5 L589.03,878.5 L589.89,879.5 L590.74,880.5 L591.6,881.5 L592.33,882.5 L593.06,883.5 L593.8,884.5 L594.53,885.5 L595.26,886.5 L595.99,887.5 L596.72,888.5 L597.45,889.5 L598,890.5 L598.49,891.5 L598.99,892.5 L599.48,893.5 L599.97,894.5 L600.47,895.5 L600.96,896.5 L601.46,897.5 L601.95,898.5 L602.48,899.5 L603.07,900.5 L603.67,901.5 L604.26,902.5 L604.85,903.5 L605.45,904.5 L606.04,905.5 L606.64,906.5 L607.23,907.5 L607.82,908.5 L608.4,909.5 L608.92,910.5 L609.44,911.5 L609.96,912.5 L610.48,913.5 L611,914.5 L611.52,915.5 L612.04,916.5 L612.56,917.5 L613.08,918.5 L613.6,919.5 L613.97,920.5 L614.35,921.5 L614.72,922.5 L615.1,923.5 L615.47,924.5 L615.85,925.5 L616.22,926.5 L616.6,927.5 L616.97,928.5 L617.35,929.5 L617.72,930.5 L618.1,931.5 L618.48,932.5 L618.86,933.5 L619.24,934.5 L619.62,935.5 L620,936.5 L620.38,937.5 L620.76,938.5 L621.14,939.5 L621.52,940.5 L621.9,941.5 L622.29,942.5 L622.69,943.5 L623.08,944.5 L623.47,945.5 L623.86,946.5 L624.26,947.5 L624.65,948.5 L625.04,949.5 L625.43,950.5 L625.83,951.5 L626.2,952.5 L626.51,953.5 L626.83,954.5 L627.15,955.5 L627.47,956.5 L627.79,957.5 L628.11,958.5 L628.43,959.5 L628.74,960.5 L629.06,961.5 L629.38,962.5 L629.7,963.5 L629.93,964.5 L630.17,965.5 L630.4,966.5 L630.64,967.5 L630.87,968.5 L631.1,969.5 L631.34,970.5 L631.57,971.5 L631.8,972.5 L632.04,973.5 L632.27,974.5 L632.51,975.5 L632.74,976.5 L632.97,977.5 L633.2,978.5 L633.42,979.5 L633.65,980.5 L633.88,981.5 L634.11,982.5 L634.34,983.5 L634.57,984.5 L634.8,985.5 L635.03,986.5 L635.26,987.5 L635.49,988.5 L635.7,989.5 L635.91,990.5 L636.12,991.5 L636.32,992.5 L636.53,993.5 L636.73,994.5 L636.94,995.5 L637.15,996.5 L637.35,997.5 L637.56,998.5 L637.76,999.5 L637.97,1000.5 L638.18,1001.5 L638.32,1002.5 L638.39,1003.5 L638.45,1004.5 L638.51,1005.5 L638.57,1006.5 L638.63,1007.5 L638.69,1008.5 L638.75,1009.5 L638.82,1010.5 L638.88,1011.5 L638.94,1012.5 L639,1013.5 L639.06,1014.5 L639.12,1015.5 L639.19,1016.5 L639.25,1017.5 L639.31,1018.5 L639.37,1019.5 L639.43,1020.5 L639.49,1021.5 L639.55,1022.5 L639.62,1023.5 L639.68,1024.5 L639.74,1025.5 L639.8,1026.5 L639.81,1027.5 L639.81,1028.5 L639.82,1029.5 L639.82,1030.5 L639.83,1031.5 L639.84,1032.5 L639.84,1033.5 L639.85,1034.5 L639.85,1035.5 L639.86,1036.5 L639.87,1037.5 L639.87,1038.5 L639.88,1039.5 L639.88,1040.5 L639.89,1041.5 L639.9,1042.5 L639.9,1043.5 L639.91,1044.5 L639.91,1045.5 L639.92,1046.5 L639.93,1047.5 L639.93,1048.5 L639.94,1049.5 L639.94,1050.5 L639.95,1051.5 L639.96,1052.5 L639.96,1053.5 L639.97,1054.5 L639.97,1055.5 L639.98,1056.5 L639.99,1057.5 L639.99,1058.5 L640,1059.5 L640,1060.5 L640.01,1061.5 L640.02,1062.5 L640.02,1063.5 L640.03,1064.5 L640.03,1065.5 L640.04,1066.5 L640.05,1067.5 L640.05,1068.5 L640.06,1069.5 L640.06,1070.5 L640.07,1071.5 L640.08,1072.5 L640.08,1073.5 L640.09,1074.5 L640.09,1075.5 L640.1,1076.5 L640.11,1077.5 L640.11,1078.5 L640.12,1079.5 L640.12,1080.5 L640.13,1081.5 L640.14,1082.5 L640.14,1083.5 L640.15,1084.5 L640.15,1085.5 L640.16,1086.5 L640.17,1087.5 L640.17,1088.5 L640.18,1089.5 L640.18,1090.5 L640.19,1091.5 L640.2,1092.5 L640.2,1093.5 L640.21,1094.5 L640.21,1095.5 L640.22,1096.5 L640.23,1097.5 L640.23,1098.5 L640.24,1099.5 L640.24,1100.5 L640.25,1101.5 L640.26,1102.5 L640.26,1103.5 L640.27,1104.5 L640.27,1105.5 L640.28,1106.5 L640.29,1107.5 L640.29,1108.5 L640.3,1109.5 L640.3,1110.5 L640.31,1111.5 L640.31,1112.5 L640.32,1113.5 L640.33,1114.5 L640.33,1115.5 L640.34,1116.5 L640.34,1117.5 L640.35,1118.5 L640.36,1119.5 L640.36,1120.5 L640.37,1121.5 L640.37,1122.5 L640.38,1123.5 L640.39,1124.5 L640.39,1125.5 L640.4,1126.5 L640.4,1127.5 L640.41,1128.5 L640.42,1129.5 L640.42,1130.5 L640.43,1131.5 L640.43,1132.5 L640.44,1133.5 L640.45,1134.5 L640.45,1135.5 L640.46,1136.5 L640.46,1137.5 L640.47,1138.5 L640.48,1139.5 L640.48,1140.5 L640.49,1141.5 L640.49,1142.5 L640.5,1143.5 L640.51,1144.5 L640.51,1145.5 L640.52,1146.5 L640.52,1147.5 L640.53,1148.5 L640.54,1149.5 L640.54,1150.5 L640.55,1151.5 L640.55,1152.5 L640.56,1153.5 L640.57,1154.5 L640.57,1155.5 L640.58,1156.5 L640.58,1157.5 L640.59,1158.5 L640.6,1159.5 L640.6,1160.5 L640.61,1161.5 L640.61,1162.5 L640.62,1163.5 L640.63,1164.5 L640.63,1165.5 L640.64,1166.5 L640.64,1167.5 L640.65,1168.5 L640.66,1169.5 L640.66,1170.5 L640.67,1171.5 L640.67,1172.5 L640.68,1173.5 L640.69,1174.5 L640.69,1175.5 L640.7,1176.5 L640.7,1177.5 L640.71,1178.5 L640.72,1179.5 L640.72,1180.5 L640.73,1181.5 L640.73,1182.5 L640.74,1183.5 L640.75,1184.5 L640.75,1185.5 L640.76,1186.5 L640.76,1187.5 L640.77,1188.5 L640.78,1189.5 L640.78,1190.5 L640.79,1191.5 L640.79,1192.5 L640.8,1193 L640.8,1201 Z"/></clipPath><clipPath id="c19"><path d="M681.52,988.5 L681.52,988 L681.53,987 L681.53,986 L681.54,985 L681.54,984 L681.55,983 L681.56,982 L681.56,981 L681.57,980 L681.58,979 L681.58,978 L681.59,977 L681.59,976 L681.6,975 L681.61,974 L681.61,973 L681.62,972 L681.63,971 L681.63,970 L681.64,969 L681.65,968 L681.65,967 L681.66,966 L681.66,965 L681.67,964 L681.68,963 L681.68,962 L681.69,961 L681.7,960 L681.7,959 L681.71,958 L681.72,957 L681.72,956 L681.73,955 L681.73,954 L681.74,953 L681.75,952 L681.75,951 L681.76,950 L681.77,949 L681.77,948 L681.78,947 L681.78,946 L681.79,945 L681.8,944 L681.8,943 L681.81,942 L681.82,941 L681.82,940 L681.83,939 L681.84,938 L681.84,937 L681.85,936 L681.85,935 L681.86,934 L681.87,933 L681.87,932 L681.88,931 L681.89,930 L681.89,929 L681.9,928 L681.91,927 L681.91,926 L681.92,925 L681.92,924 L681.93,923 L681.94,922 L681.94,921 L681.95,920 L681.96,919 L681.96,918 L681.97,917 L681.97,916 L681.98,915 L681.99,914 L681.99,913 L682,912 L682.04,911 L682.08,910 L682.12,909 L682.16,908 L682.19,907 L682.23,906 L682.27,905 L682.31,904 L682.35,903 L682.39,902 L682.43,901 L682.47,900 L682.51,899 L682.54,898 L682.58,897 L682.62,896 L682.66,895 L682.7,894 L682.82,893 L682.93,892 L683.05,891 L683.16,890 L683.28,889 L683.39,888 L683.51,887 L683.63,886 L683.74,885 L683.86,884 L683.97,883 L684.09,882 L684.21,881 L684.32,880 L684.44,879 L684.55,878 L684.67,877 L684.78,876 L684.9,875 L685.06,874 L685.21,873 L685.37,872 L685.52,871 L685.68,870 L685.84,869 L685.99,868 L686.15,867 L686.31,866 L686.46,865 L686.62,864 L686.77,863 L686.93,862 L687.09,861 L687.24,860 L687.4,859 L687.64,858 L687.89,857 L688.13,856 L688.37,855 L688.61,854 L688.86,853 L689.1,852 L689.34,851 L689.59,850 L689.83,849 L690.07,848 L690.31,847 L690.56,846 L690.8,845 L691.08,844 L691.36,843 L691.64,842 L691.92,841 L692.2,840 L692.48,839 L692.76,838 L693.04,837 L693.32,836 L693.6,835 L693.88,834 L694.16,833 L694.44,832 L694.72,831 L695,830 L695.29,829 L695.58,828 L695.88,827 L696.17,826 L696.46,825 L696.75,824 L697.04,823 L697.33,822 L697.62,821 L697.92,820 L698.21,819 L698.5,818 L698.82,817 L699.14,816 L699.46,815 L699.79,814 L700.11,813 L700.43,812 L700.75,811 L701.07,810 L701.39,809 L701.71,808 L702.04,807 L702.36,806 L702.68,805 L703,804 L703.39,803 L703.79,802 L704.18,801 L704.57,800 L704.96,799 L705.36,798 L705.75,797 L706.14,796 L706.54,795 L706.93,794 L707.32,793 L707.71,792 L708.11,791 L708.5,790 L708.85,789 L709.21,788 L709.56,787 L709.91,786 L710.27,785 L710.62,784 L710.97,783 L711.33,782 L711.68,781 L712.03,780 L712.39,779 L712.74,778 L713.09,777 L713.45,776 L713.8,775 L714.3,774 L714.81,773 L715.31,772 L715.82,771 L716.32,770 L716.83,769 L717.33,768 L717.84,767 L718.34,766 L718.84,765 L719.35,764 L719.86,763 L720.37,762 L720.88,761 L721.4,760 L721.91,759 L722.42,758 L722.94,757 L723.45,756 L723.96,755 L724.47,754 L724.99,753 L725.5,752 L726.01,751 L726.52,750 L727.03,749 L727.54,748 L728.05,747 L728.55,746 L729.06,745 L729.57,744 L730.08,743 L730.59,742 L731.1,741 L731.87,740 L732.63,739 L733.4,738 L734.17,737 L734.93,736 L735.7,735 L736.47,734 L737.23,733 L738,732 L738.77,731 L739.53,730 L740.3,729 L741.39,728 L742.48,727 L743.56,726 L744.65,725 L745.74,724 L746.83,723 L747.91,722 L749,721 L750.12,720 L751.25,719 L752.38,718 L753.5,717 L754.62,716 L755.75,715 L756.88,714 L758,713 L758.5,712 L759,711 L788,711 L788.5,712 L789,713 L790.12,714 L791.25,715 L792.38,716 L793.5,717 L794.62,718 L795.75,719 L796.88,720 L798,721 L799.09,722 L800.17,723 L801.26,724 L802.35,725 L803.44,726 L804.52,727 L805.61,728 L806.7,729 L807.47,730 L808.23,731 L809,732 L809.77,733 L810.53,734 L811.3,735 L812.07,736 L812.83,737 L813.6,738 L814.37,739 L815.13,740 L815.9,741 L816.41,742 L816.92,743 L817.43,744 L817.94,745 L818.45,746 L818.95,747 L819.46,748 L819.97,749 L820.48,750 L820.99,751 L821.5,752 L822.01,753 L822.53,754 L823.04,755 L823.55,756 L824.06,757 L824.58,758 L825.09,759 L825.6,760 L826.12,761 L826.63,762 L827.14,763 L827.65,764 L828.16,765 L828.66,766 L829.16,767 L829.67,768 L830.17,769 L830.68,770 L831.18,771 L831.69,772 L832.19,773 L832.7,774 L833.2,775 L833.55,776 L833.91,777 L834.26,778 L834.61,779 L834.97,780 L835.32,781 L835.67,782 L836.03,783 L836.38,784 L836.73,785 L837.09,786 L837.44,787 L837.79,788 L838.15,789 L838.5,790 L838.89,791 L839.29,792 L839.68,793 L840.07,794 L840.46,795 L840.86,796 L841.25,797 L841.64,798 L842.04,799 L842.43,800 L842.82,801 L843.21,802 L843.61,803 L844,804 L844.32,805 L844.64,806 L844.96,807 L845.29,808 L845.61,809 L845.93,810 L846.25,811 L846.57,812 L846.89,813 L847.21,814 L847.54,815 L847.86,816 L848.18,817 L848.5,818 L848.79,819 L849.08,820 L849.38,821 L849.67,822 L849.96,823 L850.25,824 L850.54,825 L850.83,826 L851.12,827 L851.42,828 L851.71,829 L852,830 L852.28,831 L852.56,832 L852.84,833 L853.12,834 L853.4,835 L853.68,836 L853.96,837 L854.24,838 L854.52,839 L854.8,840 L855.08,841 L855.36,842 L855.64,843 L855.92,844 L856.2,845 L856.44,846 L856.69,847 L856.93,848 L857.17,849 L857.41,850 L857.66,851 L857.9,852 L858.14,853 L858.39,854 L858.63,855 L858.87,856 L859.11,857 L859.36,858 L859.6,859 L859.76,860 L859.91,861 L860.07,862 L860.23,863 L860.38,864 L860.54,865 L860.69,866 L860.85,867 L861.01,868 L861.16,869 L861.32,870 L861.48,871 L861.63,872 L861.79,873 L861.94,874 L862.1,875 L862.22,876 L862.33,877 L862.45,878 L862.56,879 L862.68,880 L862.79,881 L862.91,882 L863.03,883 L863.14,884 L863.26,885 L863.37,886 L863.49,887 L863.61,888 L863.72,889 L863.84,890 L863.95,891 L864.07,892 L864.18,893 L864.3,894 L864.34,895 L864.38,896 L864.42,897 L864.46,898 L864.49,899 L864.53,900 L864.57,901 L864.61,902 L864.65,903 L864.69,904 L864.73,905 L864.77,906 L864.81,907 L864.84,908 L864.88,909 L864.92,910 L864.96,911 L865,912 L865.01,913 L865.01,914 L865.02,915 L865.03,916 L865.03,917 L865.04,918 L865.04,919 L865.05,920 L865.06,921 L865.06,922 L865.07,923 L865.08,924 L865.08,925 L865.09,926 L865.09,927 L865.1,928 L865.11,929 L865.11,930 L865.12,931 L865.13,932 L865.13,933 L865.14,934 L865.15,935 L865.15,936 L865.16,937 L865.16,938 L865.17,939 L865.18,940 L865.18,941 L865.19,942 L865.2,943 L865.2,944 L865.21,945 L865.22,946 L865.22,947 L865.23,948 L865.23,949 L865.24,950 L865.25,951 L865.25,952 L865.26,953 L865.27,954 L865.27,955 L865.28,956 L865.28,957 L865.29,958 L865.3,959 L865.3,960 L865.31,961 L865.32,962 L865.32,963 L865.33,964 L865.34,965 L865.34,966 L865.35,967 L865.35,968 L865.36,969 L865.37,970 L865.37,971 L865.38,972 L865.39,973 L865.39,974 L865.4,975 L865.41,976 L865.41,977 L865.42,978 L865.42,979 L865.43,980 L865.44,981 L865.44,982 L865.45,983 L865.46,984 L865.46,985 L865.47,986 L865.47,987 L865.48,988 L865.48,988.5 Z"/></clipPath><clipPath id="c20"><path d="M681.52,996.5 L681.52,988.5 L681.52,988 L681.53,987 L681.53,986 L681.54,985 L681.54,984 L681.55,983 L681.56,982 L681.56,981 L681.57,980 L681.58,979 L681.58,978 L681.59,977 L681.59,976 L681.6,975 L681.61,974 L681.61,973 L681.62,972 L681.63,971 L681.63,970 L681.64,969 L681.65,968 L681.65,967 L681.66,966 L681.66,965 L681.67,964 L681.68,963 L681.68,962 L681.69,961 L681.7,960 L681.7,959 L681.71,958 L681.72,957 L681.72,956 L681.73,955 L681.73,954 L681.74,953 L681.75,952 L681.75,951 L681.76,950 L681.77,949 L681.77,948 L681.78,947 L681.78,946 L681.79,945 L681.8,944 L681.8,943 L681.81,942 L681.82,941 L681.82,940 L681.83,939 L681.84,938 L681.84,937 L681.85,936 L681.85,935 L681.86,934 L681.87,933 L681.87,932 L681.88,931 L681.89,930 L681.89,929 L681.9,928 L681.91,927 L681.91,926 L681.92,925 L681.92,924 L681.93,923 L681.94,922 L681.94,921 L681.95,920 L681.96,919 L681.96,918 L681.97,917 L681.97,916 L681.98,915 L681.99,914 L681.99,913 L682,912 L682.04,911 L682.08,910 L682.12,909 L682.16,908 L682.19,907 L682.23,906 L682.27,905 L682.31,904 L682.35,903 L682.39,902 L682.43,901 L682.47,900 L682.51,899 L682.54,898 L682.58,897 L682.62,896 L682.66,895 L682.7,894 L682.82,893 L682.93,892 L683.05,891 L683.16,890 L683.28,889 L683.39,888 L683.51,887 L683.63,886 L683.74,885 L683.86,884 L683.97,883 L684.09,882 L684.21,881 L684.32,880 L684.44,879 L684.55,878 L684.67,877 L684.78,876 L684.9,875 L685.06,874 L685.21,873 L685.37,872 L685.52,871 L685.68,870 L685.84,869 L685.99,868 L686.15,867 L686.31,866 L686.46,865 L686.62,864 L686.77,863 L686.93,862 L687.09,861 L687.24,860 L687.4,859 L687.64,858 L687.89,857 L688.13,856 L688.37,855 L688.61,854 L688.86,853 L689.1,852 L689.34,851 L689.59,850 L689.83,849 L690.07,848 L690.31,847 L690.56,846 L690.8,845 L691.08,844 L691.36,843 L691.64,842 L691.92,841 L692.2,840 L692.48,839 L692.76,838 L693.04,837 L693.32,836 L693.6,835 L693.88,834 L694.16,833 L694.44,832 L694.72,831 L695,830 L695.29,829 L695.58,828 L695.88,827 L696.17,826 L696.46,825 L696.75,824 L697.04,823 L697.33,822 L697.62,821 L697.92,820 L698.21,819 L698.5,818 L698.82,817 L699.14,816 L699.46,815 L699.79,814 L700.11,813 L700.43,812 L700.75,811 L701.07,810 L701.39,809 L701.71,808 L702.04,807 L702.36,806 L702.68,805 L703,804 L703.39,803 L703.79,802 L704.18,801 L704.57,800 L704.96,799 L705.36,798 L705.75,797 L706.14,796 L706.54,795 L706.93,794 L707.32,793 L707.71,792 L708.11,791 L708.5,790 L708.85,789 L709.21,788 L709.56,787 L709.91,786 L710.27,785 L710.62,784 L710.97,783 L711.33,782 L711.68,781 L712.03,780 L712.39,779 L712.74,778 L713.09,777 L713.45,776 L713.8,775 L714.3,774 L714.81,773 L715.31,772 L715.82,771 L716.32,770 L716.83,769 L717.33,768 L717.84,767 L718.34,766 L718.84,765 L719.35,764 L719.86,763 L720.37,762 L720.88,761 L721.4,760 L721.91,759 L722.42,758 L722.94,757 L723.45,756 L723.96,755 L724.47,754 L724.99,753 L725.5,752 L726.01,751 L726.52,750 L727.03,749 L727.54,748 L728.05,747 L728.55,746 L729.06,745 L729.57,744 L730.08,743 L730.59,742 L731.1,741 L731.87,740 L732.63,739 L733.4,738 L734.17,737 L734.93,736 L735.7,735 L736.47,734 L737.23,733 L738,732 L738.77,731 L739.53,730 L740.3,729 L741.39,728 L742.48,727 L743.56,726 L744.65,725 L745.74,724 L746.83,723 L747.91,722 L749,721 L750.12,720 L751.25,719 L752.38,718 L753.5,717 L754.62,716 L755.75,715 L756.88,714 L758,713 L758.5,712 L759,711 L788,711 L788.5,712 L789,713 L790.12,714 L791.25,715 L792.38,716 L793.5,717 L794.62,718 L795.75,719 L796.88,720 L798,721 L799.09,722 L800.17,723 L801.26,724 L802.35,725 L803.44,726 L804.52,727 L805.61,728 L806.7,729 L807.47,730 L808.23,731 L809,732 L809.77,733 L810.53,734 L811.3,735 L812.07,736 L812.83,737 L813.6,738 L814.37,739 L815.13,740 L815.9,741 L816.41,742 L816.92,743 L817.43,744 L817.94,745 L818.45,746 L818.95,747 L819.46,748 L819.97,749 L820.48,750 L820.99,751 L821.5,752 L822.01,753 L822.53,754 L823.04,755 L823.55,756 L824.06,757 L824.58,758 L825.09,759 L825.6,760 L826.12,761 L826.63,762 L827.14,763 L827.65,764 L828.16,765 L828.66,766 L829.16,767 L829.67,768 L830.17,769 L830.68,770 L831.18,771 L831.69,772 L832.19,773 L832.7,774 L833.2,775 L833.55,776 L833.91,777 L834.26,778 L834.61,779 L834.97,780 L835.32,781 L835.67,782 L836.03,783 L836.38,784 L836.73,785 L837.09,786 L837.44,787 L837.79,788 L838.15,789 L838.5,790 L838.89,791 L839.29,792 L839.68,793 L840.07,794 L840.46,795 L840.86,796 L841.25,797 L841.64,798 L842.04,799 L842.43,800 L842.82,801 L843.21,802 L843.61,803 L844,804 L844.32,805 L844.64,806 L844.96,807 L845.29,808 L845.61,809 L845.93,810 L846.25,811 L846.57,812 L846.89,813 L847.21,814 L847.54,815 L847.86,816 L848.18,817 L848.5,818 L848.79,819 L849.08,820 L849.38,821 L849.67,822 L849.96,823 L850.25,824 L850.54,825 L850.83,826 L851.12,827 L851.42,828 L851.71,829 L852,830 L852.28,831 L852.56,832 L852.84,833 L853.12,834 L853.4,835 L853.68,836 L853.96,837 L854.24,838 L854.52,839 L854.8,840 L855.08,841 L855.36,842 L855.64,843 L855.92,844 L856.2,845 L856.44,846 L856.69,847 L856.93,848 L857.17,849 L857.41,850 L857.66,851 L857.9,852 L858.14,853 L858.39,854 L858.63,855 L858.87,856 L859.11,857 L859.36,858 L859.6,859 L859.76,860 L859.91,861 L860.07,862 L860.23,863 L860.38,864 L860.54,865 L860.69,866 L860.85,867 L861.01,868 L861.16,869 L861.32,870 L861.48,871 L861.63,872 L861.79,873 L861.94,874 L862.1,875 L862.22,876 L862.33,877 L862.45,878 L862.56,879 L862.68,880 L862.79,881 L862.91,882 L863.03,883 L863.14,884 L863.26,885 L863.37,886 L863.49,887 L863.61,888 L863.72,889 L863.84,890 L863.95,891 L864.07,892 L864.18,893 L864.3,894 L864.34,895 L864.38,896 L864.42,897 L864.46,898 L864.49,899 L864.53,900 L864.57,901 L864.61,902 L864.65,903 L864.69,904 L864.73,905 L864.77,906 L864.81,907 L864.84,908 L864.88,909 L864.92,910 L864.96,911 L865,912 L865.01,913 L865.01,914 L865.02,915 L865.03,916 L865.03,917 L865.04,918 L865.04,919 L865.05,920 L865.06,921 L865.06,922 L865.07,923 L865.08,924 L865.08,925 L865.09,926 L865.09,927 L865.1,928 L865.11,929 L865.11,930 L865.12,931 L865.13,932 L865.13,933 L865.14,934 L865.15,935 L865.15,936 L865.16,937 L865.16,938 L865.17,939 L865.18,940 L865.18,941 L865.19,942 L865.2,943 L865.2,944 L865.21,945 L865.22,946 L865.22,947 L865.23,948 L865.23,949 L865.24,950 L865.25,951 L865.25,952 L865.26,953 L865.27,954 L865.27,955 L865.28,956 L865.28,957 L865.29,958 L865.3,959 L865.3,960 L865.31,961 L865.32,962 L865.32,963 L865.33,964 L865.34,965 L865.34,966 L865.35,967 L865.35,968 L865.36,969 L865.37,970 L865.37,971 L865.38,972 L865.39,973 L865.39,974 L865.4,975 L865.41,976 L865.41,977 L865.42,978 L865.42,979 L865.43,980 L865.44,981 L865.44,982 L865.45,983 L865.46,984 L865.46,985 L865.47,986 L865.47,987 L865.48,988 L865.48,988.5 L865.48,996.5 Z"/></clipPath><clipPath id="c21"><path d="M682,1032 L866,1032 L866,1201 L682,1201 Z"/></clipPath><clipPath id="c22"><path d="M682,1024 L866,1024 L866,1205 L682,1205 Z"/></clipPath></defs><rect width="1000" height="1261" fill="#fff"/><g clip-path="url(#c1)"><path d="M119.75,505.3 V528.5" stroke="#a3a396" stroke-width="2.6"/><path d="M59.75,463.29 L119.75,505.3 L179.75,463.29 M59.75,473.39 L119.75,515.4 L179.75,473.39 M59.75,483.49 L119.75,525.5 L179.75,483.49 M59.75,493.59 L119.75,535.6 L179.75,493.59 M59.75,503.69 L119.75,545.7 L179.75,503.69 M59.75,513.79 L119.75,555.8 L179.75,513.79 M59.75,523.89 L119.75,565.9 L179.75,523.89" fill="none" stroke="#a3a396" stroke-width="2.6" stroke-linejoin="miter"/></g><g clip-path="url(#c2)"><path d="M245,432 V528.5" stroke="#a3a396" stroke-width="2.6"/><path d="M125,307.74 L245,432 L365,307.74 M125,322.54 L245,446.8 L365,322.54 M125,337.34 L245,461.6 L365,337.34 M125,352.14 L245,476.4 L365,352.14 M125,366.94 L245,491.2 L365,366.94 M125,381.74 L245,506 L365,381.74 M125,396.54 L245,520.8 L365,396.54 M125,411.34 L245,535.6 L365,411.34 M125,426.14 L245,550.4 L365,426.14 M125,440.94 L245,565.2 L365,440.94 M125,455.74 L245,580 L365,455.74 M125,470.54 L245,594.8 L365,470.54 M125,485.34 L245,609.6 L365,485.34 M125,500.14 L245,624.4 L365,500.14 M125,514.94 L245,639.2 L365,514.94" fill="none" stroke="#a3a396" stroke-width="2.6" stroke-linejoin="miter"/></g><g clip-path="url(#c3)"><rect x="190.05" y="520.25" width="8.5" height="8.5" rx="1.2" fill="#3b73c0" transform="rotate(-20 194.3 524.5)"/><rect x="208.15" y="517.75" width="8.5" height="8.5" rx="1.2" fill="#3b73c0" transform="rotate(0 212.4 522)"/><rect x="225.45" y="517.55" width="8.5" height="8.5" rx="1.2" fill="#3b73c0" transform="rotate(0 229.7 521.8)"/><rect x="258.65" y="517.55" width="8.5" height="8.5" rx="1.2" fill="#3b73c0" transform="rotate(0 262.9 521.8)"/><rect x="275.15" y="517.75" width="8.5" height="8.5" rx="1.2" fill="#3b73c0" transform="rotate(0 279.4 522)"/><rect x="294.75" y="519.75" width="8.5" height="8.5" rx="1.2" fill="#3b73c0" transform="rotate(20 299 524)"/><rect x="242.8" y="514" width="7" height="9" rx="1.2" fill="#3b73c0" transform="rotate(0 246.3 518.5)"/></g><g clip-path="url(#c4)"><path d="M401.8,326.8 V529" stroke="#a3a396" stroke-width="2.6"/><path d="M251.8,176.8 L401.8,326.8 L551.8,176.8 M251.8,192.7 L401.8,342.7 L551.8,192.7 M251.8,208.6 L401.8,358.6 L551.8,208.6 M251.8,224.5 L401.8,374.5 L551.8,224.5 M251.8,240.4 L401.8,390.4 L551.8,240.4 M251.8,256.3 L401.8,406.3 L551.8,256.3 M251.8,272.2 L401.8,422.2 L551.8,272.2 M251.8,288.1 L401.8,438.1 L551.8,288.1 M251.8,304 L401.8,454 L551.8,304 M251.8,319.9 L401.8,469.9 L551.8,319.9 M251.8,335.8 L401.8,485.8 L551.8,335.8 M251.8,351.7 L401.8,501.7 L551.8,351.7 M251.8,367.6 L401.8,517.6 L551.8,367.6 M251.8,383.5 L401.8,533.5 L551.8,383.5 M251.8,399.4 L401.8,549.4 L551.8,399.4 M251.8,415.3 L401.8,565.3 L551.8,415.3 M251.8,431.2 L401.8,581.2 L551.8,431.2 M251.8,447.1 L401.8,597.1 L551.8,447.1 M251.8,463 L401.8,613 L551.8,463 M251.8,478.9 L401.8,628.9 L551.8,478.9 M251.8,494.8 L401.8,644.8 L551.8,494.8 M251.8,510.7 L401.8,660.7 L551.8,510.7 M251.8,526.6 L401.8,676.6 L551.8,526.6" fill="none" stroke="#a3a396" stroke-width="2.6" stroke-linejoin="miter"/></g><g clip-path="url(#c5)"><rect x="330.85" y="507.15" width="8.5" height="8.5" rx="1.2" fill="#3b73c0" transform="rotate(-30 335.1 511.4)"/><rect x="345.55" y="497.85" width="8.5" height="8.5" rx="1.2" fill="#3b73c0" transform="rotate(-15 349.8 502.1)"/><rect x="362.55" y="495.55" width="8.5" height="8.5" rx="1.2" fill="#3b73c0" transform="rotate(-8 366.8 499.8)"/><rect x="380.45" y="493.95" width="8.5" height="8.5" rx="1.2" fill="#3b73c0" transform="rotate(-8 384.7 498.2)"/><rect x="421.45" y="494.75" width="8.5" height="8.5" rx="1.2" fill="#3b73c0" transform="rotate(8 425.7 499)"/><rect x="439.35" y="496.35" width="8.5" height="8.5" rx="1.2" fill="#3b73c0" transform="rotate(8 443.6 500.6)"/><rect x="456.35" y="500.95" width="8.5" height="8.5" rx="1.2" fill="#3b73c0" transform="rotate(20 460.6 505.2)"/><rect x="395.95" y="485.45" width="8.5" height="8.5" rx="1.2" fill="#3b73c0" transform="rotate(-30 400.2 489.7)"/><rect x="404.45" y="490.15" width="8.5" height="8.5" rx="1.2" fill="#3b73c0" transform="rotate(30 408.7 494.4)"/><rect x="329.25" y="521.15" width="8.5" height="8.5" rx="1.2" fill="#ff0000" transform="rotate(5 333.5 525.4)"/><rect x="347.85" y="518.75" width="8.5" height="8.5" rx="1.2" fill="#ff0000" transform="rotate(5 352.1 523)"/><rect x="365.75" y="518.75" width="8.5" height="8.5" rx="1.2" fill="#ff0000" transform="rotate(5 370 523)"/><rect x="382.75" y="518.75" width="8.5" height="8.5" rx="1.2" fill="#ff0000" transform="rotate(5 387 523)"/><rect x="414.55" y="519.55" width="8.5" height="8.5" rx="1.2" fill="#ff0000" transform="rotate(5 418.8 523.8)"/><rect x="432.35" y="519.55" width="8.5" height="8.5" rx="1.2" fill="#ff0000" transform="rotate(5 436.6 523.8)"/><rect x="450.15" y="519.55" width="8.5" height="8.5" rx="1.2" fill="#ff0000" transform="rotate(5 454.4 523.8)"/><rect x="465.65" y="522.75" width="8.5" height="8.5" rx="1.2" fill="#ff0000" transform="rotate(5 469.9 527)"/><rect x="396.75" y="514.95" width="8.5" height="8.5" rx="1.2" fill="#ff0000" transform="rotate(45 401 519.2)"/></g><g clip-path="url(#c6)"><path d="M563.3,215.2 V530" stroke="#a3a396" stroke-width="2.6"/><path d="M363.3,15.2 L563.3,215.2 L763.3,15.2 M363.3,30.3 L563.3,230.3 L763.3,30.3 M363.3,45.4 L563.3,245.4 L763.3,45.4 M363.3,60.5 L563.3,260.5 L763.3,60.5 M363.3,75.6 L563.3,275.6 L763.3,75.6 M363.3,90.7 L563.3,290.7 L763.3,90.7 M363.3,105.8 L563.3,305.8 L763.3,105.8 M363.3,120.9 L563.3,320.9 L763.3,120.9 M363.3,136 L563.3,336 L763.3,136 M363.3,151.1 L563.3,351.1 L763.3,151.1 M363.3,166.2 L563.3,366.2 L763.3,166.2 M363.3,181.3 L563.3,381.3 L763.3,181.3 M363.3,196.4 L563.3,396.4 L763.3,196.4 M363.3,211.5 L563.3,411.5 L763.3,211.5 M363.3,226.6 L563.3,426.6 L763.3,226.6 M363.3,241.7 L563.3,441.7 L763.3,241.7 M363.3,256.8 L563.3,456.8 L763.3,256.8 M363.3,271.9 L563.3,471.9 L763.3,271.9 M363.3,287 L563.3,487 L763.3,287 M363.3,302.1 L563.3,502.1 L763.3,302.1 M363.3,317.2 L563.3,517.2 L763.3,317.2 M363.3,332.3 L563.3,532.3 L763.3,332.3 M363.3,347.4 L563.3,547.4 L763.3,347.4 M363.3,362.5 L563.3,562.5 L763.3,362.5 M363.3,377.6 L563.3,577.6 L763.3,377.6 M363.3,392.7 L563.3,592.7 L763.3,392.7 M363.3,407.8 L563.3,607.8 L763.3,407.8 M363.3,422.9 L563.3,622.9 L763.3,422.9 M363.3,438 L563.3,638 L763.3,438 M363.3,453.1 L563.3,653.1 L763.3,453.1 M363.3,468.2 L563.3,668.2 L763.3,468.2 M363.3,483.3 L563.3,683.3 L763.3,483.3 M363.3,498.4 L563.3,698.4 L763.3,498.4 M363.3,513.5 L563.3,713.5 L763.3,513.5 M363.3,528.6 L563.3,728.6 L763.3,528.6" fill="none" stroke="#a3a396" stroke-width="2.6" stroke-linejoin="miter"/></g><g clip-path="url(#c7)"><rect x="541.25" y="438.75" width="8.5" height="8.5" rx="1.2" fill="#ff0000" transform="rotate(-8 545.5 443)"/><rect x="523.35" y="440.45" width="8.5" height="8.5" rx="1.2" fill="#ff0000" transform="rotate(-8 527.6 444.7)"/><rect x="505.5" y="442.15" width="8.5" height="8.5" rx="1.2" fill="#ff0000" transform="rotate(-10 509.75 446.4)"/><rect x="490.25" y="451.45" width="8.5" height="8.5" rx="1.2" fill="#ff0000" transform="rotate(-30 494.5 455.7)"/><rect x="582.05" y="438.75" width="8.5" height="8.5" rx="1.2" fill="#ff0000" transform="rotate(8 586.3 443)"/><rect x="599.85" y="440.45" width="8.5" height="8.5" rx="1.2" fill="#ff0000" transform="rotate(8 604.1 444.7)"/><rect x="617.75" y="442.95" width="8.5" height="8.5" rx="1.2" fill="#ff0000" transform="rotate(10 622 447.2)"/><rect x="631.35" y="451.45" width="8.5" height="8.5" rx="1.2" fill="#ff0000" transform="rotate(30 635.6 455.7)"/><rect x="556.55" y="433.25" width="8.5" height="8.5" rx="1.2" fill="#ff0000" transform="rotate(-15 560.8 437.5)"/><rect x="565.25" y="433.25" width="8.5" height="8.5" rx="1.2" fill="#ff0000" transform="rotate(15 569.5 437.5)"/><rect x="539.5" y="465.05" width="8.5" height="8.5" rx="1.2" fill="#3b73c0" transform="rotate(-19 543.75 469.3)"/><rect x="522.5" y="470.15" width="8.5" height="8.5" rx="1.2" fill="#3b73c0" transform="rotate(-19 526.75 474.4)"/><rect x="506.35" y="475.25" width="8.5" height="8.5" rx="1.2" fill="#3b73c0" transform="rotate(-19 510.6 479.5)"/><rect x="488.5" y="482.05" width="8.5" height="8.5" rx="1.2" fill="#3b73c0" transform="rotate(-19 492.75 486.3)"/><rect x="581.15" y="465.05" width="8.5" height="8.5" rx="1.2" fill="#3b73c0" transform="rotate(19 585.4 469.3)"/><rect x="598.15" y="470.15" width="8.5" height="8.5" rx="1.2" fill="#3b73c0" transform="rotate(19 602.4 474.4)"/><rect x="615.15" y="476.15" width="8.5" height="8.5" rx="1.2" fill="#3b73c0" transform="rotate(19 619.4 480.4)"/><rect x="632.15" y="482.05" width="8.5" height="8.5" rx="1.2" fill="#3b73c0" transform="rotate(19 636.4 486.3)"/><rect x="555.75" y="459.15" width="8.5" height="8.5" rx="1.2" fill="#3b73c0" transform="rotate(-22 560 463.4)"/><rect x="564.25" y="459.15" width="8.5" height="8.5" rx="1.2" fill="#3b73c0" transform="rotate(22 568.5 463.4)"/><rect x="542.05" y="494.75" width="8.5" height="8.5" rx="1.2" fill="#ff0000" transform="rotate(-8 546.3 499)"/><rect x="524.25" y="497.35" width="8.5" height="8.5" rx="1.2" fill="#ff0000" transform="rotate(-8 528.5 501.6)"/><rect x="506.35" y="499.05" width="8.5" height="8.5" rx="1.2" fill="#ff0000" transform="rotate(-10 510.6 503.3)"/><rect x="490.25" y="506.75" width="8.5" height="8.5" rx="1.2" fill="#ff0000" transform="rotate(-30 494.5 511)"/><rect x="584.55" y="494.75" width="8.5" height="8.5" rx="1.2" fill="#ff0000" transform="rotate(8 588.8 499)"/><rect x="602.45" y="496.55" width="8.5" height="8.5" rx="1.2" fill="#ff0000" transform="rotate(8 606.7 500.8)"/><rect x="620.25" y="498.25" width="8.5" height="8.5" rx="1.2" fill="#ff0000" transform="rotate(10 624.5 502.5)"/><rect x="636.45" y="505.05" width="8.5" height="8.5" rx="1.2" fill="#ff0000" transform="rotate(30 640.7 509.3)"/><rect x="558.75" y="489.25" width="8.5" height="8.5" rx="1.2" fill="#ff0000" transform="rotate(-15 563 493.5)"/><rect x="567.25" y="489.25" width="8.5" height="8.5" rx="1.2" fill="#ff0000" transform="rotate(15 571.5 493.5)"/><rect x="487.65" y="518.65" width="8.5" height="8.5" rx="1.2" fill="#3b73c0" transform="rotate(5 491.9 522.9)"/><rect x="506.35" y="518.65" width="8.5" height="8.5" rx="1.2" fill="#3b73c0" transform="rotate(5 510.6 522.9)"/><rect x="523.35" y="518.65" width="8.5" height="8.5" rx="1.2" fill="#3b73c0" transform="rotate(5 527.6 522.9)"/><rect x="541.25" y="518.65" width="8.5" height="8.5" rx="1.2" fill="#3b73c0" transform="rotate(5 545.5 522.9)"/><rect x="576.05" y="518.65" width="8.5" height="8.5" rx="1.2" fill="#3b73c0" transform="rotate(5 580.3 522.9)"/><rect x="593.05" y="518.65" width="8.5" height="8.5" rx="1.2" fill="#3b73c0" transform="rotate(5 597.3 522.9)"/><rect x="610.05" y="518.65" width="8.5" height="8.5" rx="1.2" fill="#3b73c0" transform="rotate(5 614.3 522.9)"/><rect x="627.95" y="518.65" width="8.5" height="8.5" rx="1.2" fill="#3b73c0" transform="rotate(5 632.2 522.9)"/><rect x="559.8" y="514.5" width="7" height="9" rx="1.2" fill="#3b73c0" transform="rotate(0 563.3 519)"/></g><g clip-path="url(#c8)"><path d="M773.5,62 V325.5" stroke="#a3a396" stroke-width="2.6"/><path d="M513.5,-217.5 L773.5,42.5 L1033.5,-217.5 M513.5,-197.9 L773.5,62.1 L1033.5,-197.9 M513.5,-178.3 L773.5,81.7 L1033.5,-178.3 M513.5,-158.7 L773.5,101.3 L1033.5,-158.7 M513.5,-139.1 L773.5,120.9 L1033.5,-139.1 M513.5,-119.5 L773.5,140.5 L1033.5,-119.5 M513.5,-99.9 L773.5,160.1 L1033.5,-99.9 M513.5,-80.3 L773.5,179.7 L1033.5,-80.3 M513.5,-60.7 L773.5,199.3 L1033.5,-60.7 M513.5,-41.1 L773.5,218.9 L1033.5,-41.1 M513.5,-21.5 L773.5,238.5 L1033.5,-21.5 M513.5,-1.9 L773.5,258.1 L1033.5,-1.9 M513.5,17.7 L773.5,277.7 L1033.5,17.7 M513.5,37.3 L773.5,297.3 L1033.5,37.3 M513.5,56.9 L773.5,316.9 L1033.5,56.9 M513.5,76.5 L773.5,336.5 L1033.5,76.5 M513.5,96.1 L773.5,356.1 L1033.5,96.1 M513.5,115.7 L773.5,375.7 L1033.5,115.7 M513.5,135.3 L773.5,395.3 L1033.5,135.3 M513.5,154.9 L773.5,414.9 L1033.5,154.9 M513.5,174.5 L773.5,434.5 L1033.5,174.5 M513.5,194.1 L773.5,454.1 L1033.5,194.1 M513.5,213.7 L773.5,473.7 L1033.5,213.7 M513.5,233.3 L773.5,493.3 L1033.5,233.3 M513.5,252.9 L773.5,512.9 L1033.5,252.9 M513.5,272.5 L773.5,532.5 L1033.5,272.5 M513.5,292.1 L773.5,552.1 L1033.5,292.1 M513.5,311.7 L773.5,571.7 L1033.5,311.7" fill="none" stroke="#a3a396" stroke-width="2.6" stroke-linejoin="miter"/></g><g clip-path="url(#c9)"><rect x="764.4" y="64" width="9" height="9" rx="1.2" fill="#ff0000" transform="rotate(-22 768.9 68.5)"/><rect x="773.6" y="64" width="9" height="9" rx="1.2" fill="#ff0000" transform="rotate(22 778.1 68.5)"/><rect x="749.25" y="71.05" width="8.5" height="8.5" rx="1.2" fill="#ff0000" transform="rotate(-30 753.5 75.3)"/><rect x="789.25" y="71.05" width="8.5" height="8.5" rx="1.2" fill="#ff0000" transform="rotate(30 793.5 75.3)"/><rect x="732.25" y="76.83" width="8.5" height="8.5" rx="1.2" fill="#ff0000" transform="rotate(-30 736.5 81.08)"/><rect x="806.25" y="76.83" width="8.5" height="8.5" rx="1.2" fill="#ff0000" transform="rotate(30 810.5 81.08)"/><rect x="715.75" y="82.44" width="8.5" height="8.5" rx="1.2" fill="#ff0000" transform="rotate(-30 720 86.69)"/><rect x="822.75" y="82.44" width="8.5" height="8.5" rx="1.2" fill="#ff0000" transform="rotate(30 827 86.69)"/><rect x="699.25" y="88.05" width="8.5" height="8.5" rx="1.2" fill="#ff0000" transform="rotate(-30 703.5 92.3)"/><rect x="839.25" y="88.05" width="8.5" height="8.5" rx="1.2" fill="#ff0000" transform="rotate(30 843.5 92.3)"/><rect x="680.25" y="94.51" width="8.5" height="8.5" rx="1.2" fill="#ff0000" transform="rotate(-30 684.5 98.76)"/><rect x="858.25" y="94.51" width="8.5" height="8.5" rx="1.2" fill="#ff0000" transform="rotate(30 862.5 98.76)"/><rect x="764.4" y="90.5" width="9" height="9" rx="1.2" fill="#3b73c0" transform="rotate(-22 768.9 95)"/><rect x="773.6" y="90.5" width="9" height="9" rx="1.2" fill="#3b73c0" transform="rotate(22 778.1 95)"/><rect x="749.25" y="97.55" width="8.5" height="8.5" rx="1.2" fill="#3b73c0" transform="rotate(-30 753.5 101.8)"/><rect x="789.25" y="97.55" width="8.5" height="8.5" rx="1.2" fill="#3b73c0" transform="rotate(30 793.5 101.8)"/><rect x="732.25" y="103.33" width="8.5" height="8.5" rx="1.2" fill="#3b73c0" transform="rotate(-30 736.5 107.58)"/><rect x="806.25" y="103.33" width="8.5" height="8.5" rx="1.2" fill="#3b73c0" transform="rotate(30 810.5 107.58)"/><rect x="715.75" y="108.94" width="8.5" height="8.5" rx="1.2" fill="#3b73c0" transform="rotate(-30 720 113.19)"/><rect x="822.75" y="108.94" width="8.5" height="8.5" rx="1.2" fill="#3b73c0" transform="rotate(30 827 113.19)"/><rect x="699.25" y="114.55" width="8.5" height="8.5" rx="1.2" fill="#3b73c0" transform="rotate(-30 703.5 118.8)"/><rect x="839.25" y="114.55" width="8.5" height="8.5" rx="1.2" fill="#3b73c0" transform="rotate(30 843.5 118.8)"/><rect x="680.25" y="121.01" width="8.5" height="8.5" rx="1.2" fill="#3b73c0" transform="rotate(-30 684.5 125.26)"/><rect x="858.25" y="121.01" width="8.5" height="8.5" rx="1.2" fill="#3b73c0" transform="rotate(30 862.5 125.26)"/><rect x="764.4" y="117.5" width="9" height="9" rx="1.2" fill="#ff0000" transform="rotate(-22 768.9 122)"/><rect x="773.6" y="117.5" width="9" height="9" rx="1.2" fill="#ff0000" transform="rotate(22 778.1 122)"/><rect x="749.25" y="124.55" width="8.5" height="8.5" rx="1.2" fill="#ff0000" transform="rotate(-30 753.5 128.8)"/><rect x="789.25" y="124.55" width="8.5" height="8.5" rx="1.2" fill="#ff0000" transform="rotate(30 793.5 128.8)"/><rect x="732.25" y="130.33" width="8.5" height="8.5" rx="1.2" fill="#ff0000" transform="rotate(-30 736.5 134.58)"/><rect x="806.25" y="130.33" width="8.5" height="8.5" rx="1.2" fill="#ff0000" transform="rotate(30 810.5 134.58)"/><rect x="715.75" y="135.94" width="8.5" height="8.5" rx="1.2" fill="#ff0000" transform="rotate(-30 720 140.19)"/><rect x="822.75" y="135.94" width="8.5" height="8.5" rx="1.2" fill="#ff0000" transform="rotate(30 827 140.19)"/><rect x="699.25" y="141.55" width="8.5" height="8.5" rx="1.2" fill="#ff0000" transform="rotate(-30 703.5 145.8)"/><rect x="839.25" y="141.55" width="8.5" height="8.5" rx="1.2" fill="#ff0000" transform="rotate(30 843.5 145.8)"/><rect x="680.25" y="148.01" width="8.5" height="8.5" rx="1.2" fill="#ff0000" transform="rotate(-30 684.5 152.26)"/><rect x="858.25" y="148.01" width="8.5" height="8.5" rx="1.2" fill="#ff0000" transform="rotate(30 862.5 152.26)"/><rect x="764.4" y="144.5" width="9" height="9" rx="1.2" fill="#3b73c0" transform="rotate(-22 768.9 149)"/><rect x="773.6" y="144.5" width="9" height="9" rx="1.2" fill="#3b73c0" transform="rotate(22 778.1 149)"/><rect x="749.25" y="151.55" width="8.5" height="8.5" rx="1.2" fill="#3b73c0" transform="rotate(-30 753.5 155.8)"/><rect x="789.25" y="151.55" width="8.5" height="8.5" rx="1.2" fill="#3b73c0" transform="rotate(30 793.5 155.8)"/><rect x="732.25" y="157.33" width="8.5" height="8.5" rx="1.2" fill="#3b73c0" transform="rotate(-30 736.5 161.58)"/><rect x="806.25" y="157.33" width="8.5" height="8.5" rx="1.2" fill="#3b73c0" transform="rotate(30 810.5 161.58)"/><rect x="715.75" y="162.94" width="8.5" height="8.5" rx="1.2" fill="#3b73c0" transform="rotate(-30 720 167.19)"/><rect x="822.75" y="162.94" width="8.5" height="8.5" rx="1.2" fill="#3b73c0" transform="rotate(30 827 167.19)"/><rect x="699.25" y="168.55" width="8.5" height="8.5" rx="1.2" fill="#3b73c0" transform="rotate(-30 703.5 172.8)"/><rect x="839.25" y="168.55" width="8.5" height="8.5" rx="1.2" fill="#3b73c0" transform="rotate(30 843.5 172.8)"/><rect x="680.25" y="175.01" width="8.5" height="8.5" rx="1.2" fill="#3b73c0" transform="rotate(-30 684.5 179.26)"/><rect x="858.25" y="175.01" width="8.5" height="8.5" rx="1.2" fill="#3b73c0" transform="rotate(30 862.5 179.26)"/><rect x="764.4" y="174.1" width="9" height="9" rx="1.2" fill="#ff0000" transform="rotate(-22 768.9 178.6)"/><rect x="773.6" y="174.1" width="9" height="9" rx="1.2" fill="#ff0000" transform="rotate(22 778.1 178.6)"/><rect x="749.25" y="181.15" width="8.5" height="8.5" rx="1.2" fill="#ff0000" transform="rotate(-30 753.5 185.4)"/><rect x="789.25" y="181.15" width="8.5" height="8.5" rx="1.2" fill="#ff0000" transform="rotate(30 793.5 185.4)"/><rect x="732.25" y="186.93" width="8.5" height="8.5" rx="1.2" fill="#ff0000" transform="rotate(-30 736.5 191.18)"/><rect x="806.25" y="186.93" width="8.5" height="8.5" rx="1.2" fill="#ff0000" transform="rotate(30 810.5 191.18)"/><rect x="715.75" y="192.54" width="8.5" height="8.5" rx="1.2" fill="#ff0000" transform="rotate(-30 720 196.79)"/><rect x="822.75" y="192.54" width="8.5" height="8.5" rx="1.2" fill="#ff0000" transform="rotate(30 827 196.79)"/><rect x="699.25" y="198.15" width="8.5" height="8.5" rx="1.2" fill="#ff0000" transform="rotate(-30 703.5 202.4)"/><rect x="839.25" y="198.15" width="8.5" height="8.5" rx="1.2" fill="#ff0000" transform="rotate(30 843.5 202.4)"/><rect x="680.25" y="204.61" width="8.5" height="8.5" rx="1.2" fill="#ff0000" transform="rotate(-30 684.5 208.86)"/><rect x="858.25" y="204.61" width="8.5" height="8.5" rx="1.2" fill="#ff0000" transform="rotate(30 862.5 208.86)"/><rect x="764.4" y="203.5" width="9" height="9" rx="1.2" fill="#3b73c0" transform="rotate(-22 768.9 208)"/><rect x="773.6" y="203.5" width="9" height="9" rx="1.2" fill="#3b73c0" transform="rotate(22 778.1 208)"/><rect x="749.25" y="210.55" width="8.5" height="8.5" rx="1.2" fill="#3b73c0" transform="rotate(-30 753.5 214.8)"/><rect x="789.25" y="210.55" width="8.5" height="8.5" rx="1.2" fill="#3b73c0" transform="rotate(30 793.5 214.8)"/><rect x="732.25" y="216.33" width="8.5" height="8.5" rx="1.2" fill="#3b73c0" transform="rotate(-30 736.5 220.58)"/><rect x="806.25" y="216.33" width="8.5" height="8.5" rx="1.2" fill="#3b73c0" transform="rotate(30 810.5 220.58)"/><rect x="715.75" y="221.94" width="8.5" height="8.5" rx="1.2" fill="#3b73c0" transform="rotate(-30 720 226.19)"/><rect x="822.75" y="221.94" width="8.5" height="8.5" rx="1.2" fill="#3b73c0" transform="rotate(30 827 226.19)"/><rect x="699.25" y="227.55" width="8.5" height="8.5" rx="1.2" fill="#3b73c0" transform="rotate(-30 703.5 231.8)"/><rect x="839.25" y="227.55" width="8.5" height="8.5" rx="1.2" fill="#3b73c0" transform="rotate(30 843.5 231.8)"/><rect x="680.25" y="234.01" width="8.5" height="8.5" rx="1.2" fill="#3b73c0" transform="rotate(-30 684.5 238.26)"/><rect x="858.25" y="234.01" width="8.5" height="8.5" rx="1.2" fill="#3b73c0" transform="rotate(30 862.5 238.26)"/><rect x="764.4" y="233.1" width="9" height="9" rx="1.2" fill="#ff0000" transform="rotate(-22 768.9 237.6)"/><rect x="773.6" y="233.1" width="9" height="9" rx="1.2" fill="#ff0000" transform="rotate(22 778.1 237.6)"/><rect x="749.25" y="240.15" width="8.5" height="8.5" rx="1.2" fill="#ff0000" transform="rotate(-30 753.5 244.4)"/><rect x="789.25" y="240.15" width="8.5" height="8.5" rx="1.2" fill="#ff0000" transform="rotate(30 793.5 244.4)"/><rect x="732.25" y="245.93" width="8.5" height="8.5" rx="1.2" fill="#ff0000" transform="rotate(-30 736.5 250.18)"/><rect x="806.25" y="245.93" width="8.5" height="8.5" rx="1.2" fill="#ff0000" transform="rotate(30 810.5 250.18)"/><rect x="715.75" y="251.54" width="8.5" height="8.5" rx="1.2" fill="#ff0000" transform="rotate(-30 720 255.79)"/><rect x="822.75" y="251.54" width="8.5" height="8.5" rx="1.2" fill="#ff0000" transform="rotate(30 827 255.79)"/><rect x="699.25" y="257.15" width="8.5" height="8.5" rx="1.2" fill="#ff0000" transform="rotate(-30 703.5 261.4)"/><rect x="839.25" y="257.15" width="8.5" height="8.5" rx="1.2" fill="#ff0000" transform="rotate(30 843.5 261.4)"/><rect x="680.25" y="263.61" width="8.5" height="8.5" rx="1.2" fill="#ff0000" transform="rotate(-30 684.5 267.86)"/><rect x="858.25" y="263.61" width="8.5" height="8.5" rx="1.2" fill="#ff0000" transform="rotate(30 862.5 267.86)"/><rect x="764.4" y="258.9" width="9" height="9" rx="1.2" fill="#3b73c0" transform="rotate(-22 768.9 263.4)"/><rect x="773.6" y="258.9" width="9" height="9" rx="1.2" fill="#3b73c0" transform="rotate(22 778.1 263.4)"/><rect x="749.25" y="265.95" width="8.5" height="8.5" rx="1.2" fill="#3b73c0" transform="rotate(-30 753.5 270.2)"/><rect x="789.25" y="265.95" width="8.5" height="8.5" rx="1.2" fill="#3b73c0" transform="rotate(30 793.5 270.2)"/><rect x="732.25" y="271.73" width="8.5" height="8.5" rx="1.2" fill="#3b73c0" transform="rotate(-30 736.5 275.98)"/><rect x="806.25" y="271.73" width="8.5" height="8.5" rx="1.2" fill="#3b73c0" transform="rotate(30 810.5 275.98)"/><rect x="715.75" y="277.34" width="8.5" height="8.5" rx="1.2" fill="#3b73c0" transform="rotate(-30 720 281.59)"/><rect x="822.75" y="277.34" width="8.5" height="8.5" rx="1.2" fill="#3b73c0" transform="rotate(30 827 281.59)"/><rect x="699.25" y="282.95" width="8.5" height="8.5" rx="1.2" fill="#3b73c0" transform="rotate(-30 703.5 287.2)"/><rect x="839.25" y="282.95" width="8.5" height="8.5" rx="1.2" fill="#3b73c0" transform="rotate(30 843.5 287.2)"/><rect x="680.25" y="289.41" width="8.5" height="8.5" rx="1.2" fill="#3b73c0" transform="rotate(-30 684.5 293.66)"/><rect x="858.25" y="289.41" width="8.5" height="8.5" rx="1.2" fill="#3b73c0" transform="rotate(30 862.5 293.66)"/><rect x="764.4" y="288.5" width="9" height="9" rx="1.2" fill="#ff0000" transform="rotate(-22 768.9 293)"/><rect x="773.6" y="288.5" width="9" height="9" rx="1.2" fill="#ff0000" transform="rotate(22 778.1 293)"/><rect x="749.25" y="295.55" width="8.5" height="8.5" rx="1.2" fill="#ff0000" transform="rotate(-30 753.5 299.8)"/><rect x="789.25" y="295.55" width="8.5" height="8.5" rx="1.2" fill="#ff0000" transform="rotate(30 793.5 299.8)"/><rect x="732.25" y="301.33" width="8.5" height="8.5" rx="1.2" fill="#ff0000" transform="rotate(-30 736.5 305.58)"/><rect x="806.25" y="301.33" width="8.5" height="8.5" rx="1.2" fill="#ff0000" transform="rotate(30 810.5 305.58)"/><rect x="715.75" y="306.94" width="8.5" height="8.5" rx="1.2" fill="#ff0000" transform="rotate(-30 720 311.19)"/><rect x="822.75" y="306.94" width="8.5" height="8.5" rx="1.2" fill="#ff0000" transform="rotate(30 827 311.19)"/><rect x="699.25" y="312.55" width="8.5" height="8.5" rx="1.2" fill="#ff0000" transform="rotate(-30 703.5 316.8)"/><rect x="839.25" y="312.55" width="8.5" height="8.5" rx="1.2" fill="#ff0000" transform="rotate(30 843.5 316.8)"/><rect x="680.25" y="319.01" width="8.5" height="8.5" rx="1.2" fill="#ff0000" transform="rotate(-30 684.5 323.26)"/><rect x="858.25" y="319.01" width="8.5" height="8.5" rx="1.2" fill="#ff0000" transform="rotate(30 862.5 323.26)"/></g><rect x="772.3" y="323.2" width="2.4" height="2.6" fill="#222"/><rect x="772.3" y="329.7" width="2.4" height="2.6" fill="#222"/><rect x="772.3" y="336.2" width="2.4" height="2.6" fill="#222"/><rect x="772.3" y="342.7" width="2.4" height="2.6" fill="#222"/><rect x="772.3" y="349.2" width="2.4" height="2.6" fill="#222"/><rect x="772.3" y="355.7" width="2.4" height="2.6" fill="#222"/><rect x="772.3" y="362.2" width="2.4" height="2.6" fill="#222"/><g clip-path="url(#c10)"><path d="M774,367 V538" stroke="#a3a396" stroke-width="2.6"/><path d="M514,81 L774,341 L1034,81 M514,100.5 L774,360.5 L1034,100.5 M514,120 L774,380 L1034,120 M514,139.5 L774,399.5 L1034,139.5 M514,159 L774,419 L1034,159 M514,178.5 L774,438.5 L1034,178.5 M514,198 L774,458 L1034,198 M514,217.5 L774,477.5 L1034,217.5 M514,237 L774,497 L1034,237 M514,256.5 L774,516.5 L1034,256.5 M514,276 L774,536 L1034,276 M514,295.5 L774,555.5 L1034,295.5 M514,315 L774,575 L1034,315 M514,334.5 L774,594.5 L1034,334.5 M514,354 L774,614 L1034,354 M514,373.5 L774,633.5 L1034,373.5 M514,393 L774,653 L1034,393 M514,412.5 L774,672.5 L1034,412.5 M514,432 L774,692 L1034,432 M514,451.5 L774,711.5 L1034,451.5 M514,471 L774,731 L1034,471 M514,490.5 L774,750.5 L1034,490.5 M514,510 L774,770 L1034,510 M514,529.5 L774,789.5 L1034,529.5" fill="none" stroke="#a3a396" stroke-width="2.6" stroke-linejoin="miter"/></g><g clip-path="url(#c11)"><rect x="764.9" y="364.8" width="9" height="9" rx="1.2" fill="#3b73c0" transform="rotate(-22 769.4 369.3)"/><rect x="774.1" y="364.8" width="9" height="9" rx="1.2" fill="#3b73c0" transform="rotate(22 778.6 369.3)"/><rect x="750.15" y="371.52" width="8.5" height="8.5" rx="1.2" fill="#3b73c0" transform="rotate(-30 754.4 375.77)"/><rect x="789.35" y="371.52" width="8.5" height="8.5" rx="1.2" fill="#3b73c0" transform="rotate(30 793.6 375.77)"/><rect x="733.55" y="377" width="8.5" height="8.5" rx="1.2" fill="#3b73c0" transform="rotate(-30 737.8 381.25)"/><rect x="805.95" y="377" width="8.5" height="8.5" rx="1.2" fill="#3b73c0" transform="rotate(30 810.2 381.25)"/><rect x="716.95" y="382.47" width="8.5" height="8.5" rx="1.2" fill="#3b73c0" transform="rotate(-30 721.2 386.72)"/><rect x="822.55" y="382.47" width="8.5" height="8.5" rx="1.2" fill="#3b73c0" transform="rotate(30 826.8 386.72)"/><rect x="699.65" y="388.18" width="8.5" height="8.5" rx="1.2" fill="#3b73c0" transform="rotate(-30 703.9 392.43)"/><rect x="839.85" y="388.18" width="8.5" height="8.5" rx="1.2" fill="#3b73c0" transform="rotate(30 844.1 392.43)"/><rect x="680.75" y="394.42" width="8.5" height="8.5" rx="1.2" fill="#3b73c0" transform="rotate(-30 685 398.67)"/><rect x="858.75" y="394.42" width="8.5" height="8.5" rx="1.2" fill="#3b73c0" transform="rotate(30 863 398.67)"/><rect x="764.9" y="381.4" width="9" height="9" rx="1.2" fill="#ff0000" transform="rotate(-22 769.4 385.9)"/><rect x="774.1" y="381.4" width="9" height="9" rx="1.2" fill="#ff0000" transform="rotate(22 778.6 385.9)"/><rect x="750.15" y="388.41" width="8.5" height="8.5" rx="1.2" fill="#ff0000" transform="rotate(-30 754.4 392.66)"/><rect x="789.35" y="388.41" width="8.5" height="8.5" rx="1.2" fill="#ff0000" transform="rotate(30 793.6 392.66)"/><rect x="732.75" y="394.41" width="8.5" height="8.5" rx="1.2" fill="#ff0000" transform="rotate(-30 737 398.66)"/><rect x="806.75" y="394.41" width="8.5" height="8.5" rx="1.2" fill="#ff0000" transform="rotate(30 811 398.66)"/><rect x="716.25" y="400.11" width="8.5" height="8.5" rx="1.2" fill="#ff0000" transform="rotate(-30 720.5 404.36)"/><rect x="823.25" y="400.11" width="8.5" height="8.5" rx="1.2" fill="#ff0000" transform="rotate(30 827.5 404.36)"/><rect x="699.65" y="405.83" width="8.5" height="8.5" rx="1.2" fill="#ff0000" transform="rotate(-30 703.9 410.08)"/><rect x="839.85" y="405.83" width="8.5" height="8.5" rx="1.2" fill="#ff0000" transform="rotate(30 844.1 410.08)"/><rect x="680.75" y="412.35" width="8.5" height="8.5" rx="1.2" fill="#ff0000" transform="rotate(-30 685 416.6)"/><rect x="858.75" y="412.35" width="8.5" height="8.5" rx="1.2" fill="#ff0000" transform="rotate(30 863 416.6)"/><rect x="764.9" y="399.5" width="9" height="9" rx="1.2" fill="#3b73c0" transform="rotate(-22 769.4 404)"/><rect x="774.1" y="399.5" width="9" height="9" rx="1.2" fill="#3b73c0" transform="rotate(22 778.6 404)"/><rect x="749.35" y="406.69" width="8.5" height="8.5" rx="1.2" fill="#3b73c0" transform="rotate(-30 753.6 410.94)"/><rect x="790.15" y="406.69" width="8.5" height="8.5" rx="1.2" fill="#3b73c0" transform="rotate(30 794.4 410.94)"/><rect x="732.75" y="412.33" width="8.5" height="8.5" rx="1.2" fill="#3b73c0" transform="rotate(-30 737 416.58)"/><rect x="806.75" y="412.33" width="8.5" height="8.5" rx="1.2" fill="#3b73c0" transform="rotate(30 811 416.58)"/><rect x="716.25" y="417.94" width="8.5" height="8.5" rx="1.2" fill="#3b73c0" transform="rotate(-30 720.5 422.19)"/><rect x="823.25" y="417.94" width="8.5" height="8.5" rx="1.2" fill="#3b73c0" transform="rotate(30 827.5 422.19)"/><rect x="699.65" y="423.58" width="8.5" height="8.5" rx="1.2" fill="#3b73c0" transform="rotate(-30 703.9 427.83)"/><rect x="839.85" y="423.58" width="8.5" height="8.5" rx="1.2" fill="#3b73c0" transform="rotate(30 844.1 427.83)"/><rect x="680.75" y="430.01" width="8.5" height="8.5" rx="1.2" fill="#3b73c0" transform="rotate(-30 685 434.26)"/><rect x="858.75" y="430.01" width="8.5" height="8.5" rx="1.2" fill="#3b73c0" transform="rotate(30 863 434.26)"/><rect x="764.9" y="416.8" width="9" height="9" rx="1.2" fill="#ff0000" transform="rotate(-22 769.4 421.3)"/><rect x="774.1" y="416.8" width="9" height="9" rx="1.2" fill="#ff0000" transform="rotate(22 778.6 421.3)"/><rect x="745.55" y="424.31" width="8.5" height="8.5" rx="1.2" fill="#ff0000" transform="rotate(-30 749.8 428.56)"/><rect x="793.95" y="424.31" width="8.5" height="8.5" rx="1.2" fill="#ff0000" transform="rotate(30 798.2 428.56)"/><rect x="728.25" y="429.5" width="8.5" height="8.5" rx="1.2" fill="#ff0000" transform="rotate(-30 732.5 433.75)"/><rect x="811.25" y="429.5" width="8.5" height="8.5" rx="1.2" fill="#ff0000" transform="rotate(30 815.5 433.75)"/><rect x="711.75" y="434.45" width="8.5" height="8.5" rx="1.2" fill="#ff0000" transform="rotate(-30 716 438.7)"/><rect x="827.75" y="434.45" width="8.5" height="8.5" rx="1.2" fill="#ff0000" transform="rotate(30 832 438.7)"/><rect x="694.35" y="439.67" width="8.5" height="8.5" rx="1.2" fill="#ff0000" transform="rotate(-30 698.6 443.92)"/><rect x="845.15" y="439.67" width="8.5" height="8.5" rx="1.2" fill="#ff0000" transform="rotate(30 849.4 443.92)"/><rect x="677.75" y="444.65" width="8.5" height="8.5" rx="1.2" fill="#ff0000" transform="rotate(-30 682 448.9)"/><rect x="861.75" y="444.65" width="8.5" height="8.5" rx="1.2" fill="#ff0000" transform="rotate(30 866 448.9)"/><rect x="764.9" y="431.9" width="9" height="9" rx="1.2" fill="#3b73c0" transform="rotate(-22 769.4 436.4)"/><rect x="774.1" y="431.9" width="9" height="9" rx="1.2" fill="#3b73c0" transform="rotate(22 778.6 436.4)"/><rect x="750.15" y="439.11" width="8.5" height="8.5" rx="1.2" fill="#3b73c0" transform="rotate(-30 754.4 443.36)"/><rect x="789.35" y="439.11" width="8.5" height="8.5" rx="1.2" fill="#3b73c0" transform="rotate(30 793.6 443.36)"/><rect x="733.55" y="445" width="8.5" height="8.5" rx="1.2" fill="#3b73c0" transform="rotate(-30 737.8 449.25)"/><rect x="805.95" y="445" width="8.5" height="8.5" rx="1.2" fill="#3b73c0" transform="rotate(30 810.2 449.25)"/><rect x="716.25" y="451.14" width="8.5" height="8.5" rx="1.2" fill="#3b73c0" transform="rotate(-30 720.5 455.39)"/><rect x="823.25" y="451.14" width="8.5" height="8.5" rx="1.2" fill="#3b73c0" transform="rotate(30 827.5 455.39)"/><rect x="699.65" y="457.04" width="8.5" height="8.5" rx="1.2" fill="#3b73c0" transform="rotate(-30 703.9 461.29)"/><rect x="839.85" y="457.04" width="8.5" height="8.5" rx="1.2" fill="#3b73c0" transform="rotate(30 844.1 461.29)"/><rect x="680.75" y="463.75" width="8.5" height="8.5" rx="1.2" fill="#3b73c0" transform="rotate(-30 685 468)"/><rect x="858.75" y="463.75" width="8.5" height="8.5" rx="1.2" fill="#3b73c0" transform="rotate(30 863 468)"/><rect x="764.9" y="446.2" width="9" height="9" rx="1.2" fill="#ff0000" transform="rotate(-22 769.4 450.7)"/><rect x="774.1" y="446.2" width="9" height="9" rx="1.2" fill="#ff0000" transform="rotate(22 778.6 450.7)"/><rect x="749.35" y="453.39" width="8.5" height="8.5" rx="1.2" fill="#ff0000" transform="rotate(-30 753.6 457.64)"/><rect x="790.15" y="453.39" width="8.5" height="8.5" rx="1.2" fill="#ff0000" transform="rotate(30 794.4 457.64)"/><rect x="732.75" y="459.03" width="8.5" height="8.5" rx="1.2" fill="#ff0000" transform="rotate(-30 737 463.28)"/><rect x="806.75" y="459.03" width="8.5" height="8.5" rx="1.2" fill="#ff0000" transform="rotate(30 811 463.28)"/><rect x="716.25" y="464.64" width="8.5" height="8.5" rx="1.2" fill="#ff0000" transform="rotate(-30 720.5 468.89)"/><rect x="823.25" y="464.64" width="8.5" height="8.5" rx="1.2" fill="#ff0000" transform="rotate(30 827.5 468.89)"/><rect x="699.65" y="470.28" width="8.5" height="8.5" rx="1.2" fill="#ff0000" transform="rotate(-30 703.9 474.53)"/><rect x="839.85" y="470.28" width="8.5" height="8.5" rx="1.2" fill="#ff0000" transform="rotate(30 844.1 474.53)"/><rect x="680.75" y="476.71" width="8.5" height="8.5" rx="1.2" fill="#ff0000" transform="rotate(-30 685 480.96)"/><rect x="858.75" y="476.71" width="8.5" height="8.5" rx="1.2" fill="#ff0000" transform="rotate(30 863 480.96)"/><rect x="764.9" y="466.5" width="9" height="9" rx="1.2" fill="#3b73c0" transform="rotate(-22 769.4 471)"/><rect x="774.1" y="466.5" width="9" height="9" rx="1.2" fill="#3b73c0" transform="rotate(22 778.6 471)"/><rect x="748.65" y="473.92" width="8.5" height="8.5" rx="1.2" fill="#3b73c0" transform="rotate(-30 752.9 478.17)"/><rect x="790.85" y="473.92" width="8.5" height="8.5" rx="1.2" fill="#3b73c0" transform="rotate(30 795.1 478.17)"/><rect x="731.25" y="479.84" width="8.5" height="8.5" rx="1.2" fill="#3b73c0" transform="rotate(-30 735.5 484.09)"/><rect x="808.25" y="479.84" width="8.5" height="8.5" rx="1.2" fill="#3b73c0" transform="rotate(30 812.5 484.09)"/><rect x="714.75" y="485.45" width="8.5" height="8.5" rx="1.2" fill="#3b73c0" transform="rotate(-30 719 489.7)"/><rect x="824.75" y="485.45" width="8.5" height="8.5" rx="1.2" fill="#3b73c0" transform="rotate(30 829 489.7)"/><rect x="698.15" y="491.09" width="8.5" height="8.5" rx="1.2" fill="#3b73c0" transform="rotate(-30 702.4 495.34)"/><rect x="841.35" y="491.09" width="8.5" height="8.5" rx="1.2" fill="#3b73c0" transform="rotate(30 845.6 495.34)"/><rect x="680.75" y="497.01" width="8.5" height="8.5" rx="1.2" fill="#3b73c0" transform="rotate(-30 685 501.26)"/><rect x="858.75" y="497.01" width="8.5" height="8.5" rx="1.2" fill="#3b73c0" transform="rotate(30 863 501.26)"/><rect x="753.75" y="496.75" width="8.5" height="8.5" rx="1.2" fill="#ff0000" transform="rotate(-10 758 501)"/><rect x="736.25" y="500.55" width="8.5" height="8.5" rx="1.2" fill="#ff0000" transform="rotate(-8 740.5 504.8)"/><rect x="718.65" y="501.55" width="8.5" height="8.5" rx="1.2" fill="#ff0000" transform="rotate(-5 722.9 505.8)"/><rect x="701.25" y="504.75" width="8.5" height="8.5" rx="1.2" fill="#ff0000" transform="rotate(-10 705.5 509)"/><rect x="685.95" y="513.35" width="8.5" height="8.5" rx="1.2" fill="#ff0000" transform="rotate(-30 690.2 517.6)"/><rect x="785.75" y="496.75" width="8.5" height="8.5" rx="1.2" fill="#ff0000" transform="rotate(10 790 501)"/><rect x="803.75" y="500.35" width="8.5" height="8.5" rx="1.2" fill="#ff0000" transform="rotate(8 808 504.6)"/><rect x="821.75" y="502.75" width="8.5" height="8.5" rx="1.2" fill="#ff0000" transform="rotate(5 826 507)"/><rect x="838.75" y="505.05" width="8.5" height="8.5" rx="1.2" fill="#ff0000" transform="rotate(10 843 509.3)"/><rect x="853.75" y="512.25" width="8.5" height="8.5" rx="1.2" fill="#ff0000" transform="rotate(30 858 516.5)"/><rect x="766.75" y="486.05" width="8.5" height="8.5" rx="1.2" fill="#ff0000" transform="rotate(45 771 490.3)"/><rect x="755.35" y="523.35" width="8.5" height="8.5" rx="1.2" fill="#3b73c0" transform="rotate(5 759.6 527.6)"/><rect x="737.35" y="523.35" width="8.5" height="8.5" rx="1.2" fill="#3b73c0" transform="rotate(5 741.6 527.6)"/><rect x="719.25" y="523.35" width="8.5" height="8.5" rx="1.2" fill="#3b73c0" transform="rotate(5 723.5 527.6)"/><rect x="701.15" y="523.55" width="8.5" height="8.5" rx="1.2" fill="#3b73c0" transform="rotate(5 705.4 527.8)"/><rect x="683.75" y="525.25" width="8.5" height="8.5" rx="1.2" fill="#3b73c0" transform="rotate(5 688 529.5)"/><rect x="787.05" y="523.55" width="8.5" height="8.5" rx="1.2" fill="#3b73c0" transform="rotate(5 791.3 527.8)"/><rect x="804.95" y="523.55" width="8.5" height="8.5" rx="1.2" fill="#3b73c0" transform="rotate(5 809.2 527.8)"/><rect x="822.75" y="523.55" width="8.5" height="8.5" rx="1.2" fill="#3b73c0" transform="rotate(5 827 527.8)"/><rect x="840.55" y="523.75" width="8.5" height="8.5" rx="1.2" fill="#3b73c0" transform="rotate(5 844.8 528)"/><rect x="856.05" y="524.75" width="8.5" height="8.5" rx="1.2" fill="#3b73c0" transform="rotate(5 860.3 529)"/><rect x="771" y="519" width="7" height="9" rx="1.2" fill="#3b73c0" transform="rotate(0 774.5 523.5)"/></g><rect x="682" y="534.6" width="184" height="2.8" fill="#a3a396"/><rect x="79.9" y="542.55" width="8.2" height="7.9" fill="#2f6fbe"/><rect x="97.68" y="542.55" width="8.2" height="7.9" fill="#2f6fbe"/><rect x="115.45" y="542.55" width="8.2" height="7.9" fill="#2f6fbe"/><rect x="133.22" y="542.55" width="8.2" height="7.9" fill="#2f6fbe"/><rect x="151" y="542.55" width="8.2" height="7.9" fill="#2f6fbe"/><rect x="79.9" y="555.85" width="8.2" height="7.9" fill="#ff0000"/><rect x="97.68" y="555.85" width="8.2" height="7.9" fill="#ff0000"/><rect x="115.45" y="555.85" width="8.2" height="7.9" fill="#ff0000"/><rect x="133.22" y="555.85" width="8.2" height="7.9" fill="#ff0000"/><rect x="151" y="555.85" width="8.2" height="7.9" fill="#ff0000"/><rect x="79.9" y="567.05" width="8.2" height="7.9" fill="#2f6fbe"/><rect x="97.68" y="567.05" width="8.2" height="7.9" fill="#2f6fbe"/><rect x="115.45" y="567.05" width="8.2" height="7.9" fill="#2f6fbe"/><rect x="133.22" y="567.05" width="8.2" height="7.9" fill="#2f6fbe"/><rect x="151" y="567.05" width="8.2" height="7.9" fill="#2f6fbe"/><rect x="79.9" y="578.35" width="8.2" height="7.9" fill="#ff0000"/><rect x="97.68" y="578.35" width="8.2" height="7.9" fill="#ff0000"/><rect x="115.45" y="578.35" width="8.2" height="7.9" fill="#ff0000"/><rect x="133.22" y="578.35" width="8.2" height="7.9" fill="#ff0000"/><rect x="151" y="578.35" width="8.2" height="7.9" fill="#ff0000"/><rect x="186.7" y="542.95" width="8.2" height="7.9" fill="#ff0000"/><rect x="204.48" y="542.95" width="8.2" height="7.9" fill="#ff0000"/><rect x="222.27" y="542.95" width="8.2" height="7.9" fill="#ff0000"/><rect x="240.05" y="542.95" width="8.2" height="7.9" fill="#ff0000"/><rect x="257.83" y="542.95" width="8.2" height="7.9" fill="#ff0000"/><rect x="275.62" y="542.95" width="8.2" height="7.9" fill="#ff0000"/><rect x="293.4" y="542.95" width="8.2" height="7.9" fill="#ff0000"/><rect x="186.7" y="555.65" width="8.2" height="7.9" fill="#2f6fbe"/><rect x="204.48" y="555.65" width="8.2" height="7.9" fill="#2f6fbe"/><rect x="222.27" y="555.65" width="8.2" height="7.9" fill="#2f6fbe"/><rect x="240.05" y="555.65" width="8.2" height="7.9" fill="#2f6fbe"/><rect x="257.83" y="555.65" width="8.2" height="7.9" fill="#2f6fbe"/><rect x="275.62" y="555.65" width="8.2" height="7.9" fill="#2f6fbe"/><rect x="293.4" y="555.65" width="8.2" height="7.9" fill="#2f6fbe"/><rect x="186.7" y="567.55" width="8.2" height="7.9" fill="#ff0000"/><rect x="204.48" y="567.55" width="8.2" height="7.9" fill="#ff0000"/><rect x="222.27" y="567.55" width="8.2" height="7.9" fill="#ff0000"/><rect x="240.05" y="567.55" width="8.2" height="7.9" fill="#ff0000"/><rect x="257.83" y="567.55" width="8.2" height="7.9" fill="#ff0000"/><rect x="275.62" y="567.55" width="8.2" height="7.9" fill="#ff0000"/><rect x="293.4" y="567.55" width="8.2" height="7.9" fill="#ff0000"/><rect x="186.7" y="580.25" width="8.2" height="7.9" fill="#2f6fbe"/><rect x="204.48" y="580.25" width="8.2" height="7.9" fill="#2f6fbe"/><rect x="222.27" y="580.25" width="8.2" height="7.9" fill="#2f6fbe"/><rect x="240.05" y="580.25" width="8.2" height="7.9" fill="#2f6fbe"/><rect x="257.83" y="580.25" width="8.2" height="7.9" fill="#2f6fbe"/><rect x="275.62" y="580.25" width="8.2" height="7.9" fill="#2f6fbe"/><rect x="293.4" y="580.25" width="8.2" height="7.9" fill="#2f6fbe"/><rect x="331.3" y="544.85" width="8.2" height="7.9" fill="#2f6fbe"/><rect x="349.14" y="544.85" width="8.2" height="7.9" fill="#2f6fbe"/><rect x="366.99" y="544.85" width="8.2" height="7.9" fill="#2f6fbe"/><rect x="384.83" y="544.85" width="8.2" height="7.9" fill="#2f6fbe"/><rect x="402.67" y="544.85" width="8.2" height="7.9" fill="#2f6fbe"/><rect x="420.51" y="544.85" width="8.2" height="7.9" fill="#2f6fbe"/><rect x="438.36" y="544.85" width="8.2" height="7.9" fill="#2f6fbe"/><rect x="456.2" y="544.85" width="8.2" height="7.9" fill="#2f6fbe"/><rect x="331.3" y="558.05" width="8.2" height="7.9" fill="#ff0000"/><rect x="349.14" y="558.05" width="8.2" height="7.9" fill="#ff0000"/><rect x="366.99" y="558.05" width="8.2" height="7.9" fill="#ff0000"/><rect x="384.83" y="558.05" width="8.2" height="7.9" fill="#ff0000"/><rect x="402.67" y="558.05" width="8.2" height="7.9" fill="#ff0000"/><rect x="420.51" y="558.05" width="8.2" height="7.9" fill="#ff0000"/><rect x="438.36" y="558.05" width="8.2" height="7.9" fill="#ff0000"/><rect x="456.2" y="558.05" width="8.2" height="7.9" fill="#ff0000"/><rect x="331.3" y="569.35" width="8.2" height="7.9" fill="#2f6fbe"/><rect x="349.14" y="569.35" width="8.2" height="7.9" fill="#2f6fbe"/><rect x="366.99" y="569.35" width="8.2" height="7.9" fill="#2f6fbe"/><rect x="384.83" y="569.35" width="8.2" height="7.9" fill="#2f6fbe"/><rect x="402.67" y="569.35" width="8.2" height="7.9" fill="#2f6fbe"/><rect x="420.51" y="569.35" width="8.2" height="7.9" fill="#2f6fbe"/><rect x="438.36" y="569.35" width="8.2" height="7.9" fill="#2f6fbe"/><rect x="456.2" y="569.35" width="8.2" height="7.9" fill="#2f6fbe"/><rect x="331.3" y="580.55" width="8.2" height="7.9" fill="#ff0000"/><rect x="349.14" y="580.55" width="8.2" height="7.9" fill="#ff0000"/><rect x="366.99" y="580.55" width="8.2" height="7.9" fill="#ff0000"/><rect x="384.83" y="580.55" width="8.2" height="7.9" fill="#ff0000"/><rect x="402.67" y="580.55" width="8.2" height="7.9" fill="#ff0000"/><rect x="420.51" y="580.55" width="8.2" height="7.9" fill="#ff0000"/><rect x="438.36" y="580.55" width="8.2" height="7.9" fill="#ff0000"/><rect x="456.2" y="580.55" width="8.2" height="7.9" fill="#ff0000"/><rect x="492.2" y="545.75" width="8.2" height="7.9" fill="#ff0000"/><rect x="509.96" y="545.75" width="8.2" height="7.9" fill="#ff0000"/><rect x="527.73" y="545.75" width="8.2" height="7.9" fill="#ff0000"/><rect x="545.49" y="545.75" width="8.2" height="7.9" fill="#ff0000"/><rect x="563.25" y="545.75" width="8.2" height="7.9" fill="#ff0000"/><rect x="581.01" y="545.75" width="8.2" height="7.9" fill="#ff0000"/><rect x="598.77" y="545.75" width="8.2" height="7.9" fill="#ff0000"/><rect x="616.54" y="545.75" width="8.2" height="7.9" fill="#ff0000"/><rect x="634.3" y="545.75" width="8.2" height="7.9" fill="#ff0000"/><rect x="492.2" y="556.05" width="8.2" height="7.9" fill="#2f6fbe"/><rect x="509.96" y="556.05" width="8.2" height="7.9" fill="#2f6fbe"/><rect x="527.73" y="556.05" width="8.2" height="7.9" fill="#2f6fbe"/><rect x="545.49" y="556.05" width="8.2" height="7.9" fill="#2f6fbe"/><rect x="563.25" y="556.05" width="8.2" height="7.9" fill="#2f6fbe"/><rect x="581.01" y="556.05" width="8.2" height="7.9" fill="#2f6fbe"/><rect x="598.77" y="556.05" width="8.2" height="7.9" fill="#2f6fbe"/><rect x="616.54" y="556.05" width="8.2" height="7.9" fill="#2f6fbe"/><rect x="634.3" y="556.05" width="8.2" height="7.9" fill="#2f6fbe"/><rect x="492.2" y="567.35" width="8.2" height="7.9" fill="#ff0000"/><rect x="509.96" y="567.35" width="8.2" height="7.9" fill="#ff0000"/><rect x="527.73" y="567.35" width="8.2" height="7.9" fill="#ff0000"/><rect x="545.49" y="567.35" width="8.2" height="7.9" fill="#ff0000"/><rect x="563.25" y="567.35" width="8.2" height="7.9" fill="#ff0000"/><rect x="581.01" y="567.35" width="8.2" height="7.9" fill="#ff0000"/><rect x="598.77" y="567.35" width="8.2" height="7.9" fill="#ff0000"/><rect x="616.54" y="567.35" width="8.2" height="7.9" fill="#ff0000"/><rect x="634.3" y="567.35" width="8.2" height="7.9" fill="#ff0000"/><rect x="492.2" y="580.55" width="8.2" height="7.9" fill="#2f6fbe"/><rect x="509.96" y="580.55" width="8.2" height="7.9" fill="#2f6fbe"/><rect x="527.73" y="580.55" width="8.2" height="7.9" fill="#2f6fbe"/><rect x="545.49" y="580.55" width="8.2" height="7.9" fill="#2f6fbe"/><rect x="563.25" y="580.55" width="8.2" height="7.9" fill="#2f6fbe"/><rect x="581.01" y="580.55" width="8.2" height="7.9" fill="#2f6fbe"/><rect x="598.77" y="580.55" width="8.2" height="7.9" fill="#2f6fbe"/><rect x="616.54" y="580.55" width="8.2" height="7.9" fill="#2f6fbe"/><rect x="634.3" y="580.55" width="8.2" height="7.9" fill="#2f6fbe"/><rect x="683.1" y="547.05" width="8.2" height="7.9" fill="#ff0000"/><rect x="700.88" y="547.05" width="8.2" height="7.9" fill="#ff0000"/><rect x="718.66" y="547.05" width="8.2" height="7.9" fill="#ff0000"/><rect x="736.44" y="547.05" width="8.2" height="7.9" fill="#ff0000"/><rect x="754.22" y="547.05" width="8.2" height="7.9" fill="#ff0000"/><rect x="772" y="547.05" width="8.2" height="7.9" fill="#ff0000"/><rect x="789.78" y="547.05" width="8.2" height="7.9" fill="#ff0000"/><rect x="807.56" y="547.05" width="8.2" height="7.9" fill="#ff0000"/><rect x="825.34" y="547.05" width="8.2" height="7.9" fill="#ff0000"/><rect x="843.12" y="547.05" width="8.2" height="7.9" fill="#ff0000"/><rect x="860.9" y="547.05" width="8.2" height="7.9" fill="#ff0000"/><rect x="683.1" y="558.35" width="8.2" height="7.9" fill="#2f6fbe"/><rect x="700.88" y="558.35" width="8.2" height="7.9" fill="#2f6fbe"/><rect x="718.66" y="558.35" width="8.2" height="7.9" fill="#2f6fbe"/><rect x="736.44" y="558.35" width="8.2" height="7.9" fill="#2f6fbe"/><rect x="754.22" y="558.35" width="8.2" height="7.9" fill="#2f6fbe"/><rect x="772" y="558.35" width="8.2" height="7.9" fill="#2f6fbe"/><rect x="789.78" y="558.35" width="8.2" height="7.9" fill="#2f6fbe"/><rect x="807.56" y="558.35" width="8.2" height="7.9" fill="#2f6fbe"/><rect x="825.34" y="558.35" width="8.2" height="7.9" fill="#2f6fbe"/><rect x="843.12" y="558.35" width="8.2" height="7.9" fill="#2f6fbe"/><rect x="860.9" y="558.35" width="8.2" height="7.9" fill="#2f6fbe"/><rect x="683.1" y="571.85" width="8.2" height="7.9" fill="#ff0000"/><rect x="700.88" y="571.85" width="8.2" height="7.9" fill="#ff0000"/><rect x="718.66" y="571.85" width="8.2" height="7.9" fill="#ff0000"/><rect x="736.44" y="571.85" width="8.2" height="7.9" fill="#ff0000"/><rect x="754.22" y="571.85" width="8.2" height="7.9" fill="#ff0000"/><rect x="772" y="571.85" width="8.2" height="7.9" fill="#ff0000"/><rect x="789.78" y="571.85" width="8.2" height="7.9" fill="#ff0000"/><rect x="807.56" y="571.85" width="8.2" height="7.9" fill="#ff0000"/><rect x="825.34" y="571.85" width="8.2" height="7.9" fill="#ff0000"/><rect x="843.12" y="571.85" width="8.2" height="7.9" fill="#ff0000"/><rect x="860.9" y="571.85" width="8.2" height="7.9" fill="#ff0000"/><rect x="683.1" y="583.35" width="8.2" height="7.9" fill="#2f6fbe"/><rect x="700.88" y="583.35" width="8.2" height="7.9" fill="#2f6fbe"/><rect x="718.66" y="583.35" width="8.2" height="7.9" fill="#2f6fbe"/><rect x="736.44" y="583.35" width="8.2" height="7.9" fill="#2f6fbe"/><rect x="754.22" y="583.35" width="8.2" height="7.9" fill="#2f6fbe"/><rect x="772" y="583.35" width="8.2" height="7.9" fill="#2f6fbe"/><rect x="789.78" y="583.35" width="8.2" height="7.9" fill="#2f6fbe"/><rect x="807.56" y="583.35" width="8.2" height="7.9" fill="#2f6fbe"/><rect x="825.34" y="583.35" width="8.2" height="7.9" fill="#2f6fbe"/><rect x="843.12" y="583.35" width="8.2" height="7.9" fill="#2f6fbe"/><rect x="860.9" y="583.35" width="8.2" height="7.9" fill="#2f6fbe"/><path d="M878.6,47 H889.7 V536.6 H879.3 M889.7,292 H902" fill="none" stroke="#3565b0" stroke-width="3.4"/><text x="910.5" y="311" font-family="Liberation Serif, serif" font-weight="bold" font-size="55" fill="#000" stroke="#000" stroke-width="0.9" textLength="20" lengthAdjust="spacingAndGlyphs">~</text><text x="947" y="304" font-family="Liberation Sans, sans-serif" font-weight="bold" font-size="39.5" fill="#000" textLength="48.5" lengthAdjust="spacingAndGlyphs">30</text><ellipse cx="176.4" cy="140" rx="14.6" ry="13.8" fill="#4f81bd" stroke="#264b7c" stroke-width="2.5"/><ellipse cx="215.4" cy="141.6" rx="14.9" ry="14.6" fill="#ff0000" stroke="#e40000" stroke-width="1.5"/><ellipse cx="134.6" cy="169.4" rx="14.6" ry="13.8" fill="#4f81bd" stroke="#264b7c" stroke-width="2.5"/><ellipse cx="173.4" cy="182" rx="14.9" ry="14.6" fill="#ff0000" stroke="#e40000" stroke-width="1.5"/><ellipse cx="256.6" cy="173" rx="14.9" ry="14.6" fill="#ff0000" stroke="#e40000" stroke-width="1.5"/><ellipse cx="213" cy="191" rx="14.6" ry="13.8" fill="#4f81bd" stroke="#264b7c" stroke-width="2.5"/><ellipse cx="248" cy="210.6" rx="14.6" ry="13.8" fill="#4f81bd" stroke="#264b7c" stroke-width="2.5"/><ellipse cx="128.4" cy="221" rx="14.6" ry="13.8" fill="#4f81bd" stroke="#264b7c" stroke-width="2.5"/><ellipse cx="172.6" cy="223.4" rx="14.6" ry="13.8" fill="#4f81bd" stroke="#264b7c" stroke-width="2.5"/><ellipse cx="210.6" cy="238" rx="14.9" ry="14.6" fill="#ff0000" stroke="#e40000" stroke-width="1.5"/><ellipse cx="265.6" cy="246.6" rx="14.9" ry="14.6" fill="#ff0000" stroke="#e40000" stroke-width="1.5"/><ellipse cx="146" cy="260" rx="14.9" ry="14.6" fill="#ff0000" stroke="#e40000" stroke-width="1.5"/><ellipse cx="187.4" cy="280" rx="14.9" ry="14.6" fill="#ff0000" stroke="#e40000" stroke-width="1.5"/><ellipse cx="234" cy="275" rx="14.6" ry="13.8" fill="#4f81bd" stroke="#264b7c" stroke-width="2.5"/><text x="111" y="332" font-family="Liberation Sans, sans-serif" font-size="23" fill="#111" textLength="174" lengthAdjust="spacingAndGlyphs">Follicular cells</text><g clip-path="url(#c12)"><path d="M119.75,1170.3 V1193.5" stroke="#a3a396" stroke-width="2.6"/><path d="M59.75,1128.29 L119.75,1170.3 L179.75,1128.29 M59.75,1138.39 L119.75,1180.4 L179.75,1138.39 M59.75,1148.49 L119.75,1190.5 L179.75,1148.49 M59.75,1158.59 L119.75,1200.6 L179.75,1158.59 M59.75,1168.69 L119.75,1210.7 L179.75,1168.69 M59.75,1178.79 L119.75,1220.8 L179.75,1178.79 M59.75,1188.89 L119.75,1230.9 L179.75,1188.89" fill="none" stroke="#a3a396" stroke-width="2.6" stroke-linejoin="miter"/></g><g clip-path="url(#c13)"><path d="M245,1097 V1193.5" stroke="#a3a396" stroke-width="2.6"/><path d="M125,972.74 L245,1097 L365,972.74 M125,987.54 L245,1111.8 L365,987.54 M125,1002.34 L245,1126.6 L365,1002.34 M125,1017.14 L245,1141.4 L365,1017.14 M125,1031.94 L245,1156.2 L365,1031.94 M125,1046.74 L245,1171 L365,1046.74 M125,1061.54 L245,1185.8 L365,1061.54 M125,1076.34 L245,1200.6 L365,1076.34 M125,1091.14 L245,1215.4 L365,1091.14 M125,1105.94 L245,1230.2 L365,1105.94 M125,1120.74 L245,1245 L365,1120.74 M125,1135.54 L245,1259.8 L365,1135.54 M125,1150.34 L245,1274.6 L365,1150.34 M125,1165.14 L245,1289.4 L365,1165.14 M125,1179.94 L245,1304.2 L365,1179.94" fill="none" stroke="#a3a396" stroke-width="2.6" stroke-linejoin="miter"/></g><g clip-path="url(#c14)"><rect x="190.05" y="1185.25" width="8.5" height="8.5" rx="1.2" fill="#3b73c0" transform="rotate(-20 194.3 1189.5)"/><rect x="208.15" y="1182.75" width="8.5" height="8.5" rx="1.2" fill="#3b73c0" transform="rotate(0 212.4 1187)"/><rect x="225.45" y="1182.55" width="8.5" height="8.5" rx="1.2" fill="#3b73c0" transform="rotate(0 229.7 1186.8)"/><rect x="258.65" y="1182.55" width="8.5" height="8.5" rx="1.2" fill="#3b73c0" transform="rotate(0 262.9 1186.8)"/><rect x="275.15" y="1182.75" width="8.5" height="8.5" rx="1.2" fill="#3b73c0" transform="rotate(0 279.4 1187)"/><rect x="294.75" y="1184.75" width="8.5" height="8.5" rx="1.2" fill="#3b73c0" transform="rotate(20 299 1189)"/><rect x="242.8" y="1179" width="7" height="9" rx="1.2" fill="#3b73c0" transform="rotate(0 246.3 1183.5)"/></g><g clip-path="url(#c15)"><path d="M401.8,991.8 V1194" stroke="#a3a396" stroke-width="2.6"/><path d="M251.8,841.8 L401.8,991.8 L551.8,841.8 M251.8,857.7 L401.8,1007.7 L551.8,857.7 M251.8,873.6 L401.8,1023.6 L551.8,873.6 M251.8,889.5 L401.8,1039.5 L551.8,889.5 M251.8,905.4 L401.8,1055.4 L551.8,905.4 M251.8,921.3 L401.8,1071.3 L551.8,921.3 M251.8,937.2 L401.8,1087.2 L551.8,937.2 M251.8,953.1 L401.8,1103.1 L551.8,953.1 M251.8,969 L401.8,1119 L551.8,969 M251.8,984.9 L401.8,1134.9 L551.8,984.9 M251.8,1000.8 L401.8,1150.8 L551.8,1000.8 M251.8,1016.7 L401.8,1166.7 L551.8,1016.7 M251.8,1032.6 L401.8,1182.6 L551.8,1032.6 M251.8,1048.5 L401.8,1198.5 L551.8,1048.5 M251.8,1064.4 L401.8,1214.4 L551.8,1064.4 M251.8,1080.3 L401.8,1230.3 L551.8,1080.3 M251.8,1096.2 L401.8,1246.2 L551.8,1096.2 M251.8,1112.1 L401.8,1262.1 L551.8,1112.1 M251.8,1128 L401.8,1278 L551.8,1128 M251.8,1143.9 L401.8,1293.9 L551.8,1143.9 M251.8,1159.8 L401.8,1309.8 L551.8,1159.8 M251.8,1175.7 L401.8,1325.7 L551.8,1175.7 M251.8,1191.6 L401.8,1341.6 L551.8,1191.6" fill="none" stroke="#a3a396" stroke-width="2.6" stroke-linejoin="miter"/></g><g clip-path="url(#c16)"><rect x="330.85" y="1172.15" width="8.5" height="8.5" rx="1.2" fill="#3b73c0" transform="rotate(-30 335.1 1176.4)"/><rect x="345.55" y="1162.85" width="8.5" height="8.5" rx="1.2" fill="#3b73c0" transform="rotate(-15 349.8 1167.1)"/><rect x="362.55" y="1160.55" width="8.5" height="8.5" rx="1.2" fill="#3b73c0" transform="rotate(-8 366.8 1164.8)"/><rect x="380.45" y="1158.95" width="8.5" height="8.5" rx="1.2" fill="#3b73c0" transform="rotate(-8 384.7 1163.2)"/><rect x="421.45" y="1159.75" width="8.5" height="8.5" rx="1.2" fill="#3b73c0" transform="rotate(8 425.7 1164)"/><rect x="439.35" y="1161.35" width="8.5" height="8.5" rx="1.2" fill="#3b73c0" transform="rotate(8 443.6 1165.6)"/><rect x="456.35" y="1165.95" width="8.5" height="8.5" rx="1.2" fill="#3b73c0" transform="rotate(20 460.6 1170.2)"/><rect x="395.95" y="1150.45" width="8.5" height="8.5" rx="1.2" fill="#3b73c0" transform="rotate(-30 400.2 1154.7)"/><rect x="404.45" y="1155.15" width="8.5" height="8.5" rx="1.2" fill="#3b73c0" transform="rotate(30 408.7 1159.4)"/><rect x="329.25" y="1186.15" width="8.5" height="8.5" rx="1.2" fill="#ff0000" transform="rotate(5 333.5 1190.4)"/><rect x="347.85" y="1183.75" width="8.5" height="8.5" rx="1.2" fill="#ff0000" transform="rotate(5 352.1 1188)"/><rect x="365.75" y="1183.75" width="8.5" height="8.5" rx="1.2" fill="#ff0000" transform="rotate(5 370 1188)"/><rect x="382.75" y="1183.75" width="8.5" height="8.5" rx="1.2" fill="#ff0000" transform="rotate(5 387 1188)"/><rect x="414.55" y="1184.55" width="8.5" height="8.5" rx="1.2" fill="#ff0000" transform="rotate(5 418.8 1188.8)"/><rect x="432.35" y="1184.55" width="8.5" height="8.5" rx="1.2" fill="#ff0000" transform="rotate(5 436.6 1188.8)"/><rect x="450.15" y="1184.55" width="8.5" height="8.5" rx="1.2" fill="#ff0000" transform="rotate(5 454.4 1188.8)"/><rect x="465.65" y="1187.75" width="8.5" height="8.5" rx="1.2" fill="#ff0000" transform="rotate(5 469.9 1192)"/><rect x="396.75" y="1179.95" width="8.5" height="8.5" rx="1.2" fill="#ff0000" transform="rotate(45 401 1184.2)"/></g><g clip-path="url(#c17)"><path d="M563.3,880.2 V1195" stroke="#a3a396" stroke-width="2.6"/><path d="M363.3,680.2 L563.3,880.2 L763.3,680.2 M363.3,695.3 L563.3,895.3 L763.3,695.3 M363.3,710.4 L563.3,910.4 L763.3,710.4 M363.3,725.5 L563.3,925.5 L763.3,725.5 M363.3,740.6 L563.3,940.6 L763.3,740.6 M363.3,755.7 L563.3,955.7 L763.3,755.7 M363.3,770.8 L563.3,970.8 L763.3,770.8 M363.3,785.9 L563.3,985.9 L763.3,785.9 M363.3,801 L563.3,1001 L763.3,801 M363.3,816.1 L563.3,1016.1 L763.3,816.1 M363.3,831.2 L563.3,1031.2 L763.3,831.2 M363.3,846.3 L563.3,1046.3 L763.3,846.3 M363.3,861.4 L563.3,1061.4 L763.3,861.4 M363.3,876.5 L563.3,1076.5 L763.3,876.5 M363.3,891.6 L563.3,1091.6 L763.3,891.6 M363.3,906.7 L563.3,1106.7 L763.3,906.7 M363.3,921.8 L563.3,1121.8 L763.3,921.8 M363.3,936.9 L563.3,1136.9 L763.3,936.9 M363.3,952 L563.3,1152 L763.3,952 M363.3,967.1 L563.3,1167.1 L763.3,967.1 M363.3,982.2 L563.3,1182.2 L763.3,982.2 M363.3,997.3 L563.3,1197.3 L763.3,997.3 M363.3,1012.4 L563.3,1212.4 L763.3,1012.4 M363.3,1027.5 L563.3,1227.5 L763.3,1027.5 M363.3,1042.6 L563.3,1242.6 L763.3,1042.6 M363.3,1057.7 L563.3,1257.7 L763.3,1057.7 M363.3,1072.8 L563.3,1272.8 L763.3,1072.8 M363.3,1087.9 L563.3,1287.9 L763.3,1087.9 M363.3,1103 L563.3,1303 L763.3,1103 M363.3,1118.1 L563.3,1318.1 L763.3,1118.1 M363.3,1133.2 L563.3,1333.2 L763.3,1133.2 M363.3,1148.3 L563.3,1348.3 L763.3,1148.3 M363.3,1163.4 L563.3,1363.4 L763.3,1163.4 M363.3,1178.5 L563.3,1378.5 L763.3,1178.5 M363.3,1193.6 L563.3,1393.6 L763.3,1193.6" fill="none" stroke="#a3a396" stroke-width="2.6" stroke-linejoin="miter"/></g><g clip-path="url(#c18)"><rect x="535.25" y="1107.95" width="8.5" height="8.5" rx="1.2" fill="#ff0000" transform="rotate(-19 539.5 1112.2)"/><rect x="518.25" y="1113.95" width="8.5" height="8.5" rx="1.2" fill="#ff0000" transform="rotate(-19 522.5 1118.2)"/><rect x="501.25" y="1119.85" width="8.5" height="8.5" rx="1.2" fill="#ff0000" transform="rotate(-19 505.5 1124.1)"/><rect x="485.95" y="1126.65" width="8.5" height="8.5" rx="1.2" fill="#ff0000" transform="rotate(-19 490.2 1130.9)"/><rect x="586.25" y="1107.15" width="8.5" height="8.5" rx="1.2" fill="#ff0000" transform="rotate(19 590.5 1111.4)"/><rect x="602.45" y="1112.25" width="8.5" height="8.5" rx="1.2" fill="#ff0000" transform="rotate(19 606.7 1116.5)"/><rect x="620.25" y="1118.15" width="8.5" height="8.5" rx="1.2" fill="#ff0000" transform="rotate(19 624.5 1122.4)"/><rect x="633.85" y="1123.25" width="8.5" height="8.5" rx="1.2" fill="#ff0000" transform="rotate(19 638.1 1127.5)"/><rect x="552.25" y="1102.05" width="8.5" height="8.5" rx="1.2" fill="#ff0000" transform="rotate(-10 556.5 1106.3)"/><rect x="569.25" y="1102.05" width="8.5" height="8.5" rx="1.2" fill="#ff0000" transform="rotate(10 573.5 1106.3)"/><rect x="539.5" y="1130.05" width="8.5" height="8.5" rx="1.2" fill="#3b73c0" transform="rotate(-19 543.75 1134.3)"/><rect x="522.5" y="1135.15" width="8.5" height="8.5" rx="1.2" fill="#3b73c0" transform="rotate(-19 526.75 1139.4)"/><rect x="506.35" y="1140.25" width="8.5" height="8.5" rx="1.2" fill="#3b73c0" transform="rotate(-19 510.6 1144.5)"/><rect x="488.5" y="1147.05" width="8.5" height="8.5" rx="1.2" fill="#3b73c0" transform="rotate(-19 492.75 1151.3)"/><rect x="581.15" y="1130.05" width="8.5" height="8.5" rx="1.2" fill="#3b73c0" transform="rotate(19 585.4 1134.3)"/><rect x="598.15" y="1135.15" width="8.5" height="8.5" rx="1.2" fill="#3b73c0" transform="rotate(19 602.4 1139.4)"/><rect x="615.15" y="1141.15" width="8.5" height="8.5" rx="1.2" fill="#3b73c0" transform="rotate(19 619.4 1145.4)"/><rect x="632.15" y="1147.05" width="8.5" height="8.5" rx="1.2" fill="#3b73c0" transform="rotate(19 636.4 1151.3)"/><rect x="555.75" y="1124.15" width="8.5" height="8.5" rx="1.2" fill="#3b73c0" transform="rotate(-22 560 1128.4)"/><rect x="564.25" y="1124.15" width="8.5" height="8.5" rx="1.2" fill="#3b73c0" transform="rotate(22 568.5 1128.4)"/><rect x="542.05" y="1159.75" width="8.5" height="8.5" rx="1.2" fill="#ff0000" transform="rotate(-8 546.3 1164)"/><rect x="524.25" y="1162.35" width="8.5" height="8.5" rx="1.2" fill="#ff0000" transform="rotate(-8 528.5 1166.6)"/><rect x="506.35" y="1164.05" width="8.5" height="8.5" rx="1.2" fill="#ff0000" transform="rotate(-10 510.6 1168.3)"/><rect x="490.25" y="1171.75" width="8.5" height="8.5" rx="1.2" fill="#ff0000" transform="rotate(-30 494.5 1176)"/><rect x="584.55" y="1159.75" width="8.5" height="8.5" rx="1.2" fill="#ff0000" transform="rotate(8 588.8 1164)"/><rect x="602.45" y="1161.55" width="8.5" height="8.5" rx="1.2" fill="#ff0000" transform="rotate(8 606.7 1165.8)"/><rect x="620.25" y="1163.25" width="8.5" height="8.5" rx="1.2" fill="#ff0000" transform="rotate(10 624.5 1167.5)"/><rect x="636.45" y="1170.05" width="8.5" height="8.5" rx="1.2" fill="#ff0000" transform="rotate(30 640.7 1174.3)"/><rect x="558.75" y="1154.25" width="8.5" height="8.5" rx="1.2" fill="#ff0000" transform="rotate(-15 563 1158.5)"/><rect x="567.25" y="1154.25" width="8.5" height="8.5" rx="1.2" fill="#ff0000" transform="rotate(15 571.5 1158.5)"/><rect x="487.65" y="1183.65" width="8.5" height="8.5" rx="1.2" fill="#3b73c0" transform="rotate(5 491.9 1187.9)"/><rect x="506.35" y="1183.65" width="8.5" height="8.5" rx="1.2" fill="#3b73c0" transform="rotate(5 510.6 1187.9)"/><rect x="523.35" y="1183.65" width="8.5" height="8.5" rx="1.2" fill="#3b73c0" transform="rotate(5 527.6 1187.9)"/><rect x="541.25" y="1183.65" width="8.5" height="8.5" rx="1.2" fill="#3b73c0" transform="rotate(5 545.5 1187.9)"/><rect x="576.05" y="1183.65" width="8.5" height="8.5" rx="1.2" fill="#3b73c0" transform="rotate(5 580.3 1187.9)"/><rect x="593.05" y="1183.65" width="8.5" height="8.5" rx="1.2" fill="#3b73c0" transform="rotate(5 597.3 1187.9)"/><rect x="610.05" y="1183.65" width="8.5" height="8.5" rx="1.2" fill="#3b73c0" transform="rotate(5 614.3 1187.9)"/><rect x="627.95" y="1183.65" width="8.5" height="8.5" rx="1.2" fill="#3b73c0" transform="rotate(5 632.2 1187.9)"/><rect x="559.8" y="1179.5" width="7" height="9" rx="1.2" fill="#3b73c0" transform="rotate(0 563.3 1184)"/></g><g clip-path="url(#c19)"><path d="M773.5,727 V990.5" stroke="#a3a396" stroke-width="2.6"/><path d="M513.5,447.5 L773.5,707.5 L1033.5,447.5 M513.5,467.1 L773.5,727.1 L1033.5,467.1 M513.5,486.7 L773.5,746.7 L1033.5,486.7 M513.5,506.3 L773.5,766.3 L1033.5,506.3 M513.5,525.9 L773.5,785.9 L1033.5,525.9 M513.5,545.5 L773.5,805.5 L1033.5,545.5 M513.5,565.1 L773.5,825.1 L1033.5,565.1 M513.5,584.7 L773.5,844.7 L1033.5,584.7 M513.5,604.3 L773.5,864.3 L1033.5,604.3 M513.5,623.9 L773.5,883.9 L1033.5,623.9 M513.5,643.5 L773.5,903.5 L1033.5,643.5 M513.5,663.1 L773.5,923.1 L1033.5,663.1 M513.5,682.7 L773.5,942.7 L1033.5,682.7 M513.5,702.3 L773.5,962.3 L1033.5,702.3 M513.5,721.9 L773.5,981.9 L1033.5,721.9 M513.5,741.5 L773.5,1001.5 L1033.5,741.5 M513.5,761.1 L773.5,1021.1 L1033.5,761.1 M513.5,780.7 L773.5,1040.7 L1033.5,780.7 M513.5,800.3 L773.5,1060.3 L1033.5,800.3 M513.5,819.9 L773.5,1079.9 L1033.5,819.9 M513.5,839.5 L773.5,1099.5 L1033.5,839.5 M513.5,859.1 L773.5,1119.1 L1033.5,859.1 M513.5,878.7 L773.5,1138.7 L1033.5,878.7 M513.5,898.3 L773.5,1158.3 L1033.5,898.3 M513.5,917.9 L773.5,1177.9 L1033.5,917.9 M513.5,937.5 L773.5,1197.5 L1033.5,937.5 M513.5,957.1 L773.5,1217.1 L1033.5,957.1 M513.5,976.7 L773.5,1236.7 L1033.5,976.7" fill="none" stroke="#a3a396" stroke-width="2.6" stroke-linejoin="miter"/></g><g clip-path="url(#c20)"><rect x="764.4" y="729" width="9" height="9" rx="1.2" fill="#ff0000" transform="rotate(-22 768.9 733.5)"/><rect x="773.6" y="729" width="9" height="9" rx="1.2" fill="#ff0000" transform="rotate(22 778.1 733.5)"/><rect x="749.25" y="736.05" width="8.5" height="8.5" rx="1.2" fill="#ff0000" transform="rotate(-30 753.5 740.3)"/><rect x="789.25" y="736.05" width="8.5" height="8.5" rx="1.2" fill="#ff0000" transform="rotate(30 793.5 740.3)"/><rect x="732.25" y="741.83" width="8.5" height="8.5" rx="1.2" fill="#ff0000" transform="rotate(-30 736.5 746.08)"/><rect x="806.25" y="741.83" width="8.5" height="8.5" rx="1.2" fill="#ff0000" transform="rotate(30 810.5 746.08)"/><rect x="715.75" y="747.44" width="8.5" height="8.5" rx="1.2" fill="#ff0000" transform="rotate(-30 720 751.69)"/><rect x="822.75" y="747.44" width="8.5" height="8.5" rx="1.2" fill="#ff0000" transform="rotate(30 827 751.69)"/><rect x="699.25" y="753.05" width="8.5" height="8.5" rx="1.2" fill="#ff0000" transform="rotate(-30 703.5 757.3)"/><rect x="839.25" y="753.05" width="8.5" height="8.5" rx="1.2" fill="#ff0000" transform="rotate(30 843.5 757.3)"/><rect x="680.25" y="759.51" width="8.5" height="8.5" rx="1.2" fill="#ff0000" transform="rotate(-30 684.5 763.76)"/><rect x="858.25" y="759.51" width="8.5" height="8.5" rx="1.2" fill="#ff0000" transform="rotate(30 862.5 763.76)"/><rect x="764.4" y="755.5" width="9" height="9" rx="1.2" fill="#3b73c0" transform="rotate(-22 768.9 760)"/><rect x="773.6" y="755.5" width="9" height="9" rx="1.2" fill="#3b73c0" transform="rotate(22 778.1 760)"/><rect x="749.25" y="762.55" width="8.5" height="8.5" rx="1.2" fill="#3b73c0" transform="rotate(-30 753.5 766.8)"/><rect x="789.25" y="762.55" width="8.5" height="8.5" rx="1.2" fill="#3b73c0" transform="rotate(30 793.5 766.8)"/><rect x="732.25" y="768.33" width="8.5" height="8.5" rx="1.2" fill="#3b73c0" transform="rotate(-30 736.5 772.58)"/><rect x="806.25" y="768.33" width="8.5" height="8.5" rx="1.2" fill="#3b73c0" transform="rotate(30 810.5 772.58)"/><rect x="715.75" y="773.94" width="8.5" height="8.5" rx="1.2" fill="#3b73c0" transform="rotate(-30 720 778.19)"/><rect x="822.75" y="773.94" width="8.5" height="8.5" rx="1.2" fill="#3b73c0" transform="rotate(30 827 778.19)"/><rect x="699.25" y="779.55" width="8.5" height="8.5" rx="1.2" fill="#3b73c0" transform="rotate(-30 703.5 783.8)"/><rect x="839.25" y="779.55" width="8.5" height="8.5" rx="1.2" fill="#3b73c0" transform="rotate(30 843.5 783.8)"/><rect x="680.25" y="786.01" width="8.5" height="8.5" rx="1.2" fill="#3b73c0" transform="rotate(-30 684.5 790.26)"/><rect x="858.25" y="786.01" width="8.5" height="8.5" rx="1.2" fill="#3b73c0" transform="rotate(30 862.5 790.26)"/><rect x="764.4" y="782.5" width="9" height="9" rx="1.2" fill="#ff0000" transform="rotate(-22 768.9 787)"/><rect x="773.6" y="782.5" width="9" height="9" rx="1.2" fill="#ff0000" transform="rotate(22 778.1 787)"/><rect x="749.25" y="789.55" width="8.5" height="8.5" rx="1.2" fill="#ff0000" transform="rotate(-30 753.5 793.8)"/><rect x="789.25" y="789.55" width="8.5" height="8.5" rx="1.2" fill="#ff0000" transform="rotate(30 793.5 793.8)"/><rect x="732.25" y="795.33" width="8.5" height="8.5" rx="1.2" fill="#ff0000" transform="rotate(-30 736.5 799.58)"/><rect x="806.25" y="795.33" width="8.5" height="8.5" rx="1.2" fill="#ff0000" transform="rotate(30 810.5 799.58)"/><rect x="715.75" y="800.94" width="8.5" height="8.5" rx="1.2" fill="#ff0000" transform="rotate(-30 720 805.19)"/><rect x="822.75" y="800.94" width="8.5" height="8.5" rx="1.2" fill="#ff0000" transform="rotate(30 827 805.19)"/><rect x="699.25" y="806.55" width="8.5" height="8.5" rx="1.2" fill="#ff0000" transform="rotate(-30 703.5 810.8)"/><rect x="839.25" y="806.55" width="8.5" height="8.5" rx="1.2" fill="#ff0000" transform="rotate(30 843.5 810.8)"/><rect x="680.25" y="813.01" width="8.5" height="8.5" rx="1.2" fill="#ff0000" transform="rotate(-30 684.5 817.26)"/><rect x="858.25" y="813.01" width="8.5" height="8.5" rx="1.2" fill="#ff0000" transform="rotate(30 862.5 817.26)"/><rect x="764.4" y="809.5" width="9" height="9" rx="1.2" fill="#3b73c0" transform="rotate(-22 768.9 814)"/><rect x="773.6" y="809.5" width="9" height="9" rx="1.2" fill="#3b73c0" transform="rotate(22 778.1 814)"/><rect x="749.25" y="816.55" width="8.5" height="8.5" rx="1.2" fill="#3b73c0" transform="rotate(-30 753.5 820.8)"/><rect x="789.25" y="816.55" width="8.5" height="8.5" rx="1.2" fill="#3b73c0" transform="rotate(30 793.5 820.8)"/><rect x="732.25" y="822.33" width="8.5" height="8.5" rx="1.2" fill="#3b73c0" transform="rotate(-30 736.5 826.58)"/><rect x="806.25" y="822.33" width="8.5" height="8.5" rx="1.2" fill="#3b73c0" transform="rotate(30 810.5 826.58)"/><rect x="715.75" y="827.94" width="8.5" height="8.5" rx="1.2" fill="#3b73c0" transform="rotate(-30 720 832.19)"/><rect x="822.75" y="827.94" width="8.5" height="8.5" rx="1.2" fill="#3b73c0" transform="rotate(30 827 832.19)"/><rect x="699.25" y="833.55" width="8.5" height="8.5" rx="1.2" fill="#3b73c0" transform="rotate(-30 703.5 837.8)"/><rect x="839.25" y="833.55" width="8.5" height="8.5" rx="1.2" fill="#3b73c0" transform="rotate(30 843.5 837.8)"/><rect x="680.25" y="840.01" width="8.5" height="8.5" rx="1.2" fill="#3b73c0" transform="rotate(-30 684.5 844.26)"/><rect x="858.25" y="840.01" width="8.5" height="8.5" rx="1.2" fill="#3b73c0" transform="rotate(30 862.5 844.26)"/><rect x="764.4" y="839.1" width="9" height="9" rx="1.2" fill="#ff0000" transform="rotate(-22 768.9 843.6)"/><rect x="773.6" y="839.1" width="9" height="9" rx="1.2" fill="#ff0000" transform="rotate(22 778.1 843.6)"/><rect x="749.25" y="846.15" width="8.5" height="8.5" rx="1.2" fill="#ff0000" transform="rotate(-30 753.5 850.4)"/><rect x="789.25" y="846.15" width="8.5" height="8.5" rx="1.2" fill="#ff0000" transform="rotate(30 793.5 850.4)"/><rect x="732.25" y="851.93" width="8.5" height="8.5" rx="1.2" fill="#ff0000" transform="rotate(-30 736.5 856.18)"/><rect x="806.25" y="851.93" width="8.5" height="8.5" rx="1.2" fill="#ff0000" transform="rotate(30 810.5 856.18)"/><rect x="715.75" y="857.54" width="8.5" height="8.5" rx="1.2" fill="#ff0000" transform="rotate(-30 720 861.79)"/><rect x="822.75" y="857.54" width="8.5" height="8.5" rx="1.2" fill="#ff0000" transform="rotate(30 827 861.79)"/><rect x="699.25" y="863.15" width="8.5" height="8.5" rx="1.2" fill="#ff0000" transform="rotate(-30 703.5 867.4)"/><rect x="839.25" y="863.15" width="8.5" height="8.5" rx="1.2" fill="#ff0000" transform="rotate(30 843.5 867.4)"/><rect x="680.25" y="869.61" width="8.5" height="8.5" rx="1.2" fill="#ff0000" transform="rotate(-30 684.5 873.86)"/><rect x="858.25" y="869.61" width="8.5" height="8.5" rx="1.2" fill="#ff0000" transform="rotate(30 862.5 873.86)"/><rect x="764.4" y="868.5" width="9" height="9" rx="1.2" fill="#3b73c0" transform="rotate(-22 768.9 873)"/><rect x="773.6" y="868.5" width="9" height="9" rx="1.2" fill="#3b73c0" transform="rotate(22 778.1 873)"/><rect x="749.25" y="875.55" width="8.5" height="8.5" rx="1.2" fill="#3b73c0" transform="rotate(-30 753.5 879.8)"/><rect x="789.25" y="875.55" width="8.5" height="8.5" rx="1.2" fill="#3b73c0" transform="rotate(30 793.5 879.8)"/><rect x="732.25" y="881.33" width="8.5" height="8.5" rx="1.2" fill="#3b73c0" transform="rotate(-30 736.5 885.58)"/><rect x="806.25" y="881.33" width="8.5" height="8.5" rx="1.2" fill="#3b73c0" transform="rotate(30 810.5 885.58)"/><rect x="715.75" y="886.94" width="8.5" height="8.5" rx="1.2" fill="#3b73c0" transform="rotate(-30 720 891.19)"/><rect x="822.75" y="886.94" width="8.5" height="8.5" rx="1.2" fill="#3b73c0" transform="rotate(30 827 891.19)"/><rect x="699.25" y="892.55" width="8.5" height="8.5" rx="1.2" fill="#3b73c0" transform="rotate(-30 703.5 896.8)"/><rect x="839.25" y="892.55" width="8.5" height="8.5" rx="1.2" fill="#3b73c0" transform="rotate(30 843.5 896.8)"/><rect x="680.25" y="899.01" width="8.5" height="8.5" rx="1.2" fill="#3b73c0" transform="rotate(-30 684.5 903.26)"/><rect x="858.25" y="899.01" width="8.5" height="8.5" rx="1.2" fill="#3b73c0" transform="rotate(30 862.5 903.26)"/><rect x="764.4" y="898.1" width="9" height="9" rx="1.2" fill="#ff0000" transform="rotate(-22 768.9 902.6)"/><rect x="773.6" y="898.1" width="9" height="9" rx="1.2" fill="#ff0000" transform="rotate(22 778.1 902.6)"/><rect x="749.25" y="905.15" width="8.5" height="8.5" rx="1.2" fill="#ff0000" transform="rotate(-30 753.5 909.4)"/><rect x="789.25" y="905.15" width="8.5" height="8.5" rx="1.2" fill="#ff0000" transform="rotate(30 793.5 909.4)"/><rect x="732.25" y="910.93" width="8.5" height="8.5" rx="1.2" fill="#ff0000" transform="rotate(-30 736.5 915.18)"/><rect x="806.25" y="910.93" width="8.5" height="8.5" rx="1.2" fill="#ff0000" transform="rotate(30 810.5 915.18)"/><rect x="715.75" y="916.54" width="8.5" height="8.5" rx="1.2" fill="#ff0000" transform="rotate(-30 720 920.79)"/><rect x="822.75" y="916.54" width="8.5" height="8.5" rx="1.2" fill="#ff0000" transform="rotate(30 827 920.79)"/><rect x="699.25" y="922.15" width="8.5" height="8.5" rx="1.2" fill="#ff0000" transform="rotate(-30 703.5 926.4)"/><rect x="839.25" y="922.15" width="8.5" height="8.5" rx="1.2" fill="#ff0000" transform="rotate(30 843.5 926.4)"/><rect x="680.25" y="928.61" width="8.5" height="8.5" rx="1.2" fill="#ff0000" transform="rotate(-30 684.5 932.86)"/><rect x="858.25" y="928.61" width="8.5" height="8.5" rx="1.2" fill="#ff0000" transform="rotate(30 862.5 932.86)"/><rect x="764.4" y="923.9" width="9" height="9" rx="1.2" fill="#3b73c0" transform="rotate(-22 768.9 928.4)"/><rect x="773.6" y="923.9" width="9" height="9" rx="1.2" fill="#3b73c0" transform="rotate(22 778.1 928.4)"/><rect x="749.25" y="930.95" width="8.5" height="8.5" rx="1.2" fill="#3b73c0" transform="rotate(-30 753.5 935.2)"/><rect x="789.25" y="930.95" width="8.5" height="8.5" rx="1.2" fill="#3b73c0" transform="rotate(30 793.5 935.2)"/><rect x="732.25" y="936.73" width="8.5" height="8.5" rx="1.2" fill="#3b73c0" transform="rotate(-30 736.5 940.98)"/><rect x="806.25" y="936.73" width="8.5" height="8.5" rx="1.2" fill="#3b73c0" transform="rotate(30 810.5 940.98)"/><rect x="715.75" y="942.34" width="8.5" height="8.5" rx="1.2" fill="#3b73c0" transform="rotate(-30 720 946.59)"/><rect x="822.75" y="942.34" width="8.5" height="8.5" rx="1.2" fill="#3b73c0" transform="rotate(30 827 946.59)"/><rect x="699.25" y="947.95" width="8.5" height="8.5" rx="1.2" fill="#3b73c0" transform="rotate(-30 703.5 952.2)"/><rect x="839.25" y="947.95" width="8.5" height="8.5" rx="1.2" fill="#3b73c0" transform="rotate(30 843.5 952.2)"/><rect x="680.25" y="954.41" width="8.5" height="8.5" rx="1.2" fill="#3b73c0" transform="rotate(-30 684.5 958.66)"/><rect x="858.25" y="954.41" width="8.5" height="8.5" rx="1.2" fill="#3b73c0" transform="rotate(30 862.5 958.66)"/><rect x="764.4" y="953.5" width="9" height="9" rx="1.2" fill="#ff0000" transform="rotate(-22 768.9 958)"/><rect x="773.6" y="953.5" width="9" height="9" rx="1.2" fill="#ff0000" transform="rotate(22 778.1 958)"/><rect x="749.25" y="960.55" width="8.5" height="8.5" rx="1.2" fill="#ff0000" transform="rotate(-30 753.5 964.8)"/><rect x="789.25" y="960.55" width="8.5" height="8.5" rx="1.2" fill="#ff0000" transform="rotate(30 793.5 964.8)"/><rect x="732.25" y="966.33" width="8.5" height="8.5" rx="1.2" fill="#ff0000" transform="rotate(-30 736.5 970.58)"/><rect x="806.25" y="966.33" width="8.5" height="8.5" rx="1.2" fill="#ff0000" transform="rotate(30 810.5 970.58)"/><rect x="715.75" y="971.94" width="8.5" height="8.5" rx="1.2" fill="#ff0000" transform="rotate(-30 720 976.19)"/><rect x="822.75" y="971.94" width="8.5" height="8.5" rx="1.2" fill="#ff0000" transform="rotate(30 827 976.19)"/><rect x="699.25" y="977.55" width="8.5" height="8.5" rx="1.2" fill="#ff0000" transform="rotate(-30 703.5 981.8)"/><rect x="839.25" y="977.55" width="8.5" height="8.5" rx="1.2" fill="#ff0000" transform="rotate(30 843.5 981.8)"/><rect x="680.25" y="984.01" width="8.5" height="8.5" rx="1.2" fill="#ff0000" transform="rotate(-30 684.5 988.26)"/><rect x="858.25" y="984.01" width="8.5" height="8.5" rx="1.2" fill="#ff0000" transform="rotate(30 862.5 988.26)"/></g><rect x="772.3" y="988.2" width="2.4" height="2.6" fill="#222"/><rect x="772.3" y="994.7" width="2.4" height="2.6" fill="#222"/><rect x="772.3" y="1001.2" width="2.4" height="2.6" fill="#222"/><rect x="772.3" y="1007.7" width="2.4" height="2.6" fill="#222"/><rect x="772.3" y="1014.2" width="2.4" height="2.6" fill="#222"/><rect x="772.3" y="1020.7" width="2.4" height="2.6" fill="#222"/><rect x="772.3" y="1027.2" width="2.4" height="2.6" fill="#222"/><g clip-path="url(#c21)"><path d="M774,1032 V1203" stroke="#a3a396" stroke-width="2.6"/><path d="M514,746 L774,1006 L1034,746 M514,765.5 L774,1025.5 L1034,765.5 M514,785 L774,1045 L1034,785 M514,804.5 L774,1064.5 L1034,804.5 M514,824 L774,1084 L1034,824 M514,843.5 L774,1103.5 L1034,843.5 M514,863 L774,1123 L1034,863 M514,882.5 L774,1142.5 L1034,882.5 M514,902 L774,1162 L1034,902 M514,921.5 L774,1181.5 L1034,921.5 M514,941 L774,1201 L1034,941 M514,960.5 L774,1220.5 L1034,960.5 M514,980 L774,1240 L1034,980 M514,999.5 L774,1259.5 L1034,999.5 M514,1019 L774,1279 L1034,1019 M514,1038.5 L774,1298.5 L1034,1038.5 M514,1058 L774,1318 L1034,1058 M514,1077.5 L774,1337.5 L1034,1077.5 M514,1097 L774,1357 L1034,1097 M514,1116.5 L774,1376.5 L1034,1116.5 M514,1136 L774,1396 L1034,1136 M514,1155.5 L774,1415.5 L1034,1155.5 M514,1175 L774,1435 L1034,1175 M514,1194.5 L774,1454.5 L1034,1194.5" fill="none" stroke="#a3a396" stroke-width="2.6" stroke-linejoin="miter"/></g><g clip-path="url(#c22)"><rect x="764.9" y="1029.8" width="9" height="9" rx="1.2" fill="#3b73c0" transform="rotate(-22 769.4 1034.3)"/><rect x="774.1" y="1029.8" width="9" height="9" rx="1.2" fill="#3b73c0" transform="rotate(22 778.6 1034.3)"/><rect x="750.15" y="1036.52" width="8.5" height="8.5" rx="1.2" fill="#3b73c0" transform="rotate(-30 754.4 1040.77)"/><rect x="789.35" y="1036.52" width="8.5" height="8.5" rx="1.2" fill="#3b73c0" transform="rotate(30 793.6 1040.77)"/><rect x="733.55" y="1042" width="8.5" height="8.5" rx="1.2" fill="#3b73c0" transform="rotate(-30 737.8 1046.25)"/><rect x="805.95" y="1042" width="8.5" height="8.5" rx="1.2" fill="#3b73c0" transform="rotate(30 810.2 1046.25)"/><rect x="716.95" y="1047.47" width="8.5" height="8.5" rx="1.2" fill="#3b73c0" transform="rotate(-30 721.2 1051.72)"/><rect x="822.55" y="1047.47" width="8.5" height="8.5" rx="1.2" fill="#3b73c0" transform="rotate(30 826.8 1051.72)"/><rect x="699.65" y="1053.18" width="8.5" height="8.5" rx="1.2" fill="#3b73c0" transform="rotate(-30 703.9 1057.43)"/><rect x="839.85" y="1053.18" width="8.5" height="8.5" rx="1.2" fill="#3b73c0" transform="rotate(30 844.1 1057.43)"/><rect x="680.75" y="1059.42" width="8.5" height="8.5" rx="1.2" fill="#3b73c0" transform="rotate(-30 685 1063.67)"/><rect x="858.75" y="1059.42" width="8.5" height="8.5" rx="1.2" fill="#3b73c0" transform="rotate(30 863 1063.67)"/><rect x="764.9" y="1046.4" width="9" height="9" rx="1.2" fill="#ff0000" transform="rotate(-22 769.4 1050.9)"/><rect x="774.1" y="1046.4" width="9" height="9" rx="1.2" fill="#ff0000" transform="rotate(22 778.6 1050.9)"/><rect x="750.15" y="1053.41" width="8.5" height="8.5" rx="1.2" fill="#ff0000" transform="rotate(-30 754.4 1057.66)"/><rect x="789.35" y="1053.41" width="8.5" height="8.5" rx="1.2" fill="#ff0000" transform="rotate(30 793.6 1057.66)"/><rect x="732.75" y="1059.42" width="8.5" height="8.5" rx="1.2" fill="#ff0000" transform="rotate(-30 737 1063.67)"/><rect x="806.75" y="1059.42" width="8.5" height="8.5" rx="1.2" fill="#ff0000" transform="rotate(30 811 1063.67)"/><rect x="716.25" y="1065.11" width="8.5" height="8.5" rx="1.2" fill="#ff0000" transform="rotate(-30 720.5 1069.36)"/><rect x="823.25" y="1065.11" width="8.5" height="8.5" rx="1.2" fill="#ff0000" transform="rotate(30 827.5 1069.36)"/><rect x="699.65" y="1070.83" width="8.5" height="8.5" rx="1.2" fill="#ff0000" transform="rotate(-30 703.9 1075.08)"/><rect x="839.85" y="1070.83" width="8.5" height="8.5" rx="1.2" fill="#ff0000" transform="rotate(30 844.1 1075.08)"/><rect x="680.75" y="1077.36" width="8.5" height="8.5" rx="1.2" fill="#ff0000" transform="rotate(-30 685 1081.61)"/><rect x="858.75" y="1077.36" width="8.5" height="8.5" rx="1.2" fill="#ff0000" transform="rotate(30 863 1081.61)"/><rect x="764.9" y="1064.5" width="9" height="9" rx="1.2" fill="#3b73c0" transform="rotate(-22 769.4 1069)"/><rect x="774.1" y="1064.5" width="9" height="9" rx="1.2" fill="#3b73c0" transform="rotate(22 778.6 1069)"/><rect x="749.35" y="1071.69" width="8.5" height="8.5" rx="1.2" fill="#3b73c0" transform="rotate(-30 753.6 1075.94)"/><rect x="790.15" y="1071.69" width="8.5" height="8.5" rx="1.2" fill="#3b73c0" transform="rotate(30 794.4 1075.94)"/><rect x="732.75" y="1077.33" width="8.5" height="8.5" rx="1.2" fill="#3b73c0" transform="rotate(-30 737 1081.58)"/><rect x="806.75" y="1077.33" width="8.5" height="8.5" rx="1.2" fill="#3b73c0" transform="rotate(30 811 1081.58)"/><rect x="716.25" y="1082.94" width="8.5" height="8.5" rx="1.2" fill="#3b73c0" transform="rotate(-30 720.5 1087.19)"/><rect x="823.25" y="1082.94" width="8.5" height="8.5" rx="1.2" fill="#3b73c0" transform="rotate(30 827.5 1087.19)"/><rect x="699.65" y="1088.58" width="8.5" height="8.5" rx="1.2" fill="#3b73c0" transform="rotate(-30 703.9 1092.83)"/><rect x="839.85" y="1088.58" width="8.5" height="8.5" rx="1.2" fill="#3b73c0" transform="rotate(30 844.1 1092.83)"/><rect x="680.75" y="1095.01" width="8.5" height="8.5" rx="1.2" fill="#3b73c0" transform="rotate(-30 685 1099.26)"/><rect x="858.75" y="1095.01" width="8.5" height="8.5" rx="1.2" fill="#3b73c0" transform="rotate(30 863 1099.26)"/><rect x="764.9" y="1081.8" width="9" height="9" rx="1.2" fill="#ff0000" transform="rotate(-22 769.4 1086.3)"/><rect x="774.1" y="1081.8" width="9" height="9" rx="1.2" fill="#ff0000" transform="rotate(22 778.6 1086.3)"/><rect x="745.55" y="1089.31" width="8.5" height="8.5" rx="1.2" fill="#ff0000" transform="rotate(-30 749.8 1093.56)"/><rect x="793.95" y="1089.31" width="8.5" height="8.5" rx="1.2" fill="#ff0000" transform="rotate(30 798.2 1093.56)"/><rect x="728.25" y="1094.5" width="8.5" height="8.5" rx="1.2" fill="#ff0000" transform="rotate(-30 732.5 1098.75)"/><rect x="811.25" y="1094.5" width="8.5" height="8.5" rx="1.2" fill="#ff0000" transform="rotate(30 815.5 1098.75)"/><rect x="711.75" y="1099.45" width="8.5" height="8.5" rx="1.2" fill="#ff0000" transform="rotate(-30 716 1103.7)"/><rect x="827.75" y="1099.45" width="8.5" height="8.5" rx="1.2" fill="#ff0000" transform="rotate(30 832 1103.7)"/><rect x="694.35" y="1104.67" width="8.5" height="8.5" rx="1.2" fill="#ff0000" transform="rotate(-30 698.6 1108.92)"/><rect x="845.15" y="1104.67" width="8.5" height="8.5" rx="1.2" fill="#ff0000" transform="rotate(30 849.4 1108.92)"/><rect x="677.75" y="1109.65" width="8.5" height="8.5" rx="1.2" fill="#ff0000" transform="rotate(-30 682 1113.9)"/><rect x="861.75" y="1109.65" width="8.5" height="8.5" rx="1.2" fill="#ff0000" transform="rotate(30 866 1113.9)"/><rect x="764.9" y="1096.9" width="9" height="9" rx="1.2" fill="#3b73c0" transform="rotate(-22 769.4 1101.4)"/><rect x="774.1" y="1096.9" width="9" height="9" rx="1.2" fill="#3b73c0" transform="rotate(22 778.6 1101.4)"/><rect x="750.15" y="1104.11" width="8.5" height="8.5" rx="1.2" fill="#3b73c0" transform="rotate(-30 754.4 1108.36)"/><rect x="789.35" y="1104.11" width="8.5" height="8.5" rx="1.2" fill="#3b73c0" transform="rotate(30 793.6 1108.36)"/><rect x="733.55" y="1110" width="8.5" height="8.5" rx="1.2" fill="#3b73c0" transform="rotate(-30 737.8 1114.25)"/><rect x="805.95" y="1110" width="8.5" height="8.5" rx="1.2" fill="#3b73c0" transform="rotate(30 810.2 1114.25)"/><rect x="716.25" y="1116.14" width="8.5" height="8.5" rx="1.2" fill="#3b73c0" transform="rotate(-30 720.5 1120.39)"/><rect x="823.25" y="1116.14" width="8.5" height="8.5" rx="1.2" fill="#3b73c0" transform="rotate(30 827.5 1120.39)"/><rect x="699.65" y="1122.04" width="8.5" height="8.5" rx="1.2" fill="#3b73c0" transform="rotate(-30 703.9 1126.29)"/><rect x="839.85" y="1122.04" width="8.5" height="8.5" rx="1.2" fill="#3b73c0" transform="rotate(30 844.1 1126.29)"/><rect x="680.75" y="1128.75" width="8.5" height="8.5" rx="1.2" fill="#3b73c0" transform="rotate(-30 685 1133)"/><rect x="858.75" y="1128.75" width="8.5" height="8.5" rx="1.2" fill="#3b73c0" transform="rotate(30 863 1133)"/><rect x="764.9" y="1111.2" width="9" height="9" rx="1.2" fill="#ff0000" transform="rotate(-22 769.4 1115.7)"/><rect x="774.1" y="1111.2" width="9" height="9" rx="1.2" fill="#ff0000" transform="rotate(22 778.6 1115.7)"/><rect x="749.35" y="1118.39" width="8.5" height="8.5" rx="1.2" fill="#ff0000" transform="rotate(-30 753.6 1122.64)"/><rect x="790.15" y="1118.39" width="8.5" height="8.5" rx="1.2" fill="#ff0000" transform="rotate(30 794.4 1122.64)"/><rect x="732.75" y="1124.03" width="8.5" height="8.5" rx="1.2" fill="#ff0000" transform="rotate(-30 737 1128.28)"/><rect x="806.75" y="1124.03" width="8.5" height="8.5" rx="1.2" fill="#ff0000" transform="rotate(30 811 1128.28)"/><rect x="716.25" y="1129.64" width="8.5" height="8.5" rx="1.2" fill="#ff0000" transform="rotate(-30 720.5 1133.89)"/><rect x="823.25" y="1129.64" width="8.5" height="8.5" rx="1.2" fill="#ff0000" transform="rotate(30 827.5 1133.89)"/><rect x="699.65" y="1135.28" width="8.5" height="8.5" rx="1.2" fill="#ff0000" transform="rotate(-30 703.9 1139.53)"/><rect x="839.85" y="1135.28" width="8.5" height="8.5" rx="1.2" fill="#ff0000" transform="rotate(30 844.1 1139.53)"/><rect x="680.75" y="1141.71" width="8.5" height="8.5" rx="1.2" fill="#ff0000" transform="rotate(-30 685 1145.96)"/><rect x="858.75" y="1141.71" width="8.5" height="8.5" rx="1.2" fill="#ff0000" transform="rotate(30 863 1145.96)"/><rect x="764.9" y="1131.5" width="9" height="9" rx="1.2" fill="#3b73c0" transform="rotate(-22 769.4 1136)"/><rect x="774.1" y="1131.5" width="9" height="9" rx="1.2" fill="#3b73c0" transform="rotate(22 778.6 1136)"/><rect x="748.65" y="1138.92" width="8.5" height="8.5" rx="1.2" fill="#3b73c0" transform="rotate(-30 752.9 1143.17)"/><rect x="790.85" y="1138.92" width="8.5" height="8.5" rx="1.2" fill="#3b73c0" transform="rotate(30 795.1 1143.17)"/><rect x="731.25" y="1144.84" width="8.5" height="8.5" rx="1.2" fill="#3b73c0" transform="rotate(-30 735.5 1149.09)"/><rect x="808.25" y="1144.84" width="8.5" height="8.5" rx="1.2" fill="#3b73c0" transform="rotate(30 812.5 1149.09)"/><rect x="714.75" y="1150.45" width="8.5" height="8.5" rx="1.2" fill="#3b73c0" transform="rotate(-30 719 1154.7)"/><rect x="824.75" y="1150.45" width="8.5" height="8.5" rx="1.2" fill="#3b73c0" transform="rotate(30 829 1154.7)"/><rect x="698.15" y="1156.09" width="8.5" height="8.5" rx="1.2" fill="#3b73c0" transform="rotate(-30 702.4 1160.34)"/><rect x="841.35" y="1156.09" width="8.5" height="8.5" rx="1.2" fill="#3b73c0" transform="rotate(30 845.6 1160.34)"/><rect x="680.75" y="1162.01" width="8.5" height="8.5" rx="1.2" fill="#3b73c0" transform="rotate(-30 685 1166.26)"/><rect x="858.75" y="1162.01" width="8.5" height="8.5" rx="1.2" fill="#3b73c0" transform="rotate(30 863 1166.26)"/><rect x="753.75" y="1161.75" width="8.5" height="8.5" rx="1.2" fill="#ff0000" transform="rotate(-10 758 1166)"/><rect x="736.25" y="1165.55" width="8.5" height="8.5" rx="1.2" fill="#ff0000" transform="rotate(-8 740.5 1169.8)"/><rect x="718.65" y="1166.55" width="8.5" height="8.5" rx="1.2" fill="#ff0000" transform="rotate(-5 722.9 1170.8)"/><rect x="701.25" y="1169.75" width="8.5" height="8.5" rx="1.2" fill="#ff0000" transform="rotate(-10 705.5 1174)"/><rect x="685.95" y="1178.35" width="8.5" height="8.5" rx="1.2" fill="#ff0000" transform="rotate(-30 690.2 1182.6)"/><rect x="785.75" y="1161.75" width="8.5" height="8.5" rx="1.2" fill="#ff0000" transform="rotate(10 790 1166)"/><rect x="803.75" y="1165.35" width="8.5" height="8.5" rx="1.2" fill="#ff0000" transform="rotate(8 808 1169.6)"/><rect x="821.75" y="1167.75" width="8.5" height="8.5" rx="1.2" fill="#ff0000" transform="rotate(5 826 1172)"/><rect x="838.75" y="1170.05" width="8.5" height="8.5" rx="1.2" fill="#ff0000" transform="rotate(10 843 1174.3)"/><rect x="853.75" y="1177.25" width="8.5" height="8.5" rx="1.2" fill="#ff0000" transform="rotate(30 858 1181.5)"/><rect x="766.75" y="1151.05" width="8.5" height="8.5" rx="1.2" fill="#ff0000" transform="rotate(45 771 1155.3)"/><rect x="755.35" y="1188.35" width="8.5" height="8.5" rx="1.2" fill="#3b73c0" transform="rotate(5 759.6 1192.6)"/><rect x="737.35" y="1188.35" width="8.5" height="8.5" rx="1.2" fill="#3b73c0" transform="rotate(5 741.6 1192.6)"/><rect x="719.25" y="1188.35" width="8.5" height="8.5" rx="1.2" fill="#3b73c0" transform="rotate(5 723.5 1192.6)"/><rect x="701.15" y="1188.55" width="8.5" height="8.5" rx="1.2" fill="#3b73c0" transform="rotate(5 705.4 1192.8)"/><rect x="683.75" y="1190.25" width="8.5" height="8.5" rx="1.2" fill="#3b73c0" transform="rotate(5 688 1194.5)"/><rect x="787.05" y="1188.55" width="8.5" height="8.5" rx="1.2" fill="#3b73c0" transform="rotate(5 791.3 1192.8)"/><rect x="804.95" y="1188.55" width="8.5" height="8.5" rx="1.2" fill="#3b73c0" transform="rotate(5 809.2 1192.8)"/><rect x="822.75" y="1188.55" width="8.5" height="8.5" rx="1.2" fill="#3b73c0" transform="rotate(5 827 1192.8)"/><rect x="840.55" y="1188.75" width="8.5" height="8.5" rx="1.2" fill="#3b73c0" transform="rotate(5 844.8 1193)"/><rect x="856.05" y="1189.75" width="8.5" height="8.5" rx="1.2" fill="#3b73c0" transform="rotate(5 860.3 1194)"/><rect x="771" y="1184" width="7" height="9" rx="1.2" fill="#3b73c0" transform="rotate(0 774.5 1188.5)"/></g><rect x="682" y="1199.6" width="184" height="2.8" fill="#a3a396"/><rect x="79.9" y="1207.55" width="8.2" height="7.9" fill="#2f6fbe"/><rect x="97.68" y="1207.55" width="8.2" height="7.9" fill="#2f6fbe"/><rect x="115.45" y="1207.55" width="8.2" height="7.9" fill="#2f6fbe"/><rect x="133.22" y="1207.55" width="8.2" height="7.9" fill="#2f6fbe"/><rect x="151" y="1207.55" width="8.2" height="7.9" fill="#2f6fbe"/><rect x="79.9" y="1220.85" width="8.2" height="7.9" fill="#2f6fbe"/><rect x="97.68" y="1220.85" width="8.2" height="7.9" fill="#2f6fbe"/><rect x="115.45" y="1220.85" width="8.2" height="7.9" fill="#2f6fbe"/><rect x="133.22" y="1220.85" width="8.2" height="7.9" fill="#2f6fbe"/><rect x="151" y="1220.85" width="8.2" height="7.9" fill="#2f6fbe"/><rect x="79.9" y="1232.05" width="8.2" height="7.9" fill="#2f6fbe"/><rect x="97.68" y="1232.05" width="8.2" height="7.9" fill="#2f6fbe"/><rect x="115.45" y="1232.05" width="8.2" height="7.9" fill="#2f6fbe"/><rect x="133.22" y="1232.05" width="8.2" height="7.9" fill="#2f6fbe"/><rect x="151" y="1232.05" width="8.2" height="7.9" fill="#2f6fbe"/><rect x="79.9" y="1243.35" width="8.2" height="7.9" fill="#2f6fbe"/><rect x="97.68" y="1243.35" width="8.2" height="7.9" fill="#2f6fbe"/><rect x="115.45" y="1243.35" width="8.2" height="7.9" fill="#2f6fbe"/><rect x="133.22" y="1243.35" width="8.2" height="7.9" fill="#2f6fbe"/><rect x="151" y="1243.35" width="8.2" height="7.9" fill="#2f6fbe"/><rect x="186.7" y="1207.95" width="8.2" height="7.9" fill="#2f6fbe"/><rect x="204.48" y="1207.95" width="8.2" height="7.9" fill="#2f6fbe"/><rect x="222.27" y="1207.95" width="8.2" height="7.9" fill="#2f6fbe"/><rect x="240.05" y="1207.95" width="8.2" height="7.9" fill="#2f6fbe"/><rect x="257.83" y="1207.95" width="8.2" height="7.9" fill="#2f6fbe"/><rect x="275.62" y="1207.95" width="8.2" height="7.9" fill="#2f6fbe"/><rect x="293.4" y="1207.95" width="8.2" height="7.9" fill="#2f6fbe"/><rect x="186.7" y="1220.65" width="8.2" height="7.9" fill="#2f6fbe"/><rect x="204.48" y="1220.65" width="8.2" height="7.9" fill="#2f6fbe"/><rect x="222.27" y="1220.65" width="8.2" height="7.9" fill="#2f6fbe"/><rect x="240.05" y="1220.65" width="8.2" height="7.9" fill="#2f6fbe"/><rect x="257.83" y="1220.65" width="8.2" height="7.9" fill="#2f6fbe"/><rect x="275.62" y="1220.65" width="8.2" height="7.9" fill="#2f6fbe"/><rect x="293.4" y="1220.65" width="8.2" height="7.9" fill="#2f6fbe"/><rect x="186.7" y="1232.55" width="8.2" height="7.9" fill="#2f6fbe"/><rect x="204.48" y="1232.55" width="8.2" height="7.9" fill="#2f6fbe"/><rect x="222.27" y="1232.55" width="8.2" height="7.9" fill="#2f6fbe"/><rect x="240.05" y="1232.55" width="8.2" height="7.9" fill="#2f6fbe"/><rect x="257.83" y="1232.55" width="8.2" height="7.9" fill="#2f6fbe"/><rect x="275.62" y="1232.55" width="8.2" height="7.9" fill="#2f6fbe"/><rect x="293.4" y="1232.55" width="8.2" height="7.9" fill="#2f6fbe"/><rect x="186.7" y="1245.25" width="8.2" height="7.9" fill="#2f6fbe"/><rect x="204.48" y="1245.25" width="8.2" height="7.9" fill="#2f6fbe"/><rect x="222.27" y="1245.25" width="8.2" height="7.9" fill="#2f6fbe"/><rect x="240.05" y="1245.25" width="8.2" height="7.9" fill="#2f6fbe"/><rect x="257.83" y="1245.25" width="8.2" height="7.9" fill="#2f6fbe"/><rect x="275.62" y="1245.25" width="8.2" height="7.9" fill="#2f6fbe"/><rect x="293.4" y="1245.25" width="8.2" height="7.9" fill="#2f6fbe"/><rect x="331.3" y="1209.85" width="8.2" height="7.9" fill="#2f6fbe"/><rect x="349.14" y="1209.85" width="8.2" height="7.9" fill="#2f6fbe"/><rect x="366.99" y="1209.85" width="8.2" height="7.9" fill="#2f6fbe"/><rect x="384.83" y="1209.85" width="8.2" height="7.9" fill="#2f6fbe"/><rect x="402.67" y="1209.85" width="8.2" height="7.9" fill="#2f6fbe"/><rect x="420.51" y="1209.85" width="8.2" height="7.9" fill="#2f6fbe"/><rect x="438.36" y="1209.85" width="8.2" height="7.9" fill="#2f6fbe"/><rect x="456.2" y="1209.85" width="8.2" height="7.9" fill="#2f6fbe"/><rect x="331.3" y="1223.05" width="8.2" height="7.9" fill="#2f6fbe"/><rect x="349.14" y="1223.05" width="8.2" height="7.9" fill="#2f6fbe"/><rect x="366.99" y="1223.05" width="8.2" height="7.9" fill="#2f6fbe"/><rect x="384.83" y="1223.05" width="8.2" height="7.9" fill="#2f6fbe"/><rect x="402.67" y="1223.05" width="8.2" height="7.9" fill="#2f6fbe"/><rect x="420.51" y="1223.05" width="8.2" height="7.9" fill="#2f6fbe"/><rect x="438.36" y="1223.05" width="8.2" height="7.9" fill="#2f6fbe"/><rect x="456.2" y="1223.05" width="8.2" height="7.9" fill="#2f6fbe"/><rect x="331.3" y="1234.35" width="8.2" height="7.9" fill="#2f6fbe"/><rect x="349.14" y="1234.35" width="8.2" height="7.9" fill="#2f6fbe"/><rect x="366.99" y="1234.35" width="8.2" height="7.9" fill="#2f6fbe"/><rect x="384.83" y="1234.35" width="8.2" height="7.9" fill="#2f6fbe"/><rect x="402.67" y="1234.35" width="8.2" height="7.9" fill="#2f6fbe"/><rect x="420.51" y="1234.35" width="8.2" height="7.9" fill="#2f6fbe"/><rect x="438.36" y="1234.35" width="8.2" height="7.9" fill="#2f6fbe"/><rect x="456.2" y="1234.35" width="8.2" height="7.9" fill="#2f6fbe"/><rect x="331.3" y="1245.55" width="8.2" height="7.9" fill="#2f6fbe"/><rect x="349.14" y="1245.55" width="8.2" height="7.9" fill="#2f6fbe"/><rect x="366.99" y="1245.55" width="8.2" height="7.9" fill="#2f6fbe"/><rect x="384.83" y="1245.55" width="8.2" height="7.9" fill="#2f6fbe"/><rect x="402.67" y="1245.55" width="8.2" height="7.9" fill="#2f6fbe"/><rect x="420.51" y="1245.55" width="8.2" height="7.9" fill="#2f6fbe"/><rect x="438.36" y="1245.55" width="8.2" height="7.9" fill="#2f6fbe"/><rect x="456.2" y="1245.55" width="8.2" height="7.9" fill="#2f6fbe"/><rect x="492.2" y="1210.75" width="8.2" height="7.9" fill="#2f6fbe"/><rect x="509.96" y="1210.75" width="8.2" height="7.9" fill="#2f6fbe"/><rect x="527.73" y="1210.75" width="8.2" height="7.9" fill="#2f6fbe"/><rect x="545.49" y="1210.75" width="8.2" height="7.9" fill="#2f6fbe"/><rect x="563.25" y="1210.75" width="8.2" height="7.9" fill="#2f6fbe"/><rect x="581.01" y="1210.75" width="8.2" height="7.9" fill="#2f6fbe"/><rect x="598.77" y="1210.75" width="8.2" height="7.9" fill="#2f6fbe"/><rect x="616.54" y="1210.75" width="8.2" height="7.9" fill="#2f6fbe"/><rect x="634.3" y="1210.75" width="8.2" height="7.9" fill="#2f6fbe"/><rect x="492.2" y="1221.05" width="8.2" height="7.9" fill="#2f6fbe"/><rect x="509.96" y="1221.05" width="8.2" height="7.9" fill="#2f6fbe"/><rect x="527.73" y="1221.05" width="8.2" height="7.9" fill="#2f6fbe"/><rect x="545.49" y="1221.05" width="8.2" height="7.9" fill="#2f6fbe"/><rect x="563.25" y="1221.05" width="8.2" height="7.9" fill="#2f6fbe"/><rect x="581.01" y="1221.05" width="8.2" height="7.9" fill="#2f6fbe"/><rect x="598.77" y="1221.05" width="8.2" height="7.9" fill="#2f6fbe"/><rect x="616.54" y="1221.05" width="8.2" height="7.9" fill="#2f6fbe"/><rect x="634.3" y="1221.05" width="8.2" height="7.9" fill="#2f6fbe"/><rect x="492.2" y="1232.35" width="8.2" height="7.9" fill="#2f6fbe"/><rect x="509.96" y="1232.35" width="8.2" height="7.9" fill="#2f6fbe"/><rect x="527.73" y="1232.35" width="8.2" height="7.9" fill="#2f6fbe"/><rect x="545.49" y="1232.35" width="8.2" height="7.9" fill="#2f6fbe"/><rect x="563.25" y="1232.35" width="8.2" height="7.9" fill="#2f6fbe"/><rect x="581.01" y="1232.35" width="8.2" height="7.9" fill="#2f6fbe"/><rect x="598.77" y="1232.35" width="8.2" height="7.9" fill="#2f6fbe"/><rect x="616.54" y="1232.35" width="8.2" height="7.9" fill="#2f6fbe"/><rect x="634.3" y="1232.35" width="8.2" height="7.9" fill="#2f6fbe"/><rect x="492.2" y="1245.55" width="8.2" height="7.9" fill="#2f6fbe"/><rect x="509.96" y="1245.55" width="8.2" height="7.9" fill="#2f6fbe"/><rect x="527.73" y="1245.55" width="8.2" height="7.9" fill="#2f6fbe"/><rect x="545.49" y="1245.55" width="8.2" height="7.9" fill="#2f6fbe"/><rect x="563.25" y="1245.55" width="8.2" height="7.9" fill="#2f6fbe"/><rect x="581.01" y="1245.55" width="8.2" height="7.9" fill="#2f6fbe"/><rect x="598.77" y="1245.55" width="8.2" height="7.9" fill="#2f6fbe"/><rect x="616.54" y="1245.55" width="8.2" height="7.9" fill="#2f6fbe"/><rect x="634.3" y="1245.55" width="8.2" height="7.9" fill="#2f6fbe"/><rect x="683.1" y="1212.05" width="8.2" height="7.9" fill="#2f6fbe"/><rect x="700.88" y="1212.05" width="8.2" height="7.9" fill="#2f6fbe"/><rect x="718.66" y="1212.05" width="8.2" height="7.9" fill="#2f6fbe"/><rect x="736.44" y="1212.05" width="8.2" height="7.9" fill="#2f6fbe"/><rect x="754.22" y="1212.05" width="8.2" height="7.9" fill="#2f6fbe"/><rect x="772" y="1212.05" width="8.2" height="7.9" fill="#2f6fbe"/><rect x="789.78" y="1212.05" width="8.2" height="7.9" fill="#2f6fbe"/><rect x="807.56" y="1212.05" width="8.2" height="7.9" fill="#2f6fbe"/><rect x="825.34" y="1212.05" width="8.2" height="7.9" fill="#2f6fbe"/><rect x="843.12" y="1212.05" width="8.2" height="7.9" fill="#2f6fbe"/><rect x="860.9" y="1212.05" width="8.2" height="7.9" fill="#2f6fbe"/><rect x="683.1" y="1223.35" width="8.2" height="7.9" fill="#2f6fbe"/><rect x="700.88" y="1223.35" width="8.2" height="7.9" fill="#2f6fbe"/><rect x="718.66" y="1223.35" width="8.2" height="7.9" fill="#2f6fbe"/><rect x="736.44" y="1223.35" width="8.2" height="7.9" fill="#2f6fbe"/><rect x="754.22" y="1223.35" width="8.2" height="7.9" fill="#2f6fbe"/><rect x="772" y="1223.35" width="8.2" height="7.9" fill="#2f6fbe"/><rect x="789.78" y="1223.35" width="8.2" height="7.9" fill="#2f6fbe"/><rect x="807.56" y="1223.35" width="8.2" height="7.9" fill="#2f6fbe"/><rect x="825.34" y="1223.35" width="8.2" height="7.9" fill="#2f6fbe"/><rect x="843.12" y="1223.35" width="8.2" height="7.9" fill="#2f6fbe"/><rect x="860.9" y="1223.35" width="8.2" height="7.9" fill="#2f6fbe"/><rect x="683.1" y="1236.85" width="8.2" height="7.9" fill="#2f6fbe"/><rect x="700.88" y="1236.85" width="8.2" height="7.9" fill="#2f6fbe"/><rect x="718.66" y="1236.85" width="8.2" height="7.9" fill="#2f6fbe"/><rect x="736.44" y="1236.85" width="8.2" height="7.9" fill="#2f6fbe"/><rect x="754.22" y="1236.85" width="8.2" height="7.9" fill="#2f6fbe"/><rect x="772" y="1236.85" width="8.2" height="7.9" fill="#2f6fbe"/><rect x="789.78" y="1236.85" width="8.2" height="7.9" fill="#2f6fbe"/><rect x="807.56" y="1236.85" width="8.2" height="7.9" fill="#2f6fbe"/><rect x="825.34" y="1236.85" width="8.2" height="7.9" fill="#2f6fbe"/><rect x="843.12" y="1236.85" width="8.2" height="7.9" fill="#2f6fbe"/><rect x="860.9" y="1236.85" width="8.2" height="7.9" fill="#2f6fbe"/><rect x="683.1" y="1248.35" width="8.2" height="7.9" fill="#2f6fbe"/><rect x="700.88" y="1248.35" width="8.2" height="7.9" fill="#2f6fbe"/><rect x="718.66" y="1248.35" width="8.2" height="7.9" fill="#2f6fbe"/><rect x="736.44" y="1248.35" width="8.2" height="7.9" fill="#2f6fbe"/><rect x="754.22" y="1248.35" width="8.2" height="7.9" fill="#2f6fbe"/><rect x="772" y="1248.35" width="8.2" height="7.9" fill="#2f6fbe"/><rect x="789.78" y="1248.35" width="8.2" height="7.9" fill="#2f6fbe"/><rect x="807.56" y="1248.35" width="8.2" height="7.9" fill="#2f6fbe"/><rect x="825.34" y="1248.35" width="8.2" height="7.9" fill="#2f6fbe"/><rect x="843.12" y="1248.35" width="8.2" height="7.9" fill="#2f6fbe"/><rect x="860.9" y="1248.35" width="8.2" height="7.9" fill="#2f6fbe"/><path d="M878.6,712 H889.7 V1201.6 H879.3 M889.7,957 H902" fill="none" stroke="#3565b0" stroke-width="3.4"/><text x="910.5" y="976" font-family="Liberation Serif, serif" font-weight="bold" font-size="55" fill="#000" stroke="#000" stroke-width="0.9" textLength="20" lengthAdjust="spacingAndGlyphs">~</text><text x="947" y="969" font-family="Liberation Sans, sans-serif" font-weight="bold" font-size="39.5" fill="#000" textLength="48.5" lengthAdjust="spacingAndGlyphs">30</text><ellipse cx="176.4" cy="805" rx="14.6" ry="13.8" fill="#4f81bd" stroke="#264b7c" stroke-width="2.5"/><ellipse cx="215.4" cy="806.6" rx="14.6" ry="13.8" fill="#4f81bd" stroke="#264b7c" stroke-width="2.5"/><ellipse cx="134.6" cy="834.4" rx="14.6" ry="13.8" fill="#4f81bd" stroke="#264b7c" stroke-width="2.5"/><ellipse cx="173.4" cy="847" rx="14.6" ry="13.8" fill="#4f81bd" stroke="#264b7c" stroke-width="2.5"/><ellipse cx="256.6" cy="838" rx="14.6" ry="13.8" fill="#4f81bd" stroke="#264b7c" stroke-width="2.5"/><ellipse cx="213" cy="856" rx="14.6" ry="13.8" fill="#4f81bd" stroke="#264b7c" stroke-width="2.5"/><ellipse cx="248" cy="875.6" rx="14.6" ry="13.8" fill="#4f81bd" stroke="#264b7c" stroke-width="2.5"/><ellipse cx="128.4" cy="886" rx="14.6" ry="13.8" fill="#4f81bd" stroke="#264b7c" stroke-width="2.5"/><ellipse cx="172.6" cy="888.4" rx="14.6" ry="13.8" fill="#4f81bd" stroke="#264b7c" stroke-width="2.5"/><ellipse cx="210.6" cy="903" rx="14.6" ry="13.8" fill="#4f81bd" stroke="#264b7c" stroke-width="2.5"/><ellipse cx="265.6" cy="911.6" rx="14.6" ry="13.8" fill="#4f81bd" stroke="#264b7c" stroke-width="2.5"/><ellipse cx="146" cy="925" rx="14.6" ry="13.8" fill="#4f81bd" stroke="#264b7c" stroke-width="2.5"/><ellipse cx="187.4" cy="945" rx="14.6" ry="13.8" fill="#4f81bd" stroke="#264b7c" stroke-width="2.5"/><ellipse cx="234" cy="940" rx="14.6" ry="13.8" fill="#4f81bd" stroke="#264b7c" stroke-width="2.5"/><text x="111" y="997" font-family="Liberation Sans, sans-serif" font-size="23" fill="#111" textLength="174" lengthAdjust="spacingAndGlyphs">Follicular cells</text><text x="3.5" y="41.4" font-family="Liberation Sans, sans-serif" font-weight="bold" font-size="51" fill="#000" textLength="37" lengthAdjust="spacingAndGlyphs">A</text><text x="5" y="706.5" font-family="Liberation Sans, sans-serif" font-weight="bold" font-size="52" fill="#000" textLength="32" lengthAdjust="spacingAndGlyphs">B</text><text x="187" y="725" font-family="Liberation Serif, serif" font-weight="bold" font-size="55" fill="#ff0000" stroke="#f00" stroke-width="0.9" textLength="20" lengthAdjust="spacingAndGlyphs">~</text><text x="228.5" y="719" font-family="Liberation Sans, sans-serif" font-weight="bold" font-size="39.5" fill="#ff0000" textLength="50" lengthAdjust="spacingAndGlyphs">30</text><path d="M108.5,755.84 L108.75,758.47 L109,760.89 L109.25,763.03 L109.5,764.86 L109.75,766.34 L110,767.43 L110.25,768.12 L110.5,768.4 L110.75,768.24 L111,767.67 L111.25,766.68 L111.5,765.31 L111.75,763.58 L112,761.52 L112.25,759.17 L112.5,756.6 L112.75,753.84 L113,750.96 L113.25,748.01 L113.5,745.05 L113.75,742.16 L114,739.38 L114.25,736.77 L114.5,734.4 L114.75,732.29 L115,730.51 L115.25,729.09 L115.5,728.05 L115.75,727.41 L116,727.2 L116.25,727.41 L116.5,728.05 L116.75,729.09 L117,730.51 L117.25,732.29 L117.5,734.4 L117.75,736.77 L118,739.38 L118.25,742.16 L118.5,745.05 L118.75,748.01 L119,750.96 L119.25,753.84 L119.5,756.6 L119.75,759.17 L120,761.52 L120.25,763.58 L120.5,765.31 L120.75,766.68 L121,767.67 L121.25,768.24 L121.5,768.4 L121.75,768.12 L122,767.43 L122.25,766.34 L122.5,764.86 L122.75,763.03 L123,760.89 L123.25,758.47 L123.5,755.84 L123.75,753.04 L124,750.13 L124.25,747.18 L124.5,744.24 L124.75,741.37 L125,738.63 L125.25,736.08 L125.5,733.78 L125.75,731.76 L126,730.07 L126.25,728.75 L126.5,727.83 L126.75,727.31 L127,727.22 L127.25,727.55 L127.5,728.3 L127.75,729.45 L128,730.98 L128.25,732.85 L128.5,735.04 L128.75,737.48 L129,740.14 L129.25,742.96 L129.5,745.88 L129.75,748.84 L130,751.77 L130.25,754.63 L130.5,757.34 L130.75,759.86 L131,762.12 L131.25,764.1 L131.5,765.73 L131.75,767 L132,767.87 L132.25,768.33 L132.5,768.36 L132.75,767.97 L133,767.17 L133.25,765.96 L133.5,764.38 L133.75,762.46 L134,760.24 L134.25,757.76 L134.5,755.07 L134.75,752.24 L135,749.31 L135.25,746.35 L135.5,743.42 L135.75,740.58 L136,737.9 L136.25,735.41 L136.5,733.18 L136.75,731.25 L137,729.67 L137.25,728.45 L137.5,727.64 L137.75,727.24 L138,727.27 L138.25,727.72 L138.5,728.58 L138.75,729.84 L139,731.47 L139.25,733.43 L139.5,735.7 L139.75,738.21 L140,740.92 L140.25,743.77 L140.5,746.71 L140.75,749.66 L141,752.58 L141.25,755.4 L141.5,758.07 L141.75,760.52 L142,762.71 L142.25,764.59 L142.5,766.13 L142.75,767.28 L143,768.04 L143.25,768.38 L143.5,768.3 L143.75,767.79 L144,766.87 L144.25,765.56 L144.5,763.88 L144.75,761.87 L145,759.57 L145.25,757.02 L145.5,754.29 L145.75,751.42 L146,748.48 L146.25,745.53 L146.5,742.62 L146.75,739.81 L147,737.18 L147.25,734.76 L147.5,732.61 L147.75,730.77 L148,729.29 L148.25,728.18 L148.5,727.49 L148.75,727.21 L149,727.35 L149.25,727.92 L149.5,728.89 L149.75,730.26 L150,731.99 L150.25,734.04 L150.5,736.38 L150.75,738.95 L151,741.71 L151.25,744.59 L151.5,747.53 L151.75,750.49 L152,753.38 L152.25,756.17 L152.5,758.78 L152.75,761.16 L153,763.27 L153.25,765.06 L153.5,766.49 L153.75,767.54 L154,768.18 L154.25,768.4 L154.5,768.2 L154.75,767.57 L155,766.54 L155.25,765.12 L155.5,763.35 L155.75,761.25 L156,758.88 L156.25,756.27 L156.5,753.5 L156.75,750.6 L157,747.65 L157.25,744.7 L157.5,741.82 L157.75,739.06 L158,736.48 L158.25,734.13 L158.5,732.06 L158.75,730.32 L159,728.94 L159.25,727.95 L159.5,727.36 L159.75,727.2 L160,727.47 L160.25,728.15 L160.5,729.24 L160.75,730.71 L161,732.53 L161.25,734.67 L161.5,737.08 L161.75,739.71 L162,742.5 L162.25,745.41 L162.5,748.36 L162.75,751.31 L163,754.18 L163.25,756.92 L163.5,759.47 L163.75,761.78 L164,763.8 L164.25,765.5 L164.5,766.82 L164.75,767.76 L165,768.28 L165.25,768.39 L165.5,768.06 L165.75,767.32 L166,766.18 L166.25,764.66 L166.5,762.79 L166.75,760.61 L167,758.17 L167.25,755.51 L167.5,752.7 L167.75,749.78 L168,746.82 L168.25,743.89 L168.5,741.03 L168.75,738.31 L169,735.79 L169.25,733.52 L169.5,731.54 L169.75,729.9 L170,728.62 L170.25,727.74 L170.5,727.28 L170.75,727.23 L171,727.62 L171.25,728.41 L171.5,729.61 L171.75,731.18 L172,733.1 L172.25,735.32 L172.5,737.79 L172.75,740.47 L173,743.31 L173.25,746.23 L173.5,749.19 L173.75,752.12 L174,754.96 L174.25,757.65 L174.5,760.14 L174.75,762.38 L175,764.31 L175.25,765.91 L175.5,767.13 L175.75,767.95 L176,768.36 L176.25,768.34 L176.5,767.9 L176.75,767.04 L177,765.79 L177.25,764.17 L177.5,762.21 L177.75,759.95 L178,757.44 L178.25,754.74 L178.5,751.89 L178.75,748.95 L179,746 L179.25,743.08 L179.5,740.25 L179.75,737.59 L180,735.13 L180.25,732.93 L180.5,731.04 L180.75,729.5 L181,728.33 L181.25,727.57 L181.5,727.22 L181.75,727.3 L182,727.8 L182.25,728.71 L182.5,730.01 L182.75,731.69 L183,733.69 L183.25,735.99 L183.5,738.52 L183.75,741.25 L184,744.12 L184.25,747.06 L184.5,750.02 L184.75,752.93 L185,755.73 L185.25,758.37 L185.5,760.8 L185.75,762.95 L186,764.79 L186.25,766.29 L186.5,767.4 L186.75,768.1 L187,768.39 L187.25,768.26 L187.5,767.7 L187.75,766.73 L188,765.37 L188.25,763.65 L188.5,761.6 L188.75,759.27 L189,756.7 L189.25,753.95 L189.5,751.07 L189.75,748.13 L190,745.17 L190.25,742.27 L190.5,739.49 L190.75,736.87 L191,734.49 L191.25,732.37 L191.5,730.58 L191.75,729.13 L192,728.08 L192.25,727.43 L192.5,727.2 L192.75,727.4 L193,728.01 L193.25,729.04 L193.5,730.45 L193.75,732.22 L194,734.31 L194.25,736.67 L194.5,739.27 L194.75,742.05 L195,744.94 L195.25,747.89 L195.5,750.84 L195.75,753.72 L196,756.49 L196.25,759.07 L196.5,761.43 L196.75,763.5 L197,765.25 L197.25,766.64 L197.5,767.64 L197.75,768.23 L198,768.4 L198.25,768.14 L198.5,767.47 L198.75,766.39 L199,764.93 L199.25,763.11 L199.5,760.98 L199.75,758.57 L200,755.95 L200.25,753.16 L200.5,750.25 L200.75,747.3 L201,744.35 L201.25,741.48 L201.5,738.74 L201.75,736.18 L202,733.86 L202.25,731.83 L202.5,730.14 L202.75,728.8 L203,727.86 L203.25,727.32 L203.5,727.21 L203.75,727.53 L204,728.26 L204.25,729.39 L204.5,730.91 L204.75,732.77 L205,734.94 L205.25,737.38 L205.5,740.03 L205.75,742.85 L206,745.76 L206.25,748.72 L206.5,751.66 L206.75,754.51 L207,757.23 L207.25,759.76 L207.5,762.04 L207.75,764.02 L208,765.67 L208.25,766.96 L208.5,767.84 L208.75,768.32 L209,768.37 L209.25,768 L209.5,767.21 L209.75,766.02 L210,764.45 L210.25,762.54 L210.5,760.33 L210.75,757.86 L211,755.18 L211.25,752.35 L211.5,749.43 L211.75,746.47 L212,743.54 L212.25,740.7 L212.5,738 L212.75,735.51 L213,733.27 L213.25,731.32 L213.5,729.72 L213.75,728.49 L214,727.66 L214.25,727.25 L214.5,727.26 L214.75,727.69 L215,728.54 L215.25,729.78 L215.5,731.4 L215.75,733.35 L216,735.6 L216.25,738.1 L216.5,740.81 L216.75,743.65 L217,746.59 L217.25,749.54 L217.5,752.47 L217.75,755.29 L218,757.96 L218.25,760.42 L218.5,762.63 L218.75,764.52 L219,766.07 L219.25,767.25 L219.5,768.02 L219.75,768.38 L220,768.31 L220.25,767.82 L220.5,766.91 L220.75,765.62 L221,763.95 L221.25,761.95 L221.5,759.66 L221.75,757.13 L222,754.4 L222.25,751.54 L222.5,748.6 L222.75,745.64 L223,742.73 L223.25,739.92 L223.5,737.28 L223.75,734.85 L224,732.69 L224.25,730.84 L224.5,729.34 L224.75,728.22 L225,727.51 L225.25,727.21 L225.5,727.34 L225.75,727.89 L226,728.85 L226.25,730.2 L226.5,731.91 L226.75,733.95 L227,736.28 L227.25,738.84 L227.5,741.59 L227.75,744.47 L228,747.42 L228.25,750.37 L228.5,753.27 L228.75,756.06 L229,758.68 L229.25,761.07 L229.5,763.19 L229.75,764.99 L230,766.44 L230.25,767.5 L230.5,768.16 L230.75,768.4 L231,768.21 L231.25,767.6 L231.5,766.59 L231.75,765.18 L232,763.42 L232.25,761.34 L232.5,758.98 L232.75,756.38 L233,753.61 L233.25,750.72 L233.5,747.77 L233.75,744.82 L234,741.93 L234.25,739.16 L234.5,736.57 L234.75,734.22 L235,732.14 L235.25,730.38 L235.5,728.99 L235.75,727.98 L236,727.38 L236.25,727.2 L236.5,727.45 L236.75,728.11 L237,729.19 L237.25,730.64 L237.5,732.45 L237.75,734.58 L238,736.97 L238.25,739.6 L238.5,742.39 L238.75,745.29 L239,748.24 L239.25,751.19 L239.5,754.06 L239.75,756.81 L240,759.37 L240.25,761.69 L240.5,763.73 L240.75,765.43 L241,766.78 L241.25,767.73 L241.5,768.27 L241.75,768.39 L242,768.08 L242.25,767.36 L242.5,766.23 L242.75,764.73 L243,762.87 L243.25,760.7 L243.5,758.27 L243.75,755.62 L244,752.81 L244.25,749.9 L244.5,746.94 L244.75,744 L245,741.14 L245.25,738.42 L245.5,735.89 L245.75,733.6 L246,731.61 L246.25,729.95 L246.5,728.66 L246.75,727.77 L247,727.29 L247.25,727.23 L247.5,727.59 L247.75,728.37 L248,729.56 L248.25,731.11 L248.5,733.02 L248.75,735.22 L249,737.69 L249.25,740.36 L249.5,743.19 L249.75,746.11 L250,749.07 L250.25,752 L250.5,754.85 L250.75,757.55 L251,760.05 L251.25,762.29 L251.5,764.24 L251.75,765.85 L252,767.08 L252.25,767.92 L252.5,768.35 L252.75,768.35 L253,767.92 L253.25,767.08 L253.5,765.85 L253.75,764.24 L254,762.29 L254.25,760.05 L254.5,757.55 L254.75,754.85 L255,752 L255.25,749.07 L255.5,746.11 L255.75,743.19 L256,740.36 L256.25,737.69 L256.5,735.22 L256.75,733.02 L257,731.11 L257.25,729.56 L257.5,728.37 L257.75,727.59 L258,727.23 L258.25,727.29 L258.5,727.77 L258.75,728.66 L259,729.95 L259.25,731.61 L259.5,733.6 L259.75,735.89 L260,738.42 L260.25,741.14 L260.5,744 L260.75,746.94 L261,749.9 L261.25,752.81 L261.5,755.62 L261.75,758.27 L262,760.7 L262.25,762.87 L262.5,764.73 L262.75,766.23 L263,767.36 L263.25,768.08 L263.5,768.39 L263.75,768.27 L264,767.73 L264.25,766.78 L264.5,765.43 L264.75,763.73 L265,761.69 L265.25,759.37 L265.5,756.81 L265.75,754.06 L266,751.19 L266.25,748.24 L266.5,745.29 L266.75,742.39 L267,739.6 L267.25,736.97 L267.5,734.58 L267.75,732.45 L268,730.64 L268.25,729.19 L268.5,728.11 L268.75,727.45 L269,727.2 L269.25,727.38 L269.5,727.98 L269.75,728.99 L270,730.38 L270.25,732.14 L270.5,734.22 L270.75,736.57 L271,739.16 L271.25,741.93 L271.5,744.82 L271.75,747.77 L272,750.72 L272.25,753.61 L272.5,756.38 L272.75,758.98 L273,761.34 L273.25,763.42 L273.5,765.18 L273.75,766.59 L274,767.6 L274.25,768.21 L274.5,768.4" fill="none" stroke="#ff0000" stroke-width="1.7"/><path d="M48.5,1246 C57.95,1246 61.55,1216.3 71,1216.3 C81.71,1216.3 85.79,1246 96.5,1246 C102.59,1246 104.91,1216.3 111,1216.3 C122.66,1216.3 127.09,1246 138.75,1246 C145.05,1246 147.45,1216.3 153.75,1216.3 C164.25,1216.3 168.25,1246 178.75,1246 C186.1,1246 188.9,1216.3 196.25,1216.3 C206.22,1216.3 210.03,1246 220,1246 C227.88,1246 230.88,1216.3 238.75,1216.3 C248.09,1216.3 251.66,1246 261,1246 C269.4,1246 272.6,1216.3 281,1216.3 C288.98,1216.3 292.02,1246 300,1246 C306.82,1246 309.43,1216.3 316.25,1216.3 C325.18,1216.3 328.57,1246 337.5,1246 C344.32,1246 346.93,1216.3 353.75,1216.3 C361.1,1216.3 363.9,1246 371.25,1246 C377.55,1246 379.95,1216.3 386.25,1216.3 C394.12,1216.3 397.12,1246 405,1246 C411.82,1246 414.43,1216.3 421.25,1216.3 C428.6,1216.3 431.4,1246 438.75,1246 C445.57,1246 448.18,1216.3 455,1216.3 C463.4,1216.3 466.6,1246 475,1246 C482.88,1246 485.88,1216.3 493.75,1216.3 C501.1,1216.3 503.9,1246 511.25,1246 C517.55,1246 519.95,1216.3 526.25,1216.3 C534.12,1216.3 537.12,1246 545,1246 C549.73,1246 551.52,1216.3 556.25,1216.3 C565.7,1216.3 569.3,1246 578.75,1246 C583.48,1246 585.27,1216.3 590,1216.3 C600.5,1216.3 604.5,1246 615,1246 C618.67,1246 620.08,1216.3 623.75,1216.3 C634.77,1216.3 638.98,1246 650,1246 C653.67,1246 655.08,1216.3 658.75,1216.3 C669.77,1216.3 673.98,1246 685,1246 C688.15,1246 689.35,1216.3 692.5,1216.3 C701.42,1216.3 704.83,1246 713.75,1246 C718.48,1246 720.27,1216.3 725,1216.3 C732.88,1216.3 735.88,1246 743.75,1246 C749.52,1246 751.73,1216.3 757.5,1216.3 C766.95,1216.3 770.55,1246 780,1246 C785.25,1246 787.25,1216.3 792.5,1216.3 C800.38,1216.3 803.38,1246 811.25,1246 C817.55,1246 819.95,1216.3 826.25,1216.3 C836.23,1216.3 840.02,1246 850,1246 C854.2,1246 855.8,1216.3 860,1216.3 C872.6,1216.3 877.4,1246 890,1246" fill="none" stroke="#ff0000" stroke-width="3.8" stroke-linecap="round"/></svg></body></html>
